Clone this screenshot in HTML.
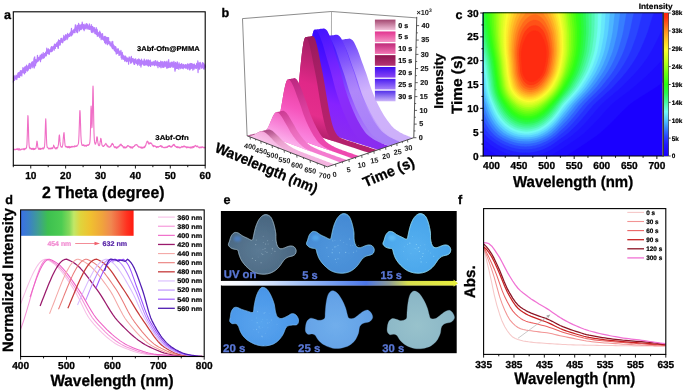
<!DOCTYPE html>
<html lang="en"><head><meta charset="utf-8"><title>Figure</title>
<style>
html,body{margin:0;padding:0;background:#fff;}
body{width:685px;height:390px;overflow:hidden;}
svg{display:block;}
svg text{font-family:"Liberation Sans",sans-serif;text-rendering:geometricPrecision;}
</style></head><body>
<svg width="685" height="390" viewBox="0 0 685 390">
<rect width="685" height="390" fill="#fff"/>
<g id="panel_a">
<path d="M13.3 82.54 L13.57 80.02 L13.85 79.22 L14.12 75.66 L14.4 78.14 L14.67 77.78 L14.95 78.02 L15.22 76.88 L15.5 77.65 L15.77 76.69 L16.05 75.04 L16.32 78.56 L16.59 78.33 L16.87 79.52 L17.14 76.47 L17.42 75.48 L17.69 75.02 L17.97 73.1 L18.24 77.17 L18.52 73.41 L18.79 73.05 L19.07 74.49 L19.34 77.15 L19.61 74.8 L19.89 72.44 L20.16 72.74 L20.44 74.8 L20.71 73.24 L20.99 71.99 L21.26 72.68 L21.54 74.12 L21.81 75.99 L22.09 70.3 L22.36 71.13 L22.63 70.61 L22.91 67.64 L23.18 69.97 L23.46 69.58 L23.73 73.01 L24.01 70.65 L24.28 67.9 L24.56 71.54 L24.83 69.61 L25.11 67.04 L25.38 68.77 L25.65 68.56 L25.93 67.86 L26.2 69.18 L26.48 65.08 L26.75 68.23 L27.03 70.19 L27.3 69.7 L27.58 69.92 L27.85 69.72 L28.12 70.13 L28.4 65.48 L28.67 68.6 L28.95 63.78 L29.22 65.7 L29.5 63.25 L29.77 68.07 L30.05 68.34 L30.32 65.52 L30.6 68.65 L30.87 64.27 L31.14 65.46 L31.42 65.25 L31.69 62.96 L31.97 65.3 L32.24 67.63 L32.52 62.37 L32.79 65.41 L33.07 63.3 L33.34 65.86 L33.62 62.06 L33.89 59.91 L34.16 58 L34.44 57.7 L34.71 56.9 L34.99 63.36 L35.26 59.34 L35.54 62.11 L35.81 62.58 L36.09 59.9 L36.36 61.36 L36.64 62.88 L36.91 60.65 L37.18 58.96 L37.46 55.31 L37.73 58.4 L38.01 58.84 L38.28 58.75 L38.56 57.79 L38.83 59.85 L39.11 58.02 L39.38 58.6 L39.66 59.73 L39.93 56.91 L40.2 57.65 L40.48 61.61 L40.75 59.22 L41.03 55.33 L41.3 57.18 L41.58 58.06 L41.85 58.99 L42.13 56.94 L42.4 55.57 L42.68 55.02 L42.95 57.15 L43.22 56.37 L43.5 54.75 L43.77 55.1 L44.05 54.5 L44.32 56.23 L44.6 53.61 L44.87 55.4 L45.15 55.81 L45.42 54.97 L45.7 52.52 L45.97 56.01 L46.24 52.35 L46.52 54.02 L46.79 51.8 L47.07 49.9 L47.34 53.03 L47.62 52.92 L47.89 52.09 L48.17 52.47 L48.44 50.68 L48.72 50.32 L48.99 51.07 L49.26 54.38 L49.54 52.3 L49.81 49.81 L50.09 51.43 L50.36 49.44 L50.64 49.26 L50.91 51.28 L51.19 48.7 L51.46 46.52 L51.73 47.61 L52.01 49.07 L52.28 48.92 L52.56 50.58 L52.83 47.03 L53.11 49.26 L53.38 48.51 L53.66 47.31 L53.93 48.75 L54.21 47.94 L54.48 45.41 L54.75 48.46 L55.03 44.34 L55.3 46.28 L55.58 45.95 L55.85 46.44 L56.13 44.25 L56.4 45.19 L56.68 44.77 L56.95 46.47 L57.23 43.19 L57.5 44.43 L57.77 43.63 L58.05 41.63 L58.32 48.15 L58.6 43.25 L58.87 40.61 L59.15 45.29 L59.42 40.84 L59.7 43.06 L59.97 43.66 L60.25 40.85 L60.52 40.99 L60.79 40.57 L61.07 41.03 L61.34 38.26 L61.62 38.68 L61.89 40.31 L62.17 42.08 L62.44 41.15 L62.72 42.78 L62.99 40.79 L63.27 38.51 L63.54 38.94 L63.81 35.46 L64.09 37.05 L64.36 36.71 L64.64 38.68 L64.91 39.09 L65.19 36.8 L65.46 36.53 L65.74 34.67 L66.01 36.85 L66.29 37.27 L66.56 37.37 L66.83 35.06 L67.11 39.54 L67.38 37.96 L67.66 35.54 L67.93 34.57 L68.21 34.68 L68.48 35.25 L68.76 34.72 L69.03 35.33 L69.31 35.58 L69.58 36.36 L69.85 35.74 L70.13 33.37 L70.4 33.98 L70.68 32.42 L70.95 31.84 L71.23 35.85 L71.5 31.59 L71.78 35.52 L72.05 31.32 L72.33 32.11 L72.6 33.31 L72.87 31.28 L73.15 31.69 L73.42 30.39 L73.7 29.78 L73.97 30.1 L74.25 29.08 L74.52 32.76 L74.8 29.5 L75.07 32.53 L75.34 24.85 L75.62 29.27 L75.89 30.02 L76.17 28.4 L76.44 30.58 L76.72 29.63 L76.99 27.9 L77.27 28.92 L77.54 32.77 L77.82 28.24 L78.09 28.13 L78.36 26.7 L78.64 27.49 L78.91 24.91 L79.19 26.6 L79.46 30.96 L79.74 28.45 L80.01 27.59 L80.29 28.26 L80.56 29.48 L80.84 27.19 L81.11 29.63 L81.38 27.87 L81.66 26.3 L81.93 28.92 L82.21 21.99 L82.48 25.03 L82.76 26.46 L83.03 24.46 L83.31 25.76 L83.58 24.95 L83.86 24.93 L84.13 30.67 L84.4 27.14 L84.68 26 L84.95 28.35 L85.23 25.73 L85.5 27.66 L85.78 26.78 L86.05 28.97 L86.33 23.82 L86.6 27.56 L86.88 26.49 L87.15 24.35 L87.42 28.18 L87.7 24.95 L87.97 29.27 L88.25 27.49 L88.52 27.91 L88.8 26.99 L89.07 28.53 L89.35 23.97 L89.62 27.42 L89.9 26.39 L90.17 28.11 L90.44 27.72 L90.72 29.03 L90.99 26.73 L91.27 31.46 L91.54 32.45 L91.82 28.34 L92.09 28.84 L92.37 29.53 L92.64 31.36 L92.92 32.62 L93.19 27.52 L93.46 28.72 L93.74 28.15 L94.01 28.26 L94.29 27.57 L94.56 31.18 L94.84 28.8 L95.11 33.55 L95.39 32.75 L95.66 29.68 L95.94 29.9 L96.21 30.84 L96.48 34.49 L96.76 30.9 L97.03 30.04 L97.31 32.73 L97.58 33.69 L97.86 32.18 L98.13 36.29 L98.41 34.19 L98.68 34.8 L98.95 32.82 L99.23 34.45 L99.5 34.5 L99.78 31.15 L100.05 35.75 L100.33 32.45 L100.6 35.7 L100.88 33.49 L101.15 39.67 L101.43 37.03 L101.7 38.18 L101.97 38.52 L102.25 34.95 L102.52 33.55 L102.8 37.11 L103.07 39.43 L103.35 38.29 L103.62 39.7 L103.9 40.19 L104.17 36.3 L104.45 39.56 L104.72 42.65 L104.99 38.57 L105.27 36.32 L105.54 39.61 L105.82 39.45 L106.09 41.19 L106.37 39.19 L106.64 41.1 L106.92 37.41 L107.19 42.87 L107.47 44.36 L107.74 44.1 L108.01 39.56 L108.29 42.92 L108.56 37.54 L108.84 43.34 L109.11 42.99 L109.39 41.65 L109.66 44.18 L109.94 44.07 L110.21 45.68 L110.49 44.55 L110.76 44.99 L111.03 41.53 L111.31 43.12 L111.58 44.54 L111.86 46.11 L112.13 45.85 L112.41 48.67 L112.68 44.9 L112.96 46.24 L113.23 47.35 L113.51 46.8 L113.78 48.32 L114.05 46.79 L114.33 50.46 L114.6 47.8 L114.88 50.53 L115.15 48.88 L115.43 51.77 L115.7 47.16 L115.98 50.71 L116.25 49.4 L116.53 50.83 L116.8 52.76 L117.07 49.1 L117.35 49.08 L117.62 49.93 L117.9 52.35 L118.17 49 L118.45 52.66 L118.72 50.58 L119 51.1 L119.27 52.69 L119.55 54.22 L119.82 52.77 L120.09 53.25 L120.37 54.26 L120.64 54.12 L120.92 50.29 L121.19 54.36 L121.47 55.48 L121.74 57.46 L122.02 59.32 L122.29 57.22 L122.56 56.46 L122.84 54.92 L123.11 56.94 L123.39 58.34 L123.66 59.38 L123.94 55.94 L124.21 58.04 L124.49 59.22 L124.76 61.18 L125.04 58.62 L125.31 57.42 L125.58 57.32 L125.86 58.02 L126.13 57.65 L126.41 60.29 L126.68 60.83 L126.96 60.36 L127.23 61.27 L127.51 58.59 L127.78 60.11 L128.06 58.92 L128.33 59.75 L128.6 61.85 L128.88 59.81 L129.15 56.79 L129.43 59.62 L129.7 58.92 L129.98 57.65 L130.25 58.95 L130.53 62 L130.8 63.3 L131.08 59.69 L131.35 62.29 L131.62 62.66 L131.9 58.76 L132.17 60.73 L132.45 60.79 L132.72 61.22 L133 58.28 L133.27 60.46 L133.55 62.91 L133.82 63.31 L134.1 64.34 L134.37 60.71 L134.64 64.52 L134.92 62.52 L135.19 59.13 L135.47 62.79 L135.74 60.95 L136.02 62.48 L136.29 61.47 L136.57 63.75 L136.84 62.18 L137.12 61.3 L137.39 63.47 L137.66 62.31 L137.94 61.21 L138.21 64.13 L138.49 61.3 L138.76 60.95 L139.04 61.16 L139.31 59.62 L139.59 61.21 L139.86 65.36 L140.14 60.68 L140.41 62.28 L140.68 60.42 L140.96 61.3 L141.23 64.95 L141.51 63.93 L141.78 61.4 L142.06 62.48 L142.33 61.1 L142.61 61.2 L142.88 61.01 L143.16 61.07 L143.43 63.18 L143.7 63.68 L143.98 63.52 L144.25 62.43 L144.53 60.44 L144.8 62.67 L145.08 61.24 L145.35 64.34 L145.63 63.81 L145.9 64.16 L146.17 62.33 L146.45 59.87 L146.72 64.61 L147 65.09 L147.27 60.51 L147.55 63.29 L147.82 65.12 L148.1 61.28 L148.37 66.15 L148.65 62.57 L148.92 61.37 L149.19 65.55 L149.47 63.75 L149.74 62.16 L150.02 64.8 L150.29 60 L150.57 66.44 L150.84 61.99 L151.12 63.89 L151.39 62.76 L151.67 64.2 L151.94 64.99 L152.21 62.11 L152.49 64.87 L152.76 63.06 L153.04 62.42 L153.31 63.23 L153.59 61.93 L153.86 62.31 L154.14 65.3 L154.41 63.45 L154.69 65.68 L154.96 64.49 L155.23 62.04 L155.51 60.58 L155.78 62.66 L156.06 64.3 L156.33 63.89 L156.61 62.49 L156.88 65.65 L157.16 60.98 L157.43 61.83 L157.71 64.21 L157.98 67.75 L158.25 64.74 L158.53 62.35 L158.8 65.09 L159.08 65.27 L159.35 65.73 L159.63 63.46 L159.9 62.82 L160.18 64.4 L160.45 64.93 L160.73 66.96 L161 67.82 L161.27 63.04 L161.55 63.42 L161.82 64.22 L162.1 63.93 L162.37 65.2 L162.65 65.22 L162.92 64.85 L163.2 66.72 L163.47 64.19 L163.75 62.69 L164.02 61.85 L164.29 62.77 L164.57 62.77 L164.84 61.36 L165.12 65.72 L165.39 64.93 L165.67 63.92 L165.94 63.14 L166.22 61.99 L166.49 63.14 L166.77 67.87 L167.04 60.99 L167.31 65.02 L167.59 66.06 L167.86 65.06 L168.14 64.31 L168.41 66.18 L168.69 63.02 L168.96 65.87 L169.24 67.38 L169.51 63.2 L169.78 63.6 L170.06 65.25 L170.33 66.73 L170.61 67.35 L170.88 66.26 L171.16 63.99 L171.43 63.26 L171.71 65.59 L171.98 65.88 L172.26 63.36 L172.53 65.35 L172.8 65.84 L173.08 67.08 L173.35 63.64 L173.63 66.3 L173.9 63.39 L174.18 64.68 L174.45 65.29 L174.73 68.03 L175 71.11 L175.28 65.93 L175.55 66.37 L175.82 67.26 L176.1 63.26 L176.37 66.9 L176.65 63.51 L176.92 68.41 L177.2 68.12 L177.47 66.54 L177.75 64.34 L178.02 68.57 L178.3 66.2 L178.57 65.97 L178.84 66.79 L179.12 62.91 L179.39 66.57 L179.67 67.56 L179.94 66.46 L180.22 66.15 L180.49 64.3 L180.77 67.04 L181.04 66.3 L181.32 66 L181.59 65.04 L181.86 67.47 L182.14 68.15 L182.41 66.71 L182.69 67.59 L182.96 68.34 L183.24 68.8 L183.51 66.5 L183.79 65.77 L184.06 65.44 L184.34 66.18 L184.61 67.11 L184.88 67.78 L185.16 65.47 L185.43 66.46 L185.71 64.52 L185.98 68.37 L186.26 65.57 L186.53 66.85 L186.81 65.03 L187.08 65.75 L187.36 65.1 L187.63 69.17 L187.9 66.89 L188.18 66 L188.45 64.68 L188.73 65.25 L189 67.26 L189.28 69.13 L189.55 63.87 L189.83 64.74 L190.1 66 L190.38 65.23 L190.65 63.48 L190.92 66.33 L191.2 67.58 L191.47 63.62 L191.75 66.66 L192.02 67.94 L192.3 67.97 L192.57 65.59 L192.85 70.22 L193.12 67.24 L193.39 64.92 L193.67 67.97 L193.94 64.39 L194.22 67.82 L194.49 64.15 L194.77 67.64 L195.04 65.31 L195.32 68.22 L195.59 67.56 L195.87 67.06 L196.14 66.4 L196.41 68.15 L196.69 63.23 L196.96 67.04 L197.24 67 L197.51 67.26 L197.79 67.7 L198.06 72.59 L198.34 66.5 L198.61 67.67 L198.89 66.56 L199.16 68.97 L199.43 62.86 L199.71 69.19 L199.98 65.14 L200.26 62.45 L200.53 64.47 L200.81 66 L201.08 66.63 L201.36 66.22 L201.63 67.69 L201.91 66.24 L202.18 66.19 L202.45 62.66 L202.73 67.13 L203 68.02 L203.28 65.58 L203.55 63.11 L203.83 64.03 L204.1 69.15 L204.38 65.27 L204.65 65.17 L204.93 64.91 L205.2 67.46" fill="none" stroke="#b67dfc" stroke-width="1.2" stroke-linejoin="round"/>
<path d="M13.3 78.5 L13.57 77.8 L13.85 76.49 L14.12 78.65 L14.4 80.31 L14.67 78.14 L14.95 79.66 L15.22 78.24 L15.5 77.97 L15.77 77.8 L16.05 77.33 L16.32 78.8 L16.59 77.66 L16.87 75.63 L17.14 76.61 L17.42 76.04 L17.69 76.77 L17.97 76.03 L18.24 76.21 L18.52 72.77 L18.79 75.71 L19.07 77.07 L19.34 72.32 L19.61 77.12 L19.89 74.68 L20.16 73.6 L20.44 70.67 L20.71 75.36 L20.99 71.65 L21.26 72.21 L21.54 73.78 L21.81 70.89 L22.09 70.74 L22.36 70.24 L22.63 71.79 L22.91 72.76 L23.18 72.22 L23.46 72.01 L23.73 70.51 L24.01 71.12 L24.28 69.48 L24.56 73.83 L24.83 70.55 L25.11 66.68 L25.38 67.96 L25.65 72.28 L25.93 67.02 L26.2 68.38 L26.48 69.59 L26.75 66.82 L27.03 70.28 L27.3 71.11 L27.58 66.63 L27.85 69.73 L28.12 66.08 L28.4 65.68 L28.67 67.58 L28.95 67.35 L29.22 65.71 L29.5 67.94 L29.77 63.79 L30.05 64.62 L30.32 64.02 L30.6 66.93 L30.87 66.79 L31.14 66.34 L31.42 62.78 L31.69 64.99 L31.97 65.33 L32.24 61.59 L32.52 62.72 L32.79 65.01 L33.07 64.98 L33.34 64.41 L33.62 65.85 L33.89 67.15 L34.16 68.01 L34.44 66.86 L34.71 63.51 L34.99 62.75 L35.26 61.52 L35.54 65.73 L35.81 61.98 L36.09 61.31 L36.36 60.72 L36.64 60.7 L36.91 60.22 L37.18 61.4 L37.46 60.21 L37.73 61.43 L38.01 58.66 L38.28 60.23 L38.56 60.91 L38.83 57.25 L39.11 59.28 L39.38 59.21 L39.66 58.01 L39.93 57.54 L40.2 55 L40.48 59.9 L40.75 56.15 L41.03 55.42 L41.3 58.43 L41.58 53.99 L41.85 58.53 L42.13 57.42 L42.4 57.49 L42.68 55.98 L42.95 53.98 L43.22 52.63 L43.5 58.11 L43.77 54.62 L44.05 54.33 L44.32 57.68 L44.6 53.71 L44.87 54.17 L45.15 53.96 L45.42 53.91 L45.7 52.17 L45.97 52.77 L46.24 55.69 L46.52 54.59 L46.79 48.02 L47.07 49.54 L47.34 53.22 L47.62 52.24 L47.89 51.58 L48.17 53.78 L48.44 48.75 L48.72 53.61 L48.99 51.58 L49.26 52.07 L49.54 51.35 L49.81 52.14 L50.09 50.05 L50.36 49.34 L50.64 51.37 L50.91 50.11 L51.19 47.46 L51.46 51.67 L51.73 51.21 L52.01 51.37 L52.28 48.83 L52.56 49.07 L52.83 47.6 L53.11 46.36 L53.38 47.9 L53.66 47.86 L53.93 46.21 L54.21 50.21 L54.48 44.13 L54.75 45.26 L55.03 45.27 L55.3 48.37 L55.58 45.51 L55.85 45.16 L56.13 43.98 L56.4 43.95 L56.68 42.8 L56.95 46.51 L57.23 45.58 L57.5 45.99 L57.77 42.95 L58.05 48.11 L58.32 41.94 L58.6 39.88 L58.87 42.64 L59.15 43.13 L59.42 43.95 L59.7 40.7 L59.97 43.2 L60.25 44.86 L60.52 40.27 L60.79 40.23 L61.07 38.36 L61.34 41.43 L61.62 42.24 L61.89 41.85 L62.17 41.73 L62.44 42.49 L62.72 40.06 L62.99 41.23 L63.27 37.76 L63.54 37.8 L63.81 39.32 L64.09 37.29 L64.36 39.42 L64.64 40.56 L64.91 38.67 L65.19 36.5 L65.46 36.26 L65.74 39.62 L66.01 35.71 L66.29 37 L66.56 36.18 L66.83 36.48 L67.11 38.03 L67.38 35.01 L67.66 33.3 L67.93 37.93 L68.21 35.61 L68.48 36.22 L68.76 34.72 L69.03 35.83 L69.31 36.42 L69.58 36.36 L69.85 33.33 L70.13 32.96 L70.4 33.99 L70.68 33.43 L70.95 33.8 L71.23 31.4 L71.5 28.42 L71.78 32.9 L72.05 33.24 L72.33 32.78 L72.6 34.28 L72.87 32.68 L73.15 30.36 L73.42 32.48 L73.7 30.45 L73.97 32.52 L74.25 30.58 L74.52 30.75 L74.8 30.18 L75.07 29.69 L75.34 26.87 L75.62 29.34 L75.89 25.2 L76.17 29.74 L76.44 30.41 L76.72 32.03 L76.99 29 L77.27 26.96 L77.54 25.29 L77.82 31.12 L78.09 25.2 L78.36 28.97 L78.64 23.35 L78.91 27.01 L79.19 28.1 L79.46 27.33 L79.74 26.57 L80.01 25.1 L80.29 24.84 L80.56 27.99 L80.84 26.93 L81.11 25.84 L81.38 26.41 L81.66 24.44 L81.93 27.74 L82.21 28.14 L82.48 24.68 L82.76 26.18 L83.03 27.8 L83.31 24.93 L83.58 29.49 L83.86 28.62 L84.13 25.59 L84.4 27.74 L84.68 28.92 L84.95 24 L85.23 27.19 L85.5 25.91 L85.78 25.81 L86.05 27.41 L86.33 25.42 L86.6 23.88 L86.88 23.87 L87.15 26.29 L87.42 27.44 L87.7 26.39 L87.97 26.26 L88.25 26.57 L88.52 28.92 L88.8 27.76 L89.07 25.72 L89.35 26.65 L89.62 29.34 L89.9 26.47 L90.17 26.96 L90.44 27.76 L90.72 26.17 L90.99 29.69 L91.27 24.62 L91.54 30.98 L91.82 27.95 L92.09 26.73 L92.37 29.52 L92.64 26.3 L92.92 30.3 L93.19 30.89 L93.46 28.78 L93.74 29.3 L94.01 31.77 L94.29 29.22 L94.56 30.6 L94.84 31.37 L95.11 33.64 L95.39 30.35 L95.66 31.49 L95.94 33.58 L96.21 27.54 L96.48 31.65 L96.76 29.1 L97.03 29.45 L97.31 36.14 L97.58 33.42 L97.86 35.82 L98.13 33.13 L98.41 34.7 L98.68 33.29 L98.95 33.34 L99.23 34.39 L99.5 34.98 L99.78 37.62 L100.05 34.92 L100.33 36.15 L100.6 35.31 L100.88 36.24 L101.15 34.01 L101.43 38.33 L101.7 35.83 L101.97 37.03 L102.25 36.83 L102.52 39.11 L102.8 38.55 L103.07 37.92 L103.35 38.43 L103.62 38.95 L103.9 39.89 L104.17 39.7 L104.45 41.25 L104.72 42.05 L104.99 40.58 L105.27 37.52 L105.54 42.98 L105.82 43.89 L106.09 39.86 L106.37 40.01 L106.64 37.45 L106.92 42.51 L107.19 39.71 L107.47 44.77 L107.74 37.68 L108.01 42.26 L108.29 43.52 L108.56 41.93 L108.84 41.51 L109.11 43.53 L109.39 42.45 L109.66 43.01 L109.94 43.77 L110.21 43.14 L110.49 43.95 L110.76 45.92 L111.03 44.17 L111.31 45.37 L111.58 44.06 L111.86 47.16 L112.13 43.67 L112.41 47.75 L112.68 41.24 L112.96 45.1 L113.23 44.22 L113.51 48.92 L113.78 47.93 L114.05 45.53 L114.33 47.07 L114.6 50.61 L114.88 48.52 L115.15 49.87 L115.43 46.65 L115.7 46.95 L115.98 50.78 L116.25 54.03 L116.53 49.49 L116.8 51.71 L117.07 49.39 L117.35 53.42 L117.62 50.81 L117.9 51.14 L118.17 48.95 L118.45 51.74 L118.72 53.04 L119 55.34 L119.27 51.27 L119.55 55.19 L119.82 53.2 L120.09 53.54 L120.37 52.66 L120.64 51.63 L120.92 52.71 L121.19 57.79 L121.47 53.25 L121.74 54.78 L122.02 57.64 L122.29 52.41 L122.56 57 L122.84 55.6 L123.11 57.02 L123.39 58.4 L123.66 56.88 L123.94 57.02 L124.21 58.79 L124.49 58.83 L124.76 56.7 L125.04 57.78 L125.31 55.97 L125.58 60.6 L125.86 56.48 L126.13 58.99 L126.41 61.77 L126.68 60.29 L126.96 58.55 L127.23 57.93 L127.51 58.21 L127.78 60.95 L128.06 60.08 L128.33 59.59 L128.6 64.13 L128.88 58.38 L129.15 59.06 L129.43 59.35 L129.7 60.44 L129.98 60.68 L130.25 59.77 L130.53 61.57 L130.8 61.31 L131.08 59.95 L131.35 56.36 L131.62 61.94 L131.9 59.04 L132.17 59.61 L132.45 60.53 L132.72 58.73 L133 59.51 L133.27 61.05 L133.55 60.4 L133.82 61.57 L134.1 59.63 L134.37 60.74 L134.64 59.38 L134.92 60.76 L135.19 61.78 L135.47 60.93 L135.74 58.96 L136.02 61.12 L136.29 61.74 L136.57 63.47 L136.84 61.52 L137.12 60.94 L137.39 59.69 L137.66 65.11 L137.94 60.16 L138.21 59.89 L138.49 61.6 L138.76 58.8 L139.04 63.76 L139.31 62.29 L139.59 62.85 L139.86 60.39 L140.14 61.23 L140.41 63.59 L140.68 63.71 L140.96 67.03 L141.23 64.11 L141.51 59.07 L141.78 62.47 L142.06 61.74 L142.33 64.25 L142.61 62.27 L142.88 63.29 L143.16 61.95 L143.43 63.56 L143.7 65.04 L143.98 61.55 L144.25 59.16 L144.53 60.9 L144.8 65.34 L145.08 63.09 L145.35 62.24 L145.63 61.13 L145.9 64.59 L146.17 63.32 L146.45 62.67 L146.72 61.97 L147 62.65 L147.27 62.4 L147.55 63.94 L147.82 65.16 L148.1 59.69 L148.37 60.58 L148.65 62.91 L148.92 63.24 L149.19 60.49 L149.47 62.1 L149.74 62.5 L150.02 62.46 L150.29 62.45 L150.57 63.12 L150.84 64.79 L151.12 64.57 L151.39 64.35 L151.67 63.84 L151.94 62.18 L152.21 62.6 L152.49 64.62 L152.76 63.66 L153.04 64.85 L153.31 63.97 L153.59 63.65 L153.86 64.32 L154.14 60.98 L154.41 63.35 L154.69 62.64 L154.96 65.11 L155.23 62.55 L155.51 64.11 L155.78 63.01 L156.06 64.57 L156.33 65 L156.61 63.45 L156.88 64 L157.16 64.14 L157.43 65.18 L157.71 63.33 L157.98 63.98 L158.25 63.2 L158.53 62.32 L158.8 64.27 L159.08 64.71 L159.35 62.63 L159.63 66.71 L159.9 62.78 L160.18 65.34 L160.45 64.73 L160.73 61.22 L161 64.09 L161.27 61.48 L161.55 64 L161.82 65.35 L162.1 67.36 L162.37 65.58 L162.65 61.67 L162.92 63.69 L163.2 66.86 L163.47 64.63 L163.75 67.35 L164.02 63.13 L164.29 63.44 L164.57 62.11 L164.84 63.78 L165.12 66.59 L165.39 62.89 L165.67 65.92 L165.94 65.3 L166.22 65.89 L166.49 64.13 L166.77 64.63 L167.04 68.25 L167.31 62.51 L167.59 65.96 L167.86 67.27 L168.14 65.49 L168.41 67.55 L168.69 59.71 L168.96 64.26 L169.24 62.81 L169.51 64.12 L169.78 64.66 L170.06 65.69 L170.33 63.44 L170.61 66.41 L170.88 62.26 L171.16 66.6 L171.43 64.56 L171.71 61.99 L171.98 62.01 L172.26 62 L172.53 63.38 L172.8 65.29 L173.08 67.36 L173.35 66.48 L173.63 62.89 L173.9 61.27 L174.18 64.69 L174.45 62.8 L174.73 64.95 L175 64.1 L175.28 69.66 L175.55 62.38 L175.82 65.87 L176.1 68.51 L176.37 64.68 L176.65 64.06 L176.92 68.28 L177.2 61.83 L177.47 62.54 L177.75 63.38 L178.02 66.18 L178.3 66.84 L178.57 65.33 L178.84 69.29 L179.12 65.24 L179.39 65.61 L179.67 65.11 L179.94 67.76 L180.22 65.71 L180.49 65.04 L180.77 68.62 L181.04 67.97 L181.32 67.51 L181.59 63.65 L181.86 64.01 L182.14 65.45 L182.41 65.44 L182.69 65.17 L182.96 65.54 L183.24 67.06 L183.51 64.23 L183.79 66.41 L184.06 65.32 L184.34 65.19 L184.61 65.55 L184.88 67.32 L185.16 66.55 L185.43 64.75 L185.71 66.67 L185.98 66.35 L186.26 66.85 L186.53 65.71 L186.81 67.88 L187.08 66.84 L187.36 64.25 L187.63 64.02 L187.9 63.82 L188.18 66.91 L188.45 65.06 L188.73 65.65 L189 66.14 L189.28 68.36 L189.55 70 L189.83 66.08 L190.1 69.68 L190.38 67.22 L190.65 68.34 L190.92 65.81 L191.2 64.17 L191.47 67.12 L191.75 68.5 L192.02 63.62 L192.3 66.19 L192.57 66.67 L192.85 67.31 L193.12 64.44 L193.39 65.34 L193.67 67.88 L193.94 69.38 L194.22 66.47 L194.49 67.97 L194.77 66.58 L195.04 67.03 L195.32 65.63 L195.59 65.9 L195.87 65.31 L196.14 66.46 L196.41 68.18 L196.69 66.62 L196.96 67.41 L197.24 65.2 L197.51 67.52 L197.79 60.9 L198.06 63.86 L198.34 65.72 L198.61 63.18 L198.89 67.26 L199.16 66.64 L199.43 64.72 L199.71 66.45 L199.98 63.7 L200.26 64.74 L200.53 65.63 L200.81 63.54 L201.08 68.07 L201.36 65.16 L201.63 68.03 L201.91 66.04 L202.18 66.82 L202.45 64.73 L202.73 65.77 L203 65.57 L203.28 66.69 L203.55 68.64 L203.83 65.33 L204.1 66.01 L204.38 66.91 L204.65 67.76 L204.93 66.1 L205.2 65.64" fill="none" stroke="#b67dfc" stroke-width="1.2" stroke-linejoin="round"/>
<path d="M13.3 149.26 L13.49 149.47 L13.68 149.55 L13.88 149.22 L14.07 149.35 L14.26 149.72 L14.45 149.44 L14.64 149.25 L14.84 149.69 L15.03 149.69 L15.22 149.65 L15.41 149.67 L15.61 149.29 L15.8 149.5 L15.99 149.54 L16.18 149.46 L16.37 148.8 L16.57 149.41 L16.76 149.53 L16.95 149.58 L17.14 149.3 L17.33 149.41 L17.53 148.76 L17.72 148.87 L17.91 148.35 L18.1 149.31 L18.29 149.95 L18.49 149.99 L18.68 148.98 L18.87 149.6 L19.06 149.8 L19.25 149.25 L19.45 148.67 L19.64 149.85 L19.83 149.22 L20.02 149.2 L20.22 149.93 L20.41 149.49 L20.6 149.62 L20.79 149.88 L20.98 149.26 L21.18 148.96 L21.37 149.57 L21.56 149.29 L21.75 149.54 L21.94 149.41 L22.14 149 L22.33 149.26 L22.52 149.13 L22.71 149.15 L22.9 149.2 L23.1 149.33 L23.29 149.26 L23.48 148.72 L23.67 149.37 L23.87 148.62 L24.06 149.88 L24.25 148.8 L24.44 149.01 L24.63 149.47 L24.83 148.88 L25.02 148.45 L25.21 148.33 L25.4 148.85 L25.59 148.8 L25.79 148.82 L25.98 148.47 L26.17 147.99 L26.36 147.98 L26.55 147.7 L26.75 145.71 L26.94 144.97 L27.13 139.62 L27.32 134.31 L27.51 127.19 L27.71 119.83 L27.9 115.64 L28.09 116.93 L28.28 122.76 L28.48 128.8 L28.67 136.74 L28.86 141.51 L29.05 144.57 L29.24 146.6 L29.44 147.52 L29.63 148.09 L29.82 147.99 L30.01 148.77 L30.2 147.77 L30.4 148.27 L30.59 148.26 L30.78 148.79 L30.97 148.63 L31.16 149.03 L31.36 148.6 L31.55 149.36 L31.74 149.19 L31.93 148.77 L32.13 148.37 L32.32 148.56 L32.51 148.44 L32.7 149.43 L32.89 149.27 L33.09 148.56 L33.28 149.67 L33.47 148.9 L33.66 148.21 L33.85 149.38 L34.05 149.45 L34.24 148.98 L34.43 148.65 L34.62 149.38 L34.81 148.75 L35.01 148.89 L35.2 149.03 L35.39 148.91 L35.58 148.55 L35.77 148.16 L35.97 148.41 L36.16 146.65 L36.35 146.3 L36.54 144.55 L36.74 142.77 L36.93 141.14 L37.12 141.32 L37.31 142.8 L37.5 144.03 L37.7 146.14 L37.89 147.5 L38.08 147.65 L38.27 148.14 L38.46 149.2 L38.66 149.1 L38.85 148.53 L39.04 149.07 L39.23 148.99 L39.42 149.35 L39.62 149.27 L39.81 148.02 L40 148.77 L40.19 149.36 L40.38 149.44 L40.58 148.65 L40.77 148.42 L40.96 148.94 L41.15 148.61 L41.35 148.81 L41.54 148.39 L41.73 149.05 L41.92 148.96 L42.11 148.89 L42.31 148.31 L42.5 148.07 L42.69 148.17 L42.88 148.74 L43.07 147.87 L43.27 148.66 L43.46 148.96 L43.65 148 L43.84 148 L44.03 148.19 L44.23 147.8 L44.42 146.58 L44.61 145.4 L44.8 143.05 L45 138.87 L45.19 133.48 L45.38 126.9 L45.57 121.82 L45.76 118.82 L45.96 122.44 L46.15 128.05 L46.34 134.17 L46.53 139.81 L46.72 143.77 L46.92 145.76 L47.11 146.75 L47.3 147.54 L47.49 147.52 L47.68 147.5 L47.88 147.79 L48.07 147.93 L48.26 148.34 L48.45 148.61 L48.64 148.47 L48.84 148.93 L49.03 148.42 L49.22 148.25 L49.41 148.23 L49.61 148.19 L49.8 148.41 L49.99 149 L50.18 148.01 L50.37 148.72 L50.57 148.52 L50.76 148.81 L50.95 148.35 L51.14 148.76 L51.33 148.32 L51.53 148.71 L51.72 147.78 L51.91 148.62 L52.1 148.68 L52.29 147.81 L52.49 148.58 L52.68 147.72 L52.87 148.17 L53.06 147.36 L53.26 146.99 L53.45 146.21 L53.64 145.16 L53.83 146.01 L54.02 146.24 L54.22 146.06 L54.41 147.25 L54.6 147.71 L54.79 147.64 L54.98 147.69 L55.18 148.59 L55.37 148.03 L55.56 148.49 L55.75 148.83 L55.94 148.32 L56.14 147.82 L56.33 148.44 L56.52 147.58 L56.71 147.7 L56.9 148.99 L57.1 147.63 L57.29 147.95 L57.48 147.34 L57.67 147.48 L57.87 147.28 L58.06 145.74 L58.25 145.5 L58.44 144.51 L58.63 142.55 L58.83 139.9 L59.02 136.99 L59.21 135.67 L59.4 134.93 L59.59 135.93 L59.79 138.35 L59.98 141.63 L60.17 142.76 L60.36 145.14 L60.55 146 L60.75 146.06 L60.94 146.62 L61.13 147.04 L61.32 147.01 L61.52 147.27 L61.71 146.8 L61.9 146.71 L62.09 147.26 L62.28 146.6 L62.48 145.8 L62.67 145.21 L62.86 144.45 L63.05 141.62 L63.24 138.79 L63.44 136.9 L63.63 134.86 L63.82 133.26 L64.01 132.56 L64.2 133.96 L64.4 137.65 L64.59 139.85 L64.78 142.47 L64.97 144.05 L65.16 145.94 L65.36 146.15 L65.55 146.46 L65.74 146.87 L65.93 146.54 L66.13 147.1 L66.32 147.06 L66.51 146.39 L66.7 146.76 L66.89 146.74 L67.09 146.64 L67.28 147.32 L67.47 147.59 L67.66 147.31 L67.85 146.68 L68.05 146.56 L68.24 147.45 L68.43 147.06 L68.62 147.13 L68.81 146.69 L69.01 146.43 L69.2 147.9 L69.39 146.89 L69.58 147.02 L69.78 146.67 L69.97 147.59 L70.16 146.92 L70.35 146.97 L70.54 147.02 L70.74 146.98 L70.93 147.46 L71.12 146.31 L71.31 147.15 L71.5 146.69 L71.7 146.74 L71.89 146.65 L72.08 146.99 L72.27 146.37 L72.46 146.61 L72.66 146.97 L72.85 146.55 L73.04 146.56 L73.23 146.83 L73.42 146.7 L73.62 146.53 L73.81 146.64 L74 146.28 L74.19 146.86 L74.39 146.15 L74.58 145.94 L74.77 146.61 L74.96 145.97 L75.15 146.06 L75.35 146.28 L75.54 146.56 L75.73 146.1 L75.92 146.06 L76.11 146.01 L76.31 146.23 L76.5 145.85 L76.69 146.04 L76.88 146.34 L77.07 145.69 L77.27 145.52 L77.46 145.18 L77.65 145.07 L77.84 144.66 L78.04 144.37 L78.23 143.99 L78.42 143.36 L78.61 141.78 L78.8 138.81 L79 135.08 L79.19 129.12 L79.38 123.89 L79.57 117.63 L79.76 111.89 L79.96 110.45 L80.15 112.49 L80.34 117.88 L80.53 123.84 L80.72 129.81 L80.92 135.79 L81.11 138.88 L81.3 141.83 L81.49 142.87 L81.68 143.77 L81.88 144.87 L82.07 145.38 L82.26 144.96 L82.45 145 L82.65 145.36 L82.84 145.15 L83.03 144.8 L83.22 145.46 L83.41 144.73 L83.61 145.69 L83.8 145.4 L83.99 145.66 L84.18 145.1 L84.37 145.36 L84.57 145.83 L84.76 146.11 L84.95 145.93 L85.14 145.78 L85.33 145.25 L85.53 145.83 L85.72 145.67 L85.91 145.5 L86.1 146.06 L86.29 145.32 L86.49 146.18 L86.68 145.32 L86.87 145.28 L87.06 145.45 L87.26 144.99 L87.45 145.25 L87.64 145.39 L87.83 144.72 L88.02 144.96 L88.22 144.69 L88.41 144.93 L88.6 145.37 L88.79 144.69 L88.98 144.62 L89.18 144.56 L89.37 143.82 L89.56 143.89 L89.75 142.96 L89.94 141.62 L90.14 138.7 L90.33 134.45 L90.52 127.86 L90.71 118.89 L90.91 109.94 L91.1 106.05 L91.29 108.42 L91.48 115.21 L91.67 122.25 L91.87 127.71 L92.06 126.25 L92.25 121.15 L92.44 112.01 L92.63 99.83 L92.83 90.06 L93.02 86.14 L93.21 89.79 L93.4 99.99 L93.59 112 L93.79 123.67 L93.98 131.88 L94.17 136.79 L94.36 139.94 L94.55 141.91 L94.75 142.85 L94.94 143.32 L95.13 144.21 L95.32 143.78 L95.52 143.86 L95.71 143.85 L95.9 142.6 L96.09 142.58 L96.28 141.4 L96.48 140.18 L96.67 137.83 L96.86 136.87 L97.05 136.75 L97.24 137.15 L97.44 138.1 L97.63 140.58 L97.82 141.77 L98.01 143.31 L98.2 143.77 L98.4 145.11 L98.59 145.02 L98.78 145.09 L98.97 145.7 L99.17 145.79 L99.36 144.95 L99.55 145.33 L99.74 145.01 L99.93 143.69 L100.13 141.95 L100.32 141.25 L100.51 140.04 L100.7 138.28 L100.89 138.9 L101.09 138.78 L101.28 139.99 L101.47 141.87 L101.66 142.97 L101.85 144.5 L102.05 144.9 L102.24 145.6 L102.43 145.8 L102.62 146.07 L102.81 146.29 L103.01 146.29 L103.2 146.03 L103.39 146.43 L103.58 146.01 L103.78 146.36 L103.97 146.01 L104.16 145.58 L104.35 145.13 L104.54 145.15 L104.74 145.34 L104.93 144.63 L105.12 144.64 L105.31 144.04 L105.5 143.8 L105.7 143.6 L105.89 143.2 L106.08 144.13 L106.27 144.25 L106.46 144.5 L106.66 145.11 L106.85 144.82 L107.04 146.07 L107.23 145.26 L107.43 146.11 L107.62 145.82 L107.81 146.32 L108 146.96 L108.19 146.14 L108.39 146.8 L108.58 146.84 L108.77 146.9 L108.96 146.95 L109.15 147.16 L109.35 147.05 L109.54 146.99 L109.73 147.13 L109.92 146.99 L110.11 146.63 L110.31 146.12 L110.5 146.66 L110.69 146.05 L110.88 146.49 L111.07 145.42 L111.27 144.86 L111.46 145.33 L111.65 144.33 L111.84 143.76 L112.04 144.46 L112.23 143.39 L112.42 144.33 L112.61 143.63 L112.8 144.31 L113 144.53 L113.19 144.16 L113.38 145.16 L113.57 145.39 L113.76 145.93 L113.96 146.39 L114.15 147.02 L114.34 146.61 L114.53 146.84 L114.72 147.76 L114.92 147.37 L115.11 147.47 L115.3 146.72 L115.49 146.81 L115.69 147.14 L115.88 147.29 L116.07 147.54 L116.26 148.34 L116.45 146.95 L116.65 147.24 L116.84 147.59 L117.03 147.45 L117.22 147.72 L117.41 147.19 L117.61 146.93 L117.8 147.91 L117.99 147.25 L118.18 146.57 L118.37 146.74 L118.57 146.69 L118.76 146.02 L118.95 146.62 L119.14 146.19 L119.33 145.79 L119.53 145.46 L119.72 146.04 L119.91 145.23 L120.1 144.8 L120.3 144.2 L120.49 144.44 L120.68 145.01 L120.87 145.29 L121.06 144.43 L121.26 144.24 L121.45 145.14 L121.64 145.31 L121.83 145.85 L122.02 145.53 L122.22 146.05 L122.41 145.6 L122.6 146.03 L122.79 146.47 L122.98 146.68 L123.18 147.18 L123.37 147.56 L123.56 146.74 L123.75 147.92 L123.95 147.14 L124.14 147.31 L124.33 147.89 L124.52 146.68 L124.71 147.03 L124.91 147.25 L125.1 147.55 L125.29 147.88 L125.48 147.85 L125.67 147.09 L125.87 147.6 L126.06 147.11 L126.25 147.68 L126.44 146.95 L126.63 147.29 L126.83 146.42 L127.02 146.9 L127.21 146 L127.4 146.37 L127.59 145.62 L127.79 146.01 L127.98 145.69 L128.17 145.55 L128.36 145.94 L128.56 146.14 L128.75 145.95 L128.94 146.09 L129.13 146.35 L129.32 146.65 L129.52 146.72 L129.71 146.66 L129.9 147.37 L130.09 146.64 L130.28 147.23 L130.48 146.67 L130.67 148.02 L130.86 147.18 L131.05 147.4 L131.24 147.88 L131.44 147.37 L131.63 147.16 L131.82 146.81 L132.01 147.35 L132.21 148.13 L132.4 147.43 L132.59 147.92 L132.78 147.53 L132.97 146.99 L133.17 146.55 L133.36 146.86 L133.55 147 L133.74 146.56 L133.93 146.53 L134.13 146.5 L134.32 145.99 L134.51 145.42 L134.7 145.63 L134.89 145.77 L135.09 145.11 L135.28 144.87 L135.47 144.76 L135.66 144.93 L135.85 144.9 L136.05 144.89 L136.24 144.47 L136.43 144.96 L136.62 144.81 L136.82 144.81 L137.01 144.62 L137.2 145.04 L137.39 145.38 L137.58 145.83 L137.78 146.11 L137.97 146.16 L138.16 146.41 L138.35 146.1 L138.54 146.94 L138.74 147.09 L138.93 147.18 L139.12 146.88 L139.31 147.13 L139.5 147.09 L139.7 146.87 L139.89 147.28 L140.08 146.91 L140.27 146.88 L140.46 147.73 L140.66 147.76 L140.85 147.88 L141.04 147.45 L141.23 147.62 L141.43 147.81 L141.62 147.49 L141.81 146.91 L142 148.41 L142.19 148.05 L142.39 148.05 L142.58 147.63 L142.77 147.31 L142.96 147.6 L143.15 147.65 L143.35 147.04 L143.54 147.32 L143.73 147.63 L143.92 147.9 L144.11 147.5 L144.31 147.03 L144.5 146.58 L144.69 147.56 L144.88 146.66 L145.08 146.6 L145.27 146.01 L145.46 145.13 L145.65 145.91 L145.84 144.88 L146.04 144.55 L146.23 143.29 L146.42 143.02 L146.61 143.02 L146.8 141.99 L147 141.55 L147.19 141.22 L147.38 141.09 L147.57 141.95 L147.76 141.85 L147.96 141.54 L148.15 143.05 L148.34 143.32 L148.53 143.61 L148.72 142.83 L148.92 143.71 L149.11 144.24 L149.3 143.44 L149.49 143.46 L149.69 143.53 L149.88 142.73 L150.07 143.32 L150.26 143.41 L150.45 143.16 L150.65 143.38 L150.84 142.92 L151.03 143 L151.22 143.16 L151.41 143.27 L151.61 143.47 L151.8 143.94 L151.99 144.53 L152.18 144.71 L152.37 145.24 L152.57 145.49 L152.76 145.89 L152.95 145.64 L153.14 145.2 L153.34 145.65 L153.53 146.68 L153.72 146.27 L153.91 145.85 L154.1 145.91 L154.3 145.94 L154.49 145.81 L154.68 146.07 L154.87 146.29 L155.06 146.54 L155.26 146.08 L155.45 146.21 L155.64 146.31 L155.83 146.55 L156.02 147.03 L156.22 146.51 L156.41 147.65 L156.6 147.16 L156.79 147.43 L156.98 146.79 L157.18 147.02 L157.37 146.99 L157.56 147.19 L157.75 146.45 L157.95 147.3 L158.14 146.49 L158.33 147.13 L158.52 147.27 L158.71 146.79 L158.91 146.63 L159.1 146.5 L159.29 146.35 L159.48 146.39 L159.67 146.49 L159.87 146.29 L160.06 146.5 L160.25 145.94 L160.44 145.69 L160.63 145.71 L160.83 145.48 L161.02 145.85 L161.21 145.87 L161.4 146.82 L161.6 146.51 L161.79 147.09 L161.98 145.94 L162.17 146.85 L162.36 147.23 L162.56 147.1 L162.75 146.93 L162.94 147.24 L163.13 147.3 L163.32 147.37 L163.52 147.47 L163.71 147.75 L163.9 147.53 L164.09 147.58 L164.28 147.5 L164.48 147.66 L164.67 147.25 L164.86 147.7 L165.05 147.37 L165.24 147.76 L165.44 147.23 L165.63 147.38 L165.82 147.29 L166.01 146.94 L166.21 147.59 L166.4 147.27 L166.59 147.06 L166.78 147.37 L166.97 146.72 L167.17 146.71 L167.36 146.98 L167.55 147.33 L167.74 146.4 L167.93 146.84 L168.13 146.25 L168.32 145.86 L168.51 146.28 L168.7 146.54 L168.89 146.2 L169.09 146.35 L169.28 145.88 L169.47 145.55 L169.66 146.52 L169.86 146.02 L170.05 146.58 L170.24 146.45 L170.43 146.78 L170.62 147.07 L170.82 146.2 L171.01 146.72 L171.2 146.68 L171.39 147.14 L171.58 146.6 L171.78 146.17 L171.97 146.11 L172.16 146.77 L172.35 145.66 L172.54 145.79 L172.74 145.68 L172.93 145.01 L173.12 144.96 L173.31 144.42 L173.5 144.69 L173.7 145.19 L173.89 145.04 L174.08 144.35 L174.27 145.61 L174.47 144.79 L174.66 145.08 L174.85 146.16 L175.04 145.97 L175.23 145.98 L175.43 146.72 L175.62 146.36 L175.81 146.68 L176 146.52 L176.19 146.81 L176.39 146.94 L176.58 147.45 L176.77 146.93 L176.96 147.14 L177.15 146.51 L177.35 146.71 L177.54 147.58 L177.73 147.22 L177.92 147.26 L178.12 147.6 L178.31 147.28 L178.5 147.44 L178.69 147.31 L178.88 146.71 L179.08 147.62 L179.27 147.92 L179.46 147.81 L179.65 147.42 L179.84 147.48 L180.04 147.51 L180.23 147.88 L180.42 147.76 L180.61 147.2 L180.8 147.25 L181 147.19 L181.19 147.02 L181.38 146.97 L181.57 147.09 L181.76 146.25 L181.96 147.16 L182.15 146.81 L182.34 146.49 L182.53 146.78 L182.73 146.52 L182.92 147.14 L183.11 146.28 L183.3 146.63 L183.49 146.67 L183.69 146.22 L183.88 146.05 L184.07 146.59 L184.26 146.31 L184.45 146.13 L184.65 145.97 L184.84 146.71 L185.03 147.06 L185.22 146.41 L185.41 146.82 L185.61 147.08 L185.8 147.11 L185.99 146.62 L186.18 147.07 L186.37 147.18 L186.57 147.87 L186.76 147.12 L186.95 147.46 L187.14 147.43 L187.34 147.41 L187.53 146.88 L187.72 147.35 L187.91 147.79 L188.1 147.17 L188.3 147.39 L188.49 147.06 L188.68 147.43 L188.87 147.47 L189.06 147.59 L189.26 147.22 L189.45 147.21 L189.64 147.17 L189.83 147.45 L190.02 147.42 L190.22 148.12 L190.41 147.14 L190.6 147.58 L190.79 147.16 L190.99 147.18 L191.18 147.69 L191.37 147.46 L191.56 147.48 L191.75 146.83 L191.95 148.14 L192.14 147.93 L192.33 146.95 L192.52 146.69 L192.71 146.85 L192.91 147.1 L193.1 146.63 L193.29 146.95 L193.48 146.53 L193.67 147.58 L193.87 146.45 L194.06 146.25 L194.25 146.96 L194.44 146.26 L194.63 146.04 L194.83 145.93 L195.02 146.05 L195.21 145.66 L195.4 145.83 L195.6 145.61 L195.79 145.38 L195.98 145.8 L196.17 146.05 L196.36 146.64 L196.56 146.3 L196.75 146.23 L196.94 146.51 L197.13 146.78 L197.32 145.93 L197.52 146.65 L197.71 146.15 L197.9 146.37 L198.09 146.78 L198.28 147.04 L198.48 147.14 L198.67 147.21 L198.86 147.64 L199.05 147.37 L199.25 147.37 L199.44 147.14 L199.63 147.92 L199.82 147.71 L200.01 147.08 L200.21 147.08 L200.4 147.55 L200.59 147.63 L200.78 147.18 L200.97 147.67 L201.17 146.89 L201.36 147.24 L201.55 147.64 L201.74 147.1 L201.93 147.35 L202.13 147.29 L202.32 147.21 L202.51 146.66 L202.7 147.18 L202.89 147.35 L203.09 147.36 L203.28 147.55 L203.47 147.61 L203.66 147.17 L203.86 147.22 L204.05 147.86 L204.24 147.59 L204.43 147.3 L204.62 147.22 L204.82 147.65 L205.01 147.65 L205.2 147.26" fill="none" stroke="#f06fc6" stroke-width="1.1" stroke-linejoin="round"/>
<rect x="13.3" y="11.8" width="191.9" height="153.5" fill="none" stroke="#000" stroke-width="1.1"/>
<line x1="13.3" y1="165.3" x2="13.3" y2="167.2" stroke="#000" stroke-width="0.9"/>
<line x1="30.75" y1="165.3" x2="30.75" y2="168.5" stroke="#000" stroke-width="0.9"/>
<line x1="48.19" y1="165.3" x2="48.19" y2="167.2" stroke="#000" stroke-width="0.9"/>
<line x1="65.64" y1="165.3" x2="65.64" y2="168.5" stroke="#000" stroke-width="0.9"/>
<line x1="83.08" y1="165.3" x2="83.08" y2="167.2" stroke="#000" stroke-width="0.9"/>
<line x1="100.53" y1="165.3" x2="100.53" y2="168.5" stroke="#000" stroke-width="0.9"/>
<line x1="117.97" y1="165.3" x2="117.97" y2="167.2" stroke="#000" stroke-width="0.9"/>
<line x1="135.42" y1="165.3" x2="135.42" y2="168.5" stroke="#000" stroke-width="0.9"/>
<line x1="152.86" y1="165.3" x2="152.86" y2="167.2" stroke="#000" stroke-width="0.9"/>
<line x1="170.31" y1="165.3" x2="170.31" y2="168.5" stroke="#000" stroke-width="0.9"/>
<line x1="187.75" y1="165.3" x2="187.75" y2="167.2" stroke="#000" stroke-width="0.9"/>
<line x1="205.2" y1="165.3" x2="205.2" y2="168.5" stroke="#000" stroke-width="0.9"/>
<text x="30.75" y="178.8" font-size="10.1" font-weight="bold" text-anchor="middle" fill="#000" stroke="#000" stroke-width="0.3">10</text>
<text x="65.64" y="178.8" font-size="10.1" font-weight="bold" text-anchor="middle" fill="#000" stroke="#000" stroke-width="0.3">20</text>
<text x="100.53" y="178.8" font-size="10.1" font-weight="bold" text-anchor="middle" fill="#000" stroke="#000" stroke-width="0.3">30</text>
<text x="135.42" y="178.8" font-size="10.1" font-weight="bold" text-anchor="middle" fill="#000" stroke="#000" stroke-width="0.3">40</text>
<text x="170.31" y="178.8" font-size="10.1" font-weight="bold" text-anchor="middle" fill="#000" stroke="#000" stroke-width="0.3">50</text>
<text x="205.2" y="178.8" font-size="10.1" font-weight="bold" text-anchor="middle" fill="#000" stroke="#000" stroke-width="0.3">60</text>
<text x="42" y="197.9" font-size="16.6" font-weight="bold" text-anchor="start" fill="#000" stroke="#000" stroke-width="0.3" textLength="122.5" lengthAdjust="spacingAndGlyphs">2 Theta (degree)</text>
<text x="137" y="50.9" font-size="7" font-weight="bold" text-anchor="start" fill="#000" stroke="#000" stroke-width="0.2" textLength="62.6" lengthAdjust="spacingAndGlyphs">3Abf-Ofn@PMMA</text>
<text x="155.3" y="140" font-size="7" font-weight="bold" text-anchor="start" fill="#000" stroke="#000" stroke-width="0.2" textLength="33.4" lengthAdjust="spacingAndGlyphs">3Abf-Ofn</text>
<text x="4" y="19" font-size="12.6" font-weight="bold" text-anchor="start" fill="#000" stroke="#000" stroke-width="0.3">a</text>
</g>
<g id="panel_b">
<defs><linearGradient id="rb6" gradientUnits="userSpaceOnUse" x1="356.83" y1="128.8" x2="380.45" y2="47.51"><stop offset="0" stop-color="#cdb0fa"/><stop offset="0.3" stop-color="#b088ff"/><stop offset="0.6" stop-color="#8458ff"/><stop offset="0.85" stop-color="#5a30ff"/><stop offset="1" stop-color="#5a30ff"/></linearGradient><linearGradient id="rb6s" gradientUnits="userSpaceOnUse" x1="344.21" y1="39.22" x2="380.99" y2="148.37"><stop offset="0" stop-color="#6a40fa"/><stop offset="0.04" stop-color="#7148fa"/><stop offset="0.13" stop-color="#855ffb"/><stop offset="0.24" stop-color="#a07efb"/><stop offset="0.37" stop-color="#bfa1fc"/><stop offset="0.49" stop-color="#d0b3fc"/><stop offset="0.59" stop-color="#cfb3fb"/><stop offset="0.69" stop-color="#ceb2fb"/><stop offset="0.77" stop-color="#ceb1fb"/><stop offset="0.83" stop-color="#ceb1fa"/><stop offset="0.89" stop-color="#cdb0fa"/><stop offset="0.93" stop-color="#cdb0fa"/><stop offset="0.96" stop-color="#cdb0fa"/><stop offset="1" stop-color="#cdb0fa"/></linearGradient><linearGradient id="rb5" gradientUnits="userSpaceOnUse" x1="344.98" y1="132.21" x2="371.47" y2="45.15"><stop offset="0" stop-color="#a880f8"/><stop offset="0.3" stop-color="#9c60ff"/><stop offset="0.6" stop-color="#7038ff"/><stop offset="0.85" stop-color="#4a1cff"/><stop offset="1" stop-color="#4a1cff"/></linearGradient><linearGradient id="rb5s" gradientUnits="userSpaceOnUse" x1="331.88" y1="35.24" x2="371.09" y2="151.56"><stop offset="0" stop-color="#5424ff"/><stop offset="0.04" stop-color="#5a2bff"/><stop offset="0.12" stop-color="#6c3efe"/><stop offset="0.24" stop-color="#8458fc"/><stop offset="0.36" stop-color="#9f76fb"/><stop offset="0.49" stop-color="#af87fa"/><stop offset="0.59" stop-color="#ad85f9"/><stop offset="0.69" stop-color="#ac84f9"/><stop offset="0.76" stop-color="#aa82f9"/><stop offset="0.83" stop-color="#a981f8"/><stop offset="0.89" stop-color="#a981f8"/><stop offset="0.93" stop-color="#a880f8"/><stop offset="0.97" stop-color="#a880f8"/><stop offset="1" stop-color="#a880f8"/></linearGradient><linearGradient id="rb4" gradientUnits="userSpaceOnUse" x1="333.55" y1="135.49" x2="363.63" y2="40.97"><stop offset="0" stop-color="#8a2cf0"/><stop offset="0.3" stop-color="#8622ff"/><stop offset="0.6" stop-color="#5a14ff"/><stop offset="0.85" stop-color="#3c0cff"/><stop offset="1" stop-color="#3a0cff"/></linearGradient><linearGradient id="rb4s" gradientUnits="userSpaceOnUse" x1="319.54" y1="29" x2="361.97" y2="154.93"><stop offset="0" stop-color="#4414ff"/><stop offset="0.04" stop-color="#4a16ff"/><stop offset="0.14" stop-color="#591bff"/><stop offset="0.27" stop-color="#7023ff"/><stop offset="0.4" stop-color="#842aff"/><stop offset="0.52" stop-color="#8a2cfc"/><stop offset="0.64" stop-color="#8a2cf8"/><stop offset="0.72" stop-color="#8a2cf5"/><stop offset="0.8" stop-color="#8a2cf3"/><stop offset="0.86" stop-color="#8a2cf2"/><stop offset="0.9" stop-color="#8a2cf1"/><stop offset="0.94" stop-color="#8a2cf0"/><stop offset="0.97" stop-color="#8a2cf0"/><stop offset="1" stop-color="#8a2cf0"/></linearGradient><linearGradient id="rb3" gradientUnits="userSpaceOnUse" x1="324.32" y1="138.14" x2="353.62" y2="49.35"><stop offset="0" stop-color="#b4206c"/><stop offset="0.2" stop-color="#e42e8c"/><stop offset="0.5" stop-color="#e02888"/><stop offset="0.8" stop-color="#b82270"/><stop offset="1" stop-color="#a01e62"/></linearGradient><linearGradient id="rb3s" gradientUnits="userSpaceOnUse" x1="308.97" y1="36.45" x2="350.3" y2="159.1"><stop offset="0" stop-color="#981a5e"/><stop offset="0.08" stop-color="#9c1b60"/><stop offset="0.24" stop-color="#a61e64"/><stop offset="0.46" stop-color="#b12069"/><stop offset="0.65" stop-color="#b3206b"/><stop offset="0.76" stop-color="#b4206c"/><stop offset="0.82" stop-color="#b4206c"/><stop offset="0.85" stop-color="#b4206c"/><stop offset="0.87" stop-color="#b4206c"/><stop offset="0.9" stop-color="#b4206c"/><stop offset="0.92" stop-color="#b4206c"/><stop offset="0.95" stop-color="#b4206c"/><stop offset="0.97" stop-color="#b4206c"/><stop offset="1" stop-color="#b4206c"/></linearGradient><linearGradient id="rb2" gradientUnits="userSpaceOnUse" x1="308.01" y1="142.82" x2="326.8" y2="89.42"><stop offset="0" stop-color="#fb8ae2"/><stop offset="0.5" stop-color="#f654bc"/><stop offset="1" stop-color="#e43a9a"/></linearGradient><linearGradient id="rb2s" gradientUnits="userSpaceOnUse" x1="291.49" y1="78.75" x2="321.81" y2="168.71"><stop offset="0" stop-color="#bc2880"/><stop offset="0.06" stop-color="#c12b85"/><stop offset="0.19" stop-color="#cc348f"/><stop offset="0.34" stop-color="#db3e9d"/><stop offset="0.47" stop-color="#e242a4"/><stop offset="0.6" stop-color="#e745a9"/><stop offset="0.68" stop-color="#ea46ac"/><stop offset="0.76" stop-color="#ed47af"/><stop offset="0.81" stop-color="#ed48af"/><stop offset="0.85" stop-color="#ee48b0"/><stop offset="0.89" stop-color="#ee48b0"/><stop offset="0.92" stop-color="#ee48b0"/><stop offset="0.96" stop-color="#ee48b0"/><stop offset="1" stop-color="#ee48b0"/></linearGradient><linearGradient id="rb1" gradientUnits="userSpaceOnUse" x1="296.37" y1="146.16" x2="306.31" y2="119.18"><stop offset="0" stop-color="#fcb0ec"/><stop offset="0.5" stop-color="#f884d8"/><stop offset="1" stop-color="#f05cbc"/></linearGradient><linearGradient id="rb1s" gradientUnits="userSpaceOnUse" x1="280.19" y1="111.49" x2="301.75" y2="175.47"><stop offset="0" stop-color="#cc3c94"/><stop offset="0.07" stop-color="#d1439a"/><stop offset="0.19" stop-color="#dc55a9"/><stop offset="0.33" stop-color="#e96aba"/><stop offset="0.44" stop-color="#ed71c3"/><stop offset="0.54" stop-color="#f177ca"/><stop offset="0.62" stop-color="#f37ace"/><stop offset="0.68" stop-color="#f47bcf"/><stop offset="0.73" stop-color="#f47cd0"/><stop offset="0.79" stop-color="#f47cd0"/><stop offset="0.84" stop-color="#f47cd0"/><stop offset="0.89" stop-color="#f47cd0"/><stop offset="0.94" stop-color="#f47cd0"/><stop offset="1" stop-color="#f47cd0"/></linearGradient><linearGradient id="rb0" gradientUnits="userSpaceOnUse" x1="283.46" y1="149.87" x2="288.5" y2="136.87"><stop offset="0" stop-color="#f8c4ea"/><stop offset="0.5" stop-color="#f6b0e0"/><stop offset="1" stop-color="#ee90cc"/></linearGradient><linearGradient id="rb0s" gradientUnits="userSpaceOnUse" x1="266.84" y1="130.68" x2="283.95" y2="181.46"><stop offset="0" stop-color="#b0508a"/><stop offset="0.07" stop-color="#bd6198"/><stop offset="0.18" stop-color="#dc8aba"/><stop offset="0.28" stop-color="#eba1cf"/><stop offset="0.38" stop-color="#f0abd8"/><stop offset="0.46" stop-color="#f3b1dd"/><stop offset="0.53" stop-color="#f4b3df"/><stop offset="0.59" stop-color="#f4b4e0"/><stop offset="0.65" stop-color="#f4b4e0"/><stop offset="0.72" stop-color="#f4b4e0"/><stop offset="0.79" stop-color="#f4b4e0"/><stop offset="0.85" stop-color="#f4b4e0"/><stop offset="0.93" stop-color="#f4b4e0"/><stop offset="1" stop-color="#f4b4e0"/></linearGradient><linearGradient id="sw0" x1="0" y1="0" x2="0" y2="1"><stop offset="0" stop-color="#a3466f"/><stop offset="1" stop-color="#f3c4dc"/></linearGradient><linearGradient id="sw1" x1="0" y1="0" x2="0" y2="1"><stop offset="0" stop-color="#e2338f"/><stop offset="1" stop-color="#f596c6"/></linearGradient><linearGradient id="sw2" x1="0" y1="0" x2="0" y2="1"><stop offset="0" stop-color="#bf2a79"/><stop offset="1" stop-color="#f274b3"/></linearGradient><linearGradient id="sw3" x1="0" y1="0" x2="0" y2="1"><stop offset="0" stop-color="#8f1550"/><stop offset="1" stop-color="#b43374"/></linearGradient><linearGradient id="sw4" x1="0" y1="0" x2="0" y2="1"><stop offset="0" stop-color="#3c0ef2"/><stop offset="1" stop-color="#8b45f4"/></linearGradient><linearGradient id="sw5" x1="0" y1="0" x2="0" y2="1"><stop offset="0" stop-color="#4a1cf2"/><stop offset="1" stop-color="#a884f8"/></linearGradient><linearGradient id="sw6" x1="0" y1="0" x2="0" y2="1"><stop offset="0" stop-color="#5230ea"/><stop offset="1" stop-color="#cdb6fa"/></linearGradient></defs>
<line x1="247.1" y1="135.9" x2="242.5" y2="18.6" stroke="#5a5a5a" stroke-width="0.7"/>
<line x1="242.5" y1="18.6" x2="331.5" y2="11.5" stroke="#5a5a5a" stroke-width="0.7"/>
<line x1="331.5" y1="11.5" x2="416.9" y2="17.9" stroke="#5a5a5a" stroke-width="0.7"/>
<line x1="331.5" y1="11.5" x2="331.2" y2="110" stroke="#8a8a8a" stroke-width="0.7"/>
<path d="M318.74 117.39 L319.6 117.43 L320.47 117.05 L321.33 117.05 L322.19 116.7 L323.05 116.05 L323.91 115 L324.77 113.55 L325.63 111.53 L326.49 108.94 L327.35 105.64 L328.21 101.65 L329.07 96.9 L329.93 91.46 L330.79 85.42 L331.66 78.93 L332.52 72.19 L333.38 65.46 L334.24 59 L335.1 53.12 L335.96 48.08 L336.82 44.08 L337.68 41.44 L338.54 40.08 L339.4 40.1 L340.26 39.84 L341.12 39.84 L341.99 39.68 L342.85 39.41 L343.71 39.47 L344.57 39.31 L345.43 39.11 L346.29 39.11 L347.15 38.93 L348.01 38.73 L348.87 38.78 L349.73 38.55 L350.59 38.91 L351.45 39.45 L352.32 40.11 L353.18 41.04 L354.04 42.36 L354.9 44.01 L355.76 45.8 L356.62 47.65 L357.48 49.59 L358.34 51.75 L359.2 54.11 L360.06 56.56 L360.92 59.04 L361.78 61.49 L362.65 63.84 L363.51 66.11 L364.37 68.38 L365.23 70.68 L366.09 73.06 L366.95 75.57 L367.81 78.22 L368.67 80.93 L369.53 83.64 L370.39 86.26 L371.25 88.75 L372.11 91.03 L372.97 93.18 L373.84 95.27 L374.7 97.29 L375.56 99.25 L376.42 101.14 L377.28 102.97 L378.14 104.73 L379 106.43 L379.86 108.07 L380.72 109.66 L381.58 111.23 L382.44 112.75 L383.3 114.22 L384.17 115.64 L385.03 117 L385.89 118.3 L386.75 119.53 L387.61 120.71 L388.47 121.86 L389.33 123 L390.19 124.1 L391.05 125.16 L391.91 126.15 L392.77 127.07 L393.63 127.9 L394.5 128.63 L395.36 129.28 L396.22 129.89 L397.08 130.49 L397.94 131.06 L398.8 131.61 L399.66 132.13 L400.52 132.63 L401.38 133.1 L402.24 133.55 L403.1 133.98 L403.96 134.38 L404.82 134.75 L405.69 135.12 L406.55 135.47 L407.41 135.82 L408.27 136.17 L409.13 136.5 L409.99 136.83 L410.85 137.15 L411.71 137.46 L412.57 137.76 L412.56 138.12 L401.61 141.81 L394.21 139.67 L387.01 137.57 L380 135.54 L373.17 133.55 L366.51 131.62 L360.02 129.73 L353.68 127.89 L347.5 126.09 L341.48 124.34 L335.59 122.63 L329.84 120.96 L324.23 119.33 L318.75 117.74Z" fill="url(#rb6s)"/>
<path d="M318.74 117.39 L319.83 117.43 L320.92 117.28 L322.01 116.85 L323.11 115.99 L324.21 114.56 L325.32 112.35 L326.42 109.18 L327.54 104.88 L328.65 99.33 L329.78 92.51 L330.91 84.58 L332.06 75.82 L333.21 66.74 L334.38 57.97 L335.56 50.26 L336.75 44.32 L337.95 40.79 L339.16 40.02 L340.38 40.55 L341.6 41.43 L342.82 42.72 L344.05 44.83 L345.28 47.4 L346.51 50.09 L347.75 53.13 L348.99 56.56 L350.23 60.19 L351.48 63.78 L352.73 67.2 L353.99 70.55 L355.25 73.98 L356.51 77.63 L357.77 81.59 L359.04 85.63 L360.31 89.55 L361.59 93.13 L362.87 96.39 L364.16 99.52 L365.46 102.51 L366.76 105.37 L368.06 108.09 L369.38 110.68 L370.69 113.17 L372.02 115.58 L373.35 117.89 L374.69 120.09 L376.03 122.15 L377.38 124.06 L378.74 125.91 L380.11 127.7 L381.48 129.39 L382.86 130.9 L384.26 132.17 L385.66 133.24 L387.07 134.25 L388.48 135.2 L389.91 136.08 L391.34 136.91 L392.79 137.67 L394.24 138.36 L395.7 139 L397.16 139.62 L398.64 140.23 L400.12 140.82 L401.62 141.38 L401.61 141.81 L394.21 139.67 L387.01 137.57 L380 135.54 L373.17 133.55 L366.51 131.62 L360.02 129.73 L353.68 127.89 L347.5 126.09 L341.48 124.34 L335.59 122.63 L329.84 120.96 L324.23 119.33 L318.75 117.74Z" fill="url(#rb6)"/>
<path d="M307.05 120.29 L307.91 120.32 L308.77 119.96 L309.62 119.93 L310.48 119.53 L311.33 118.77 L312.19 117.61 L313.04 116 L313.9 113.76 L314.75 110.86 L315.61 107.18 L316.47 102.66 L317.32 97.32 L318.18 91.13 L319.03 84.29 L319.89 76.91 L320.74 69.31 L321.6 61.79 L322.46 54.7 L323.31 48.39 L324.17 43.12 L325.02 39.23 L325.88 36.76 L326.73 35.98 L327.59 36 L328.45 35.82 L329.3 35.59 L330.16 35.6 L331.01 35.51 L331.87 35.24 L332.72 35.15 L333.58 35.21 L334.44 34.95 L335.29 34.73 L336.15 34.81 L337 34.64 L337.86 34.99 L338.71 35.56 L339.57 36.23 L340.43 37.19 L341.28 38.57 L342.14 40.24 L342.99 42.12 L343.85 44.05 L344.7 46.05 L345.56 48.28 L346.41 50.69 L347.27 53.24 L348.13 55.84 L348.98 58.43 L349.84 60.94 L350.69 63.35 L351.55 65.73 L352.4 68.12 L353.26 70.56 L354.12 73.11 L354.97 75.81 L355.83 78.61 L356.68 81.46 L357.54 84.28 L358.39 87.01 L359.25 89.56 L360.11 91.92 L360.96 94.18 L361.82 96.36 L362.67 98.48 L363.53 100.53 L364.38 102.51 L365.24 104.43 L366.1 106.29 L366.95 108.08 L367.81 109.8 L368.66 111.49 L369.52 113.14 L370.37 114.74 L371.23 116.3 L372.09 117.81 L372.94 119.26 L373.8 120.65 L374.65 121.97 L375.51 123.23 L376.36 124.44 L377.22 125.65 L378.07 126.83 L378.93 127.96 L379.79 129.04 L380.64 130.06 L381.5 130.99 L382.35 131.82 L383.21 132.55 L384.06 133.22 L384.92 133.86 L385.78 134.48 L386.63 135.07 L387.49 135.64 L388.34 136.18 L389.2 136.71 L390.05 137.2 L390.91 137.67 L391.77 138.11 L392.62 138.53 L393.48 138.93 L394.33 139.31 L395.19 139.68 L396.04 140.05 L396.9 140.41 L397.76 140.76 L398.61 141.11 L399.47 141.44 L400.32 141.77 L400.31 142.25 L389.72 145.82 L382.32 143.57 L375.12 141.38 L368.11 139.24 L361.28 137.17 L354.64 135.14 L348.16 133.17 L341.84 131.25 L335.68 129.38 L329.68 127.55 L323.82 125.76 L318.1 124.02 L312.51 122.32 L307.06 120.66Z" fill="url(#rb5s)"/>
<path d="M307.05 120.29 L308.13 120.32 L309.21 120.15 L310.3 119.66 L311.38 118.72 L312.47 117.15 L313.56 114.75 L314.65 111.3 L315.73 106.62 L316.82 100.58 L317.91 93.17 L319 84.54 L320.1 75.01 L321.22 65.12 L322.34 55.57 L323.49 47.16 L324.65 40.68 L325.83 36.82 L327.04 35.95 L328.25 36.5 L329.47 37.41 L330.69 38.73 L331.93 40.92 L333.16 43.62 L334.4 46.46 L335.65 49.62 L336.9 53.22 L338.16 57.06 L339.41 60.91 L340.67 64.58 L341.94 68.14 L343.21 71.75 L344.48 75.55 L345.76 79.69 L347.04 83.98 L348.32 88.23 L349.6 92.18 L350.9 95.73 L352.19 99.11 L353.5 102.35 L354.8 105.45 L356.12 108.41 L357.43 111.23 L358.76 113.92 L360.09 116.53 L361.42 119.04 L362.77 121.45 L364.12 123.72 L365.47 125.84 L366.83 127.83 L368.2 129.78 L369.58 131.65 L370.96 133.38 L372.36 134.92 L373.76 136.18 L375.17 137.29 L376.59 138.34 L378.01 139.33 L379.45 140.26 L380.89 141.12 L382.34 141.91 L383.8 142.63 L385.27 143.3 L386.75 143.96 L388.23 144.6 L389.73 145.22 L389.72 145.82 L382.32 143.57 L375.12 141.38 L368.11 139.24 L361.28 137.17 L354.64 135.14 L348.16 133.17 L341.84 131.25 L335.68 129.38 L329.68 127.55 L323.82 125.76 L318.1 124.02 L312.51 122.32 L307.06 120.66Z" fill="url(#rb5)"/>
<path d="M295.82 122.96 L296.67 122.92 L297.52 122.57 L298.38 122.32 L299.23 121.61 L300.08 120.54 L300.93 118.94 L301.79 116.75 L302.64 113.79 L303.49 109.96 L304.35 105.21 L305.2 99.36 L306.05 92.54 L306.91 84.82 L307.76 76.38 L308.61 67.61 L309.47 58.88 L310.32 50.67 L311.17 43.35 L312.03 37.45 L312.88 33.01 L313.73 30.49 L314.59 29.65 L315.44 29.55 L316.29 29.59 L317.15 29.34 L318 29.22 L318.85 29.21 L319.71 29.07 L320.56 28.86 L321.41 28.78 L322.27 28.81 L323.12 28.58 L323.97 28.4 L324.83 28.65 L325.68 29.25 L326.53 30 L327.39 31.04 L328.24 32.64 L329.09 34.6 L329.95 36.79 L330.8 39.04 L331.65 41.42 L332.5 44.1 L333.36 46.98 L334.21 49.98 L335.06 53.01 L335.92 55.98 L336.77 58.82 L337.62 61.59 L338.48 64.37 L339.33 67.2 L340.18 70.16 L341.04 73.28 L341.89 76.56 L342.74 79.87 L343.6 83.14 L344.45 86.26 L345.3 89.16 L346.16 91.84 L347.01 94.42 L347.86 96.92 L348.72 99.34 L349.57 101.67 L350.42 103.92 L351.28 106.09 L352.13 108.17 L352.98 110.18 L353.84 112.13 L354.69 114.03 L355.54 115.88 L356.4 117.68 L357.25 119.4 L358.1 121.04 L358.96 122.61 L359.81 124.09 L360.66 125.5 L361.52 126.89 L362.37 128.26 L363.22 129.57 L364.07 130.81 L364.93 131.96 L365.78 133 L366.63 133.92 L367.49 134.7 L368.34 135.44 L369.19 136.15 L370.05 136.83 L370.9 137.47 L371.75 138.09 L372.61 138.67 L373.46 139.22 L374.31 139.74 L375.17 140.22 L376.02 140.68 L376.87 141.1 L377.73 141.51 L378.58 141.92 L379.43 142.31 L380.29 142.7 L381.14 143.07 L381.99 143.43 L382.85 143.78 L383.7 144.12 L384.55 144.44 L385.41 144.75 L386.26 145.04 L387.11 145.33 L387.97 145.62 L388.82 145.91 L388.82 146.13 L378.21 149.7 L370.81 147.34 L363.62 145.05 L356.62 142.83 L349.81 140.66 L343.18 138.55 L336.72 136.49 L330.43 134.49 L324.29 132.54 L318.31 130.64 L312.48 128.78 L306.79 126.97 L301.24 125.2 L295.82 123.48Z" fill="url(#rb4s)"/>
<path d="M295.82 122.96 L296.88 122.89 L297.95 122.56 L299.03 121.83 L300.1 120.52 L301.16 118.44 L302.23 115.35 L303.29 111.02 L304.34 105.27 L305.39 98 L306.43 89.26 L307.48 79.28 L308.53 68.52 L309.59 57.64 L310.67 47.48 L311.78 38.92 L312.92 32.82 L314.09 29.83 L315.29 29.82 L316.51 30.67 L317.73 31.89 L318.96 34.09 L320.2 37.11 L321.44 40.44 L322.7 44.04 L323.95 48.23 L325.21 52.72 L326.48 57.22 L327.75 61.48 L329.02 65.65 L330.29 69.92 L331.57 74.5 L332.85 79.45 L334.14 84.47 L335.43 89.26 L336.72 93.54 L338.01 97.52 L339.31 101.32 L340.61 104.93 L341.92 108.37 L343.23 111.63 L344.55 114.73 L345.87 117.73 L347.2 120.6 L348.53 123.32 L349.87 125.87 L351.22 128.22 L352.57 130.47 L353.93 132.65 L355.29 134.69 L356.66 136.48 L358.04 137.96 L359.43 139.21 L360.83 140.38 L362.23 141.48 L363.64 142.49 L365.06 143.41 L366.49 144.25 L367.93 145.01 L369.37 145.72 L370.82 146.42 L372.29 147.09 L373.76 147.72 L375.23 148.33 L376.72 148.89 L378.22 149.42 L378.21 149.7 L370.81 147.34 L363.62 145.05 L356.62 142.83 L349.81 140.66 L343.18 138.55 L336.72 136.49 L330.43 134.49 L324.29 132.54 L318.31 130.64 L312.48 128.78 L306.79 126.97 L301.24 125.2 L295.82 123.48Z" fill="url(#rb4)"/>
<path d="M286.76 125.36 L287.59 125.4 L288.42 125.09 L289.25 124.78 L290.08 124.47 L290.91 123.85 L291.74 122.69 L292.58 121.05 L293.41 118.75 L294.24 115.77 L295.07 111.89 L295.9 107.1 L296.73 101.35 L297.56 94.59 L298.39 87.06 L299.22 78.93 L300.05 70.56 L300.88 62.35 L301.71 54.8 L302.54 48.22 L303.37 43.05 L304.2 39.38 L305.03 37.46 L305.86 37.05 L306.69 36.94 L307.52 36.74 L308.35 36.62 L309.18 36.48 L310.01 36.27 L310.84 36.22 L311.67 36.06 L312.5 35.92 L313.33 36.2 L314.16 37.14 L314.99 38.61 L315.82 41.21 L316.66 44.35 L317.49 47.66 L318.32 51.55 L319.15 55.79 L319.98 60.14 L320.81 64.27 L321.64 68.27 L322.47 72.32 L323.3 76.66 L324.13 81.38 L324.96 86.49 L325.79 91.74 L326.62 96.77 L327.45 101.62 L328.28 106.3 L329.11 110.72 L329.94 114.82 L330.77 118.56 L331.6 121.9 L332.43 124.88 L333.26 127.49 L334.09 129.68 L334.92 131.53 L335.75 133.07 L336.58 134.34 L337.41 135.4 L338.24 136.26 L339.07 136.93 L339.9 137.46 L340.74 137.92 L341.57 138.33 L342.4 138.69 L343.23 139.02 L344.06 139.33 L344.89 139.62 L345.72 139.91 L346.55 140.18 L347.38 140.46 L348.21 140.73 L349.04 140.99 L349.87 141.26 L350.7 141.53 L351.53 141.79 L352.36 142.06 L353.19 142.32 L354.02 142.59 L354.85 142.86 L355.68 143.12 L356.51 143.39 L357.34 143.65 L358.17 143.92 L359 144.18 L359.83 144.45 L360.66 144.71 L361.49 144.98 L362.32 145.24 L363.15 145.51 L363.98 145.77 L364.82 146.04 L365.65 146.3 L366.48 146.57 L367.31 146.83 L368.14 147.1 L368.97 147.36 L369.8 147.63 L370.63 147.89 L371.46 148.16 L372.29 148.42 L373.12 148.69 L373.95 148.96 L374.78 149.22 L375.61 149.49 L376.44 149.75 L377.27 150.02 L377.27 150.02 L368.89 152.84 L361.49 150.4 L354.31 148.03 L347.32 145.73 L340.53 143.48 L333.91 141.3 L327.47 139.18 L321.2 137.11 L315.09 135.09 L309.14 133.13 L303.34 131.21 L297.68 129.35 L292.16 127.52 L286.77 125.75Z" fill="url(#rb3s)"/>
<path d="M286.76 125.36 L287.82 125.4 L288.89 125.22 L289.95 124.72 L291.02 123.74 L292.08 122.11 L293.13 119.6 L294.18 116 L295.22 111.11 L296.25 104.79 L297.27 97.03 L298.29 87.99 L299.31 78 L300.34 67.64 L301.38 57.62 L302.46 48.79 L303.56 41.99 L304.7 37.93 L305.89 37.05 L307.1 38.27 L308.32 40.86 L309.57 45.42 L310.83 50.64 L312.1 57.02 L313.37 63.65 L314.64 69.82 L315.91 76.13 L317.19 83.25 L318.48 91.32 L319.77 99.2 L321.05 106.66 L322.33 113.59 L323.62 119.75 L324.9 125.02 L326.18 129.41 L327.46 132.89 L328.74 135.53 L330.02 137.55 L331.32 139.04 L332.61 140.09 L333.91 140.86 L335.22 141.5 L336.54 142.05 L337.86 142.55 L339.19 143.02 L340.53 143.47 L341.87 143.92 L343.22 144.37 L344.58 144.82 L345.95 145.27 L347.32 145.73 L348.71 146.18 L350.1 146.64 L351.49 147.1 L352.9 147.57 L354.31 148.03 L355.73 148.5 L357.16 148.97 L358.6 149.45 L360.04 149.92 L361.49 150.4 L362.96 150.89 L364.43 151.37 L365.9 151.86 L367.39 152.35 L368.89 152.84 L368.89 152.84 L361.49 150.4 L354.31 148.03 L347.32 145.73 L340.53 143.48 L333.91 141.3 L327.47 139.18 L321.2 137.11 L315.09 135.09 L309.14 133.13 L303.34 131.21 L297.68 129.35 L292.16 127.52 L286.77 125.75Z" fill="url(#rb3)"/>
<path d="M270.82 129.26 L271.64 129.29 L272.45 129.06 L273.26 128.83 L274.07 128.52 L274.88 127.81 L275.69 126.77 L276.5 125.36 L277.31 123.46 L278.12 121.09 L278.94 118.11 L279.75 114.61 L280.56 110.57 L281.37 106.11 L282.18 101.39 L282.99 96.62 L283.8 92.04 L284.61 87.9 L285.42 84.44 L286.23 81.81 L287.05 80.12 L287.86 79.44 L288.67 79.28 L289.48 79.11 L290.29 78.94 L291.1 78.77 L291.91 78.59 L292.72 78.42 L293.53 78.24 L294.35 78.06 L295.16 78.33 L295.97 78.87 L296.78 79.59 L297.59 80.71 L298.4 82.2 L299.21 83.9 L300.02 85.67 L300.83 87.63 L301.65 89.8 L302.46 92.06 L303.27 94.32 L304.08 96.48 L304.89 98.57 L305.7 100.68 L306.51 102.86 L307.32 105.2 L308.13 107.64 L308.95 110.11 L309.76 112.48 L310.57 114.66 L311.38 116.69 L312.19 118.62 L313 120.47 L313.81 122.25 L314.62 123.97 L315.43 125.6 L316.24 127.16 L317.06 128.67 L317.87 130.14 L318.68 131.54 L319.49 132.89 L320.3 134.17 L321.11 135.38 L321.92 136.51 L322.73 137.62 L323.54 138.69 L324.36 139.71 L325.17 140.64 L325.98 141.45 L326.79 142.15 L327.6 142.79 L328.41 143.4 L329.22 143.97 L330.03 144.52 L330.84 145.03 L331.66 145.51 L332.47 145.96 L333.28 146.37 L334.09 146.77 L334.9 147.15 L335.71 147.53 L336.52 147.9 L337.33 148.25 L338.14 148.6 L338.95 148.93 L339.77 149.24 L340.58 149.54 L341.39 149.84 L342.2 150.14 L343.01 150.44 L343.82 150.73 L344.63 151.03 L345.44 151.32 L346.25 151.61 L347.07 151.9 L347.88 152.19 L348.69 152.47 L349.5 152.76 L350.31 153.04 L351.12 153.32 L351.93 153.59 L352.74 153.87 L353.55 154.15 L354.37 154.43 L355.18 154.71 L355.99 154.98 L356.8 155.26 L357.61 155.54 L358.42 155.82 L359.23 156.09 L359.23 156.09 L352.35 158.41 L344.98 155.82 L337.82 153.31 L330.87 150.86 L324.11 148.48 L317.54 146.17 L311.15 143.92 L304.92 141.73 L298.87 139.6 L292.97 137.52 L287.22 135.5 L281.62 133.53 L276.16 131.61 L270.83 129.74Z" fill="url(#rb2s)"/>
<path d="M270.82 129.26 L271.87 129.28 L272.92 129.09 L273.97 128.59 L275.01 127.68 L276.05 126.21 L277.09 124.06 L278.12 121.12 L279.14 117.32 L280.15 112.68 L281.16 107.32 L282.17 101.47 L283.18 95.49 L284.22 89.82 L285.28 84.98 L286.36 81.44 L287.48 79.58 L288.64 79.55 L289.82 80.37 L291.01 81.69 L292.21 83.95 L293.43 86.56 L294.66 89.56 L295.9 92.99 L297.14 96.47 L298.38 99.74 L299.63 103.02 L300.88 106.57 L302.15 110.42 L303.41 114.21 L304.68 117.58 L305.94 120.65 L307.21 123.54 L308.48 126.26 L309.76 128.8 L311.04 131.21 L312.33 133.5 L313.61 135.64 L314.91 137.61 L316.2 139.43 L317.51 141.18 L318.82 142.75 L320.13 144.05 L321.45 145.11 L322.77 146.09 L324.11 147 L325.44 147.82 L326.79 148.55 L328.14 149.23 L329.5 149.88 L330.87 150.5 L332.25 151.09 L333.63 151.64 L335.02 152.17 L336.42 152.7 L337.82 153.23 L339.24 153.75 L340.66 154.28 L342.09 154.8 L343.53 155.31 L344.98 155.82 L346.44 156.33 L347.9 156.85 L349.37 157.37 L350.86 157.89 L352.35 158.41 L352.35 158.41 L344.98 155.82 L337.82 153.31 L330.87 150.86 L324.11 148.48 L317.54 146.17 L311.15 143.92 L304.92 141.73 L298.87 139.6 L292.97 137.52 L287.22 135.5 L281.62 133.53 L276.16 131.61 L270.83 129.74Z" fill="url(#rb2)"/>
<path d="M259.49 132.26 L260.3 132.06 L261.1 131.86 L261.91 131.67 L262.71 131.47 L263.51 131.27 L264.32 131.08 L265.12 130.88 L265.93 130.36 L266.73 129.37 L267.54 128.13 L268.34 126.69 L269.14 125.03 L269.95 123.23 L270.75 121.32 L271.56 119.39 L272.36 117.53 L273.16 115.84 L273.97 114.4 L274.77 113.27 L275.58 112.54 L276.38 112.21 L277.18 112.02 L277.99 111.84 L278.79 111.66 L279.6 111.48 L280.4 111.29 L281.2 111.11 L282.01 110.93 L282.81 110.75 L283.62 110.83 L284.42 111.2 L285.23 111.7 L286.03 112.41 L286.83 113.36 L287.64 114.45 L288.44 115.6 L289.25 116.89 L290.05 118.28 L290.85 119.67 L291.66 121.01 L292.46 122.31 L293.27 123.64 L294.07 125.03 L294.87 126.52 L295.68 128.03 L296.48 129.48 L297.29 130.81 L298.09 132.04 L298.89 133.23 L299.7 134.37 L300.5 135.45 L301.31 136.49 L302.11 137.49 L302.91 138.46 L303.72 139.39 L304.52 140.28 L305.33 141.13 L306.13 141.92 L306.94 142.68 L307.74 143.43 L308.54 144.14 L309.35 144.8 L310.15 145.38 L310.96 145.9 L311.76 146.38 L312.56 146.84 L313.37 147.28 L314.17 147.7 L314.98 148.1 L315.78 148.48 L316.58 148.84 L317.39 149.19 L318.19 149.54 L319 149.88 L319.8 150.21 L320.6 150.53 L321.41 150.84 L322.21 151.14 L323.02 151.45 L323.82 151.75 L324.62 152.04 L325.43 152.34 L326.23 152.64 L327.04 152.94 L327.84 153.23 L328.65 153.52 L329.45 153.82 L330.25 154.11 L331.06 154.4 L331.86 154.69 L332.67 154.97 L333.47 155.26 L334.27 155.55 L335.08 155.84 L335.88 156.13 L336.69 156.42 L337.49 156.71 L338.29 156.99 L339.1 157.28 L339.9 157.57 L340.71 157.86 L341.51 158.15 L342.31 158.44 L343.12 158.73 L343.92 159.02 L344.73 159.3 L345.53 159.59 L346.33 159.88 L347.14 160.17 L347.14 160.17 L340.49 162.41 L333.15 159.71 L326.02 157.08 L319.1 154.53 L312.38 152.05 L305.84 149.65 L299.49 147.31 L293.31 145.03 L287.29 142.81 L281.44 140.66 L275.74 138.56 L270.19 136.51 L264.78 134.52 L259.5 132.58Z" fill="url(#rb1s)"/>
<path d="M259.49 132.26 L260.53 132.43 L261.57 132.49 L262.62 132.38 L263.66 132.06 L264.71 131.48 L265.75 130.57 L266.79 129.29 L267.83 127.64 L268.87 125.63 L269.91 123.33 L270.95 120.84 L272 118.35 L273.06 116.03 L274.14 114.11 L275.23 112.78 L276.35 112.2 L277.49 112.44 L278.65 113.12 L279.82 114.22 L281 115.79 L282.19 117.53 L283.39 119.58 L284.6 121.7 L285.81 123.7 L287.02 125.73 L288.25 127.98 L289.48 130.31 L290.71 132.44 L291.94 134.35 L293.18 136.14 L294.42 137.83 L295.67 139.41 L296.92 140.91 L298.18 142.33 L299.44 143.64 L300.71 144.86 L301.98 146.03 L303.26 147.06 L304.54 147.91 L305.83 148.68 L307.13 149.41 L308.43 150.08 L309.74 150.69 L311.05 151.28 L312.37 151.86 L313.7 152.41 L315.04 152.95 L316.39 153.46 L317.74 153.98 L319.1 154.5 L320.47 155.02 L321.84 155.53 L323.23 156.05 L324.62 156.56 L326.02 157.08 L327.43 157.6 L328.85 158.12 L330.27 158.65 L331.71 159.17 L333.15 159.71 L334.6 160.24 L336.06 160.78 L337.53 161.32 L339.01 161.86 L340.49 162.41 L340.49 162.41 L333.15 159.71 L326.02 157.08 L319.1 154.53 L312.38 152.05 L305.84 149.65 L299.49 147.31 L293.31 145.03 L287.29 142.81 L281.44 140.66 L275.74 138.56 L270.19 136.51 L264.78 134.52 L259.5 132.58Z" fill="url(#rb1)"/>
<path d="M246.96 135.34 L247.76 135.5 L248.57 135.28 L249.37 135.05 L250.17 134.82 L250.98 134.6 L251.78 134.38 L252.58 134.15 L253.39 133.93 L254.19 133.71 L254.99 133.85 L255.8 133.8 L256.6 133.31 L257.4 132.82 L258.21 132.35 L259.01 131.93 L259.81 131.6 L260.61 131.36 L261.42 131.15 L262.22 130.96 L263.02 130.76 L263.83 130.56 L264.63 130.36 L265.43 130.16 L266.24 129.97 L267.04 129.77 L267.84 129.58 L268.65 129.5 L269.45 129.58 L270.25 129.8 L271.06 130.14 L271.86 130.56 L272.66 131.09 L273.47 131.74 L274.27 132.42 L275.07 133.17 L275.88 133.97 L276.68 134.77 L277.48 135.54 L278.29 136.31 L279.09 137.1 L279.89 137.94 L280.7 138.8 L281.5 139.62 L282.3 140.38 L283.11 141.11 L283.91 141.81 L284.71 142.48 L285.52 143.12 L286.32 143.75 L287.12 144.35 L287.93 144.94 L288.73 145.51 L289.53 146.05 L290.33 146.56 L291.14 147.07 L291.94 147.56 L292.74 148.02 L293.55 148.44 L294.35 148.84 L295.15 149.22 L295.96 149.59 L296.76 149.96 L297.56 150.31 L298.37 150.64 L299.17 150.98 L299.97 151.31 L300.78 151.63 L301.58 151.95 L302.38 152.27 L303.19 152.58 L303.99 152.89 L304.79 153.2 L305.6 153.51 L306.4 153.81 L307.2 154.12 L308.01 154.43 L308.81 154.73 L309.61 155.04 L310.42 155.34 L311.22 155.64 L312.02 155.95 L312.83 156.25 L313.63 156.55 L314.43 156.85 L315.24 157.16 L316.04 157.46 L316.84 157.76 L317.65 158.07 L318.45 158.37 L319.25 158.67 L320.05 158.97 L320.86 159.28 L321.66 159.58 L322.46 159.88 L323.27 160.19 L324.07 160.49 L324.87 160.79 L325.68 161.09 L326.48 161.4 L327.28 161.7 L328.09 162 L328.89 162.3 L329.69 162.61 L330.5 162.91 L331.3 163.21 L332.1 163.52 L332.91 163.82 L333.71 164.12 L334.51 164.42 L334.51 164.42 L327.29 166.86 L319.98 164.03 L312.89 161.28 L306.01 158.61 L299.34 156.02 L292.85 153.51 L286.55 151.06 L280.42 148.69 L274.46 146.38 L268.66 144.13 L263.02 141.94 L257.53 139.81 L252.18 137.74 L246.97 135.72Z" fill="url(#rb0s)"/>
<path d="M246.96 135.34 L247.99 135.55 L249.02 135.68 L250.05 135.71 L251.08 135.64 L252.12 135.45 L253.16 135.12 L254.2 134.68 L255.25 134.12 L256.3 133.5 L257.35 132.85 L258.42 132.23 L259.49 131.72 L260.57 131.36 L261.67 131.24 L262.77 131.38 L263.89 131.8 L265.02 132.4 L266.16 133.26 L267.31 134.24 L268.47 135.37 L269.64 136.57 L270.81 137.71 L271.99 138.87 L273.17 140.14 L274.36 141.41 L275.56 142.56 L276.75 143.64 L277.96 144.66 L279.17 145.63 L280.38 146.56 L281.6 147.45 L282.83 148.28 L284.06 149.09 L285.3 149.85 L286.54 150.53 L287.79 151.15 L289.04 151.75 L290.3 152.32 L291.57 152.87 L292.85 153.41 L294.13 153.94 L295.42 154.46 L296.72 154.98 L298.02 155.49 L299.34 156.01 L300.66 156.53 L301.98 157.05 L303.32 157.57 L304.66 158.09 L306.01 158.61 L307.37 159.14 L308.74 159.67 L310.12 160.2 L311.5 160.74 L312.89 161.28 L314.29 161.82 L315.7 162.37 L317.12 162.92 L318.55 163.47 L319.98 164.03 L321.42 164.59 L322.88 165.15 L324.34 165.72 L325.81 166.29 L327.29 166.86 L327.29 166.86 L319.98 164.03 L312.89 161.28 L306.01 158.61 L299.34 156.02 L292.85 153.51 L286.55 151.06 L280.42 148.69 L274.46 146.38 L268.66 144.13 L263.02 141.94 L257.53 139.81 L252.18 137.74 L246.97 135.72Z" fill="url(#rb0)"/>
<line x1="246.97" y1="135.72" x2="327.29" y2="166.86" stroke="#3c3c3c" stroke-width="0.9"/>
<line x1="327.29" y1="166.86" x2="413.8" y2="137.71" stroke="#3c3c3c" stroke-width="0.9"/>
<line x1="413.8" y1="137.71" x2="416.76" y2="16.89" stroke="#3c3c3c" stroke-width="0.9"/>
<line x1="250.08" y1="136.92" x2="250.38" y2="139.52" stroke="#3c3c3c" stroke-width="0.8"/>
<line x1="255.37" y1="138.98" x2="255.67" y2="140.48" stroke="#3c3c3c" stroke-width="0.8"/>
<line x1="260.81" y1="141.08" x2="261.11" y2="143.68" stroke="#3c3c3c" stroke-width="0.8"/>
<line x1="266.39" y1="143.25" x2="266.69" y2="144.75" stroke="#3c3c3c" stroke-width="0.8"/>
<line x1="272.12" y1="145.47" x2="272.42" y2="148.07" stroke="#3c3c3c" stroke-width="0.8"/>
<line x1="278.02" y1="147.76" x2="278.32" y2="149.26" stroke="#3c3c3c" stroke-width="0.8"/>
<line x1="284.08" y1="150.1" x2="284.38" y2="152.7" stroke="#3c3c3c" stroke-width="0.8"/>
<line x1="290.31" y1="152.52" x2="290.61" y2="154.02" stroke="#3c3c3c" stroke-width="0.8"/>
<line x1="296.72" y1="155.01" x2="297.02" y2="157.61" stroke="#3c3c3c" stroke-width="0.8"/>
<line x1="303.32" y1="157.57" x2="303.62" y2="159.07" stroke="#3c3c3c" stroke-width="0.8"/>
<line x1="310.12" y1="160.2" x2="310.42" y2="162.8" stroke="#3c3c3c" stroke-width="0.8"/>
<line x1="317.12" y1="162.92" x2="317.42" y2="164.42" stroke="#3c3c3c" stroke-width="0.8"/>
<line x1="324.34" y1="165.72" x2="324.64" y2="168.32" stroke="#3c3c3c" stroke-width="0.8"/>
<text transform="translate(250 146.5) rotate(9)" y="2.45" font-size="7.2" font-weight="bold" text-anchor="middle" fill="#1a1a1a">400</text>
<text transform="translate(261.1 151) rotate(9)" y="2.45" font-size="7.2" font-weight="bold" text-anchor="middle" fill="#1a1a1a">450</text>
<text transform="translate(272.4 155.5) rotate(9)" y="2.45" font-size="7.2" font-weight="bold" text-anchor="middle" fill="#1a1a1a">500</text>
<text transform="translate(284.4 160.3) rotate(9)" y="2.45" font-size="7.2" font-weight="bold" text-anchor="middle" fill="#1a1a1a">550</text>
<text transform="translate(297 165.4) rotate(9)" y="2.45" font-size="7.2" font-weight="bold" text-anchor="middle" fill="#1a1a1a">600</text>
<text transform="translate(310.2 170.4) rotate(9)" y="2.45" font-size="7.2" font-weight="bold" text-anchor="middle" fill="#1a1a1a">650</text>
<text transform="translate(324.6 175.8) rotate(9)" y="2.45" font-size="7.2" font-weight="bold" text-anchor="middle" fill="#1a1a1a">700</text>
<line x1="335.61" y1="164.06" x2="335.81" y2="166.66" stroke="#3c3c3c" stroke-width="0.8"/>
<line x1="342.37" y1="161.78" x2="342.57" y2="163.28" stroke="#3c3c3c" stroke-width="0.8"/>
<line x1="348.97" y1="159.55" x2="349.17" y2="162.15" stroke="#3c3c3c" stroke-width="0.8"/>
<line x1="355.43" y1="157.38" x2="355.63" y2="158.88" stroke="#3c3c3c" stroke-width="0.8"/>
<line x1="361.74" y1="155.25" x2="361.94" y2="157.85" stroke="#3c3c3c" stroke-width="0.8"/>
<line x1="367.91" y1="153.17" x2="368.11" y2="154.67" stroke="#3c3c3c" stroke-width="0.8"/>
<line x1="373.95" y1="151.14" x2="374.15" y2="153.74" stroke="#3c3c3c" stroke-width="0.8"/>
<line x1="379.85" y1="149.15" x2="380.05" y2="150.65" stroke="#3c3c3c" stroke-width="0.8"/>
<line x1="385.63" y1="147.2" x2="385.83" y2="149.8" stroke="#3c3c3c" stroke-width="0.8"/>
<line x1="391.29" y1="145.29" x2="391.49" y2="146.79" stroke="#3c3c3c" stroke-width="0.8"/>
<line x1="396.83" y1="143.42" x2="397.03" y2="146.02" stroke="#3c3c3c" stroke-width="0.8"/>
<line x1="402.25" y1="141.6" x2="402.45" y2="143.1" stroke="#3c3c3c" stroke-width="0.8"/>
<line x1="407.56" y1="139.81" x2="407.76" y2="142.41" stroke="#3c3c3c" stroke-width="0.8"/>
<text transform="translate(334.6 174.4) rotate(-9)" y="2.6" font-size="7.3" font-weight="bold" text-anchor="middle" fill="#1a1a1a">0</text>
<text transform="translate(348.5 169.6) rotate(-9)" y="2.6" font-size="7.3" font-weight="bold" text-anchor="middle" fill="#1a1a1a">5</text>
<text transform="translate(361.5 164.8) rotate(-9)" y="2.6" font-size="7.3" font-weight="bold" text-anchor="middle" fill="#1a1a1a">10</text>
<text transform="translate(374.4 160.4) rotate(-9)" y="2.6" font-size="7.3" font-weight="bold" text-anchor="middle" fill="#1a1a1a">15</text>
<text transform="translate(386.2 156) rotate(-9)" y="2.6" font-size="7.3" font-weight="bold" text-anchor="middle" fill="#1a1a1a">20</text>
<text transform="translate(397.5 151.8) rotate(-9)" y="2.6" font-size="7.3" font-weight="bold" text-anchor="middle" fill="#1a1a1a">25</text>
<text transform="translate(408.3 147.9) rotate(-9)" y="2.6" font-size="7.3" font-weight="bold" text-anchor="middle" fill="#1a1a1a">30</text>
<line x1="413.8" y1="137.71" x2="416.4" y2="137.71" stroke="#3c3c3c" stroke-width="0.8"/>
<text x="418.8" y="139.91" font-size="7.2" font-weight="bold" text-anchor="start" fill="#1a1a1a" stroke="#1a1a1a" stroke-width="0.2">0</text>
<line x1="413.96" y1="130.93" x2="415.46" y2="130.93" stroke="#3c3c3c" stroke-width="0.8"/>
<line x1="414.13" y1="124.12" x2="416.73" y2="124.12" stroke="#3c3c3c" stroke-width="0.8"/>
<text x="419.13" y="126.32" font-size="7.2" font-weight="bold" text-anchor="start" fill="#1a1a1a" stroke="#1a1a1a" stroke-width="0.2">5</text>
<line x1="414.3" y1="117.28" x2="415.8" y2="117.28" stroke="#3c3c3c" stroke-width="0.8"/>
<line x1="414.47" y1="110.42" x2="417.07" y2="110.42" stroke="#3c3c3c" stroke-width="0.8"/>
<text x="419.47" y="112.62" font-size="7.2" font-weight="bold" text-anchor="start" fill="#1a1a1a" stroke="#1a1a1a" stroke-width="0.2">10</text>
<line x1="414.64" y1="103.52" x2="416.14" y2="103.52" stroke="#3c3c3c" stroke-width="0.8"/>
<line x1="414.81" y1="96.59" x2="417.41" y2="96.59" stroke="#3c3c3c" stroke-width="0.8"/>
<text x="419.81" y="98.79" font-size="7.2" font-weight="bold" text-anchor="start" fill="#1a1a1a" stroke="#1a1a1a" stroke-width="0.2">15</text>
<line x1="414.98" y1="89.64" x2="416.48" y2="89.64" stroke="#3c3c3c" stroke-width="0.8"/>
<line x1="415.15" y1="82.65" x2="417.75" y2="82.65" stroke="#3c3c3c" stroke-width="0.8"/>
<text x="420.15" y="84.85" font-size="7.2" font-weight="bold" text-anchor="start" fill="#1a1a1a" stroke="#1a1a1a" stroke-width="0.2">20</text>
<line x1="415.32" y1="75.63" x2="416.82" y2="75.63" stroke="#3c3c3c" stroke-width="0.8"/>
<line x1="415.49" y1="68.58" x2="418.09" y2="68.58" stroke="#3c3c3c" stroke-width="0.8"/>
<text x="420.49" y="70.78" font-size="7.2" font-weight="bold" text-anchor="start" fill="#1a1a1a" stroke="#1a1a1a" stroke-width="0.2">25</text>
<line x1="415.67" y1="61.5" x2="417.17" y2="61.5" stroke="#3c3c3c" stroke-width="0.8"/>
<line x1="415.84" y1="54.39" x2="418.44" y2="54.39" stroke="#3c3c3c" stroke-width="0.8"/>
<text x="420.84" y="56.59" font-size="7.2" font-weight="bold" text-anchor="start" fill="#1a1a1a" stroke="#1a1a1a" stroke-width="0.2">30</text>
<line x1="416.02" y1="47.24" x2="417.52" y2="47.24" stroke="#3c3c3c" stroke-width="0.8"/>
<line x1="416.19" y1="40.07" x2="418.79" y2="40.07" stroke="#3c3c3c" stroke-width="0.8"/>
<text x="421.19" y="42.27" font-size="7.2" font-weight="bold" text-anchor="start" fill="#1a1a1a" stroke="#1a1a1a" stroke-width="0.2">35</text>
<line x1="416.37" y1="32.86" x2="417.87" y2="32.86" stroke="#3c3c3c" stroke-width="0.8"/>
<line x1="416.55" y1="25.62" x2="419.15" y2="25.62" stroke="#3c3c3c" stroke-width="0.8"/>
<text x="421.55" y="27.82" font-size="7.2" font-weight="bold" text-anchor="start" fill="#1a1a1a" stroke="#1a1a1a" stroke-width="0.2">40</text>
<text x="416.4" y="14.6" font-size="7.4" font-weight="bold" fill="#1a1a1a">×10<tspan dy="-3" font-size="5">3</tspan></text>
<text x="264.6" y="172.6" font-size="14.6" font-weight="bold" text-anchor="middle" fill="#000" stroke="#000" stroke-width="0.3" transform="rotate(22.7 264.6 172.6)" textLength="109.8" lengthAdjust="spacingAndGlyphs">Wavelength (nm)</text>
<text x="390.6" y="176.6" font-size="14.6" font-weight="bold" text-anchor="middle" fill="#000" stroke="#000" stroke-width="0.3" transform="rotate(-23.5 390.6 176.6)" textLength="54.5" lengthAdjust="spacingAndGlyphs">Time (s)</text>
<text x="443.1" y="81.1" font-size="12.8" font-weight="bold" text-anchor="middle" fill="#000" stroke="#000" stroke-width="0.3" transform="rotate(-90 443.1 81.1)" textLength="55.4" lengthAdjust="spacingAndGlyphs">Intensity</text>
<rect x="374.9" y="19.6" width="20.6" height="10.6" fill="url(#sw0)"/>
<text x="398.2" y="27.6" font-size="7.2" font-weight="bold" text-anchor="start" fill="#111" stroke="#111" stroke-width="0.2">0 s</text>
<rect x="374.9" y="31.45" width="20.6" height="10.6" fill="url(#sw1)"/>
<text x="398.2" y="39.45" font-size="7.2" font-weight="bold" text-anchor="start" fill="#111" stroke="#111" stroke-width="0.2">5 s</text>
<rect x="374.9" y="43.3" width="20.6" height="10.6" fill="url(#sw2)"/>
<text x="398.2" y="51.3" font-size="7.2" font-weight="bold" text-anchor="start" fill="#111" stroke="#111" stroke-width="0.2">10 s</text>
<rect x="374.9" y="55.15" width="20.6" height="10.6" fill="url(#sw3)"/>
<text x="398.2" y="63.15" font-size="7.2" font-weight="bold" text-anchor="start" fill="#111" stroke="#111" stroke-width="0.2">15 s</text>
<rect x="374.9" y="67" width="20.6" height="10.6" fill="url(#sw4)"/>
<text x="398.2" y="75" font-size="7.2" font-weight="bold" text-anchor="start" fill="#111" stroke="#111" stroke-width="0.2">20 s</text>
<rect x="374.9" y="78.85" width="20.6" height="10.6" fill="url(#sw5)"/>
<text x="398.2" y="86.85" font-size="7.2" font-weight="bold" text-anchor="start" fill="#111" stroke="#111" stroke-width="0.2">25 s</text>
<rect x="374.9" y="90.7" width="20.6" height="10.6" fill="url(#sw6)"/>
<text x="398.2" y="98.7" font-size="7.2" font-weight="bold" text-anchor="start" fill="#111" stroke="#111" stroke-width="0.2">30 s</text>
<text x="221.4" y="17.4" font-size="12.6" font-weight="bold" text-anchor="start" fill="#000" stroke="#000" stroke-width="0.3">b</text>
</g>
<g id="panel_c">
<defs><linearGradient id="cbar" x1="0" y1="0" x2="0" y2="1"><stop offset="0" stop-color="#ff2810"/><stop offset="0.03" stop-color="#ff3010"/><stop offset="0.07" stop-color="#ff5818"/><stop offset="0.13" stop-color="#ff9420"/><stop offset="0.2" stop-color="#ffd028"/><stop offset="0.26" stop-color="#fcfc30"/><stop offset="0.34" stop-color="#c0ff1c"/><stop offset="0.42" stop-color="#6eff12"/><stop offset="0.5" stop-color="#2aff14"/><stop offset="0.56" stop-color="#2cf850"/><stop offset="0.63" stop-color="#4cf8a8"/><stop offset="0.69" stop-color="#74fbf6"/><stop offset="0.74" stop-color="#58d0ff"/><stop offset="0.8" stop-color="#3a8cff"/><stop offset="0.86" stop-color="#2a48ff"/><stop offset="0.92" stop-color="#2018ff"/><stop offset="1" stop-color="#1a00ff"/></linearGradient></defs>
<rect x="483.2" y="13.0" width="179.2" height="143" fill="#1a00ff"/>
<path d="M485.2 13L487.2 13L489.2 13L491.3 13L493.3 13L495.3 13L497.3 13L499.3 13L501.3 13L503.3 13L505.3 13L507.4 13L509.4 13L511.4 13L513.4 13L515.4 13L517.4 13L519.4 13L521.5 13L523.5 13L525.5 13L527.5 13L529.5 13L531.5 13L533.5 13L535.6 13L537.6 13L539.6 13L541.6 13L543.6 13L545.6 13L547.6 13L549.6 13L551.7 13L553.7 13L555.7 13L557.7 13L559.7 13L561.7 13L563.7 13L565.8 13L567.8 13L569.8 13L571.8 13L573.8 13L575.8 13L577.8 13L579.8 13L581.9 13L583.9 13L585.9 13L587.9 13L589.9 13L591.9 13L593.9 13L596 13L598 13L600 13L602 13L604 13L606 13L608 13L610 13L612.1 13L614.1 13L616.1 13L618.1 13L620.1 13L622.1 13L624.1 13L626.2 13L628.2 13L630.2 13L632.2 13L634.2 13L636.2 13L638.2 13L640.3 13L642.3 13L644.3 13L646.3 13L648.3 13L650.3 13L652.3 13L654.3 13L656.4 13L658.4 13L660.4 13L662.4 13L662.4 15L662.4 17L662.4 19L662.4 21.1L662.4 23.1L662.4 25.1L662.4 27.1L662.4 29.1L662.4 31.1L662.4 33.1L662.4 35.2L662.4 37.2L662.4 39.2L662.4 41.2L662.4 43.2L662.4 45.2L662.4 47.2L662.4 49.3L662.4 51.3L662.4 53.3L662.4 55.3L662.4 57.3L662.4 59.3L662.4 61.3L662.4 63.4L662.4 65.4L662.4 67.4L662.4 69.4L662.4 71.4L662.4 73.4L662.4 75.4L662.4 77.5L662.4 79.5L662.4 81.5L662.4 82.6L661.1 83.5L660.4 84L658.4 85.5L658.3 85.5L656.4 86.9L655.4 87.5L654.3 88.2L652.3 89.5L652.3 89.5L650.3 90.8L649.1 91.5L648.3 92L646.3 93.3L645.9 93.6L644.3 94.6L642.6 95.6L642.3 95.8L640.3 97.1L639.5 97.6L638.2 98.4L636.4 99.6L636.2 99.7L634.2 101.1L633.5 101.6L632.2 102.6L630.7 103.6L630.2 104.1L628.2 105.6L628.2 105.7L626.2 107.4L625.9 107.7L624.1 109.4L623.8 109.7L622.1 111.4L621.8 111.7L620.1 113.4L619.9 113.7L618.1 115.5L617.9 115.7L616.1 117.6L616 117.7L614.1 119.7L614 119.7L612.1 121.7L612 121.8L610 123.8L610 123.8L608 125.7L608 125.8L606 127.6L605.8 127.8L604 129.5L603.6 129.8L602 131.2L601.3 131.8L600 132.9L598.9 133.8L598 134.5L596.2 135.9L596 136L593.9 137.4L593.3 137.9L591.9 138.8L590.3 139.9L589.9 140.2L587.9 141.5L587.3 141.9L585.9 142.9L584.3 143.9L583.9 144.2L581.9 145.6L581.4 145.9L579.8 147L578.4 147.9L577.8 148.3L575.8 149.6L575.3 150L573.8 150.9L572.1 152L571.8 152.2L569.8 153.5L568.9 154L567.8 154.7L565.8 156L565.7 156L563.7 156L561.7 156L559.7 156L557.7 156L555.7 156L553.7 156L551.7 156L549.6 156L547.6 156L545.6 156L543.6 156L541.6 156L539.6 156L537.6 156L535.6 156L533.5 156L531.5 156L529.5 156L527.5 156L525.5 156L523.5 156L521.5 156L519.4 156L517.4 156L515.4 156L513.4 156L511.4 156L509.4 156L507.4 156L505.3 156L503.3 156L501.3 156L499.3 156L497.3 156L495.3 156L493.3 156L491.3 156L489.2 156L487.2 156L485.2 156L483.8 156L483.2 155.5L483.2 154L483.2 152L483.2 150L483.2 147.9L483.2 145.9L483.2 143.9L483.2 141.9L483.2 139.9L483.2 137.9L483.2 135.9L483.2 133.8L483.2 131.8L483.2 129.8L483.2 127.8L483.2 125.8L483.2 123.8L483.2 121.8L483.2 119.7L483.2 117.7L483.2 115.7L483.2 113.7L483.2 111.7L483.2 109.7L483.2 107.7L483.2 105.6L483.2 103.6L483.2 101.6L483.2 99.6L483.2 97.6L483.2 95.6L483.2 93.6L483.2 91.5L483.2 89.5L483.2 87.5L483.2 85.5L483.2 83.5L483.2 81.5L483.2 79.5L483.2 77.5L483.2 75.4L483.2 73.4L483.2 71.4L483.2 69.4L483.2 67.4L483.2 65.4L483.2 63.4L483.2 61.3L483.2 59.3L483.2 57.3L483.2 55.3L483.2 53.3L483.2 51.3L483.2 49.3L483.2 47.2L483.2 45.2L483.2 43.2L483.2 41.2L483.2 39.2L483.2 37.2L483.2 35.2L483.2 33.1L483.2 31.1L483.2 29.1L483.2 27.1L483.2 25.1L483.2 23.1L483.2 21.1L483.2 19L483.2 17L483.2 15L483.2 13Z" fill="#1d0bff" stroke="#1d0bff" stroke-width="0.3" fill-rule="evenodd"/>
<path d="M485.2 13L487.2 13L489.2 13L491.3 13L493.3 13L495.3 13L497.3 13L499.3 13L501.3 13L503.3 13L505.3 13L507.4 13L509.4 13L511.4 13L513.4 13L515.4 13L517.4 13L519.4 13L521.5 13L523.5 13L525.5 13L527.5 13L529.5 13L531.5 13L533.5 13L535.6 13L537.6 13L539.6 13L541.6 13L543.6 13L545.6 13L547.6 13L549.6 13L551.7 13L553.7 13L555.7 13L557.7 13L559.7 13L561.7 13L563.7 13L565.8 13L567.8 13L569.8 13L571.8 13L573.8 13L575.8 13L577.8 13L579.8 13L581.9 13L583.9 13L585.9 13L587.9 13L589.9 13L591.9 13L593.9 13L596 13L598 13L600 13L602 13L604 13L606 13L608 13L610 13L612.1 13L614.1 13L616.1 13L618.1 13L620.1 13L622.1 13L624.1 13L626.2 13L628.2 13L630.2 13L632.2 13L634.2 13L636.2 13L638.2 13L640.3 13L642.3 13L644.3 13L646.3 13L648.3 13L650.3 13L652.3 13L654.3 13L656.4 13L658.4 13L660.4 13L662.4 13L662.4 15L662.4 17L662.4 19L662.4 21.1L662.4 23.1L662.4 25.1L662.4 27.1L662.4 29.1L662.4 31.1L662.4 33.1L662.4 35.2L662.4 37.2L662.4 39.2L662.4 41.2L662.4 43.2L662.4 45.2L662.4 47.2L662.4 49.3L662.4 51.3L662.4 53.3L662.4 55.3L662.4 57.3L662.4 59.3L662.4 59.3L660.7 61.3L660.4 61.6L658.9 63.4L658.4 63.9L657 65.4L656.4 66L655.1 67.4L654.3 68.1L653.1 69.4L652.3 70.2L651.1 71.4L650.3 72.2L649 73.4L648.3 74.1L646.9 75.4L646.3 75.9L644.6 77.5L644.3 77.7L642.3 79.5L642.3 79.5L640.3 81.3L640.1 81.5L638.2 83.1L637.8 83.5L636.2 84.9L635.6 85.5L634.2 86.6L633.2 87.5L632.2 88.3L630.6 89.5L630.2 89.9L628.2 91.4L628 91.5L626.2 92.9L625.3 93.6L624.1 94.4L622.6 95.6L622.1 95.9L620.1 97.5L620 97.6L618.1 99L617.4 99.6L616.1 100.6L614.9 101.6L614.1 102.3L612.5 103.6L612.1 104L610.3 105.6L610 105.9L608.3 107.7L608 107.9L606.5 109.7L606 110.2L604.7 111.7L604 112.4L602.9 113.7L602 114.7L601.1 115.7L600 117L599.3 117.7L598 119.3L597.5 119.7L596 121.5L595.7 121.8L593.9 123.6L593.8 123.8L591.9 125.7L591.8 125.8L589.9 127.7L589.8 127.8L587.9 129.7L587.7 129.8L585.9 131.5L585.5 131.8L583.9 133.3L583.2 133.8L581.9 134.9L580.6 135.9L579.8 136.4L577.8 137.9L577.8 137.9L575.8 139.3L574.9 139.9L573.8 140.7L571.9 141.9L571.8 142L569.8 143.4L569 143.9L567.8 144.7L566 145.9L565.8 146.1L563.7 147.4L562.9 147.9L561.7 148.7L559.7 149.9L559.6 150L557.7 151.2L556.6 152L555.7 152.6L553.7 153.8L553.4 154L551.7 155.1L549.9 156L549.6 156L547.6 156L545.6 156L543.6 156L541.6 156L539.6 156L537.6 156L535.6 156L533.5 156L531.5 156L529.5 156L527.5 156L525.5 156L523.5 156L521.5 156L519.4 156L517.4 156L515.4 156L513.4 156L511.4 156L509.4 156L507.4 156L505.3 156L503.3 156L501.3 156L499.3 156L499.3 156L497.3 155L495.5 154L495.3 153.9L493.3 152.7L492.1 152L491.3 151.4L489.2 150.1L489.1 150L487.2 148.6L486.3 147.9L485.2 147.1L483.9 145.9L483.2 145.4L483.2 143.9L483.2 141.9L483.2 139.9L483.2 137.9L483.2 135.9L483.2 133.8L483.2 131.8L483.2 129.8L483.2 127.8L483.2 125.8L483.2 123.8L483.2 121.8L483.2 119.7L483.2 117.7L483.2 115.7L483.2 113.7L483.2 111.7L483.2 109.7L483.2 107.7L483.2 105.6L483.2 103.6L483.2 101.6L483.2 99.6L483.2 97.6L483.2 95.6L483.2 93.6L483.2 91.5L483.2 89.5L483.2 87.5L483.2 85.5L483.2 83.5L483.2 81.5L483.2 79.5L483.2 77.5L483.2 75.4L483.2 73.4L483.2 71.4L483.2 69.4L483.2 67.4L483.2 65.4L483.2 63.4L483.2 61.3L483.2 59.3L483.2 57.3L483.2 55.3L483.2 53.3L483.2 51.3L483.2 49.3L483.2 47.2L483.2 45.2L483.2 43.2L483.2 41.2L483.2 39.2L483.2 37.2L483.2 35.2L483.2 33.1L483.2 31.1L483.2 29.1L483.2 27.1L483.2 25.1L483.2 23.1L483.2 21.1L483.2 19L483.2 17L483.2 15L483.2 13Z" fill="#1f13ff" stroke="#1f13ff" stroke-width="0.3" fill-rule="evenodd"/>
<path d="M485.2 13L487.2 13L489.2 13L491.3 13L493.3 13L495.3 13L497.3 13L499.3 13L501.3 13L503.3 13L505.3 13L507.4 13L509.4 13L511.4 13L513.4 13L515.4 13L517.4 13L519.4 13L521.5 13L523.5 13L525.5 13L527.5 13L529.5 13L531.5 13L533.5 13L535.6 13L537.6 13L539.6 13L541.6 13L543.6 13L545.6 13L547.6 13L549.6 13L551.7 13L553.7 13L555.7 13L557.7 13L559.7 13L561.7 13L563.7 13L565.8 13L567.8 13L569.8 13L571.8 13L573.8 13L575.8 13L577.8 13L579.8 13L581.9 13L583.9 13L585.9 13L587.9 13L589.9 13L591.9 13L593.9 13L596 13L598 13L600 13L602 13L604 13L606 13L608 13L610 13L612.1 13L614.1 13L616.1 13L618.1 13L620.1 13L622.1 13L624.1 13L626.2 13L628.2 13L630.2 13L632.2 13L634.2 13L636.2 13L638.2 13L640.3 13L642.3 13L644.3 13L646.3 13L648.3 13L650.3 13L652.3 13L654.3 13L656.4 13L658.4 13L660.4 13L662.4 13L662.4 15L662.4 17L662.4 19L662.4 21.1L662.4 23.1L662.4 25.1L662.4 27.1L662.4 28.1L662 29.1L661.2 31.1L660.4 33L660.3 33.1L659.4 35.2L658.4 37.2L658.4 37.2L657.4 39.2L656.4 41.2L656.4 41.2L655.4 43.2L654.4 45.2L654.3 45.3L653.4 47.2L652.3 49.1L652.3 49.3L651.2 51.3L650.3 52.7L650 53.3L648.7 55.3L648.3 55.9L647.4 57.3L646.3 58.9L646 59.3L644.6 61.3L644.3 61.7L643.1 63.4L642.3 64.4L641.5 65.4L640.3 66.9L639.9 67.4L638.2 69.4L638.2 69.4L636.5 71.4L636.2 71.7L634.7 73.4L634.2 74L632.8 75.4L632.2 76.1L630.9 77.5L630.2 78.2L628.9 79.5L628.2 80.2L626.9 81.5L626.2 82.2L624.9 83.5L624.1 84.3L623 85.5L622.1 86.3L620.8 87.5L620.1 88.1L618.6 89.5L618.1 89.9L616.2 91.5L616.1 91.6L614.1 93.3L613.8 93.6L612.1 95L611.4 95.6L610 96.7L609 97.6L608 98.4L606.6 99.6L606 100.1L604.3 101.6L604 101.9L602.1 103.6L602 103.8L600.1 105.6L600 105.8L598.2 107.7L598 108L596.5 109.7L596 110.3L594.8 111.7L593.9 112.7L593.1 113.7L591.9 115.1L591.4 115.7L589.9 117.5L589.7 117.7L588 119.7L587.9 119.8L586.2 121.8L585.9 122.1L584.3 123.8L583.9 124.3L582.4 125.8L581.9 126.4L580.4 127.8L579.8 128.4L578.4 129.8L577.8 130.3L576.2 131.8L575.8 132.1L573.8 133.8L573.8 133.9L571.8 135.4L571.3 135.9L569.8 136.9L568.5 137.9L567.8 138.4L565.8 139.7L565.5 139.9L563.7 141.1L562.4 141.9L561.7 142.4L559.7 143.7L559.3 143.9L557.7 145.2L556.6 145.9L555.7 146.6L553.7 147.9L553.7 148L551.7 149.2L550.4 150L549.6 150.4L547.6 151.4L546.4 152L545.6 152.3L543.6 153.2L541.6 153.9L541.4 154L539.6 154.6L537.6 155.2L535.6 155.7L533.8 156L533.5 156L531.5 156L529.5 156L527.5 156L525.5 156L523.5 156L521.5 156L519.4 156L517.4 156L516.9 156L515.4 155.8L513.4 155.3L511.4 154.8L509.4 154.2L508.6 154L507.4 153.6L505.3 152.9L503.3 152L503.2 152L501.3 151.2L499.3 150.2L498.9 150L497.3 149.1L495.3 147.9L495.3 147.9L493.3 146.6L492.3 145.9L491.3 145.2L489.6 143.9L489.2 143.6L487.2 142L487.1 141.9L485.2 140.3L484.7 139.9L483.2 138.5L483.2 137.9L483.2 135.9L483.2 133.8L483.2 131.8L483.2 129.8L483.2 127.8L483.2 125.8L483.2 123.8L483.2 121.8L483.2 119.7L483.2 117.7L483.2 115.7L483.2 113.7L483.2 111.7L483.2 109.7L483.2 107.7L483.2 105.6L483.2 103.6L483.2 101.6L483.2 99.6L483.2 97.6L483.2 95.6L483.2 93.6L483.2 91.5L483.2 89.5L483.2 87.5L483.2 85.5L483.2 83.5L483.2 81.5L483.2 79.5L483.2 77.5L483.2 75.4L483.2 73.4L483.2 71.4L483.2 69.4L483.2 67.4L483.2 65.4L483.2 63.4L483.2 61.3L483.2 59.3L483.2 57.3L483.2 55.3L483.2 53.3L483.2 51.3L483.2 49.3L483.2 47.2L483.2 45.2L483.2 43.2L483.2 41.2L483.2 39.2L483.2 37.2L483.2 35.2L483.2 33.1L483.2 31.1L483.2 29.1L483.2 27.1L483.2 25.1L483.2 23.1L483.2 21.1L483.2 19L483.2 17L483.2 15L483.2 13Z" fill="#211eff" stroke="#211eff" stroke-width="0.3" fill-rule="evenodd"/>
<path d="M485.2 13L487.2 13L489.2 13L491.3 13L493.3 13L495.3 13L497.3 13L499.3 13L501.3 13L503.3 13L505.3 13L507.4 13L509.4 13L511.4 13L513.4 13L515.4 13L517.4 13L519.4 13L521.5 13L523.5 13L525.5 13L527.5 13L529.5 13L531.5 13L533.5 13L535.6 13L537.6 13L539.6 13L541.6 13L543.6 13L545.6 13L547.6 13L549.6 13L551.7 13L553.7 13L555.7 13L557.7 13L559.7 13L561.7 13L563.7 13L565.8 13L567.8 13L569.8 13L571.8 13L573.8 13L575.8 13L577.8 13L579.8 13L581.9 13L583.9 13L585.9 13L587.9 13L589.9 13L591.9 13L593.9 13L596 13L598 13L600 13L602 13L604 13L606 13L608 13L610 13L612.1 13L614.1 13L616.1 13L618.1 13L620.1 13L622.1 13L624.1 13L626.2 13L628.2 13L630.2 13L632.2 13L634.2 13L636.2 13L638.2 13L640.3 13L642.3 13L644.3 13L646.3 13L648.3 13L650.3 13L652.3 13L653.8 13L652.9 15L652.3 16.6L652.2 17L651.6 19L650.9 21.1L650.3 22.9L650.3 23.1L649.7 25.1L649 27.1L648.4 29.1L648.3 29.4L647.8 31.1L647.1 33.1L646.3 35.1L646.3 35.2L645.5 37.2L644.6 39.2L644.3 40L643.8 41.2L643 43.2L642.3 44.8L642.1 45.2L641.2 47.2L640.3 49.3L640.3 49.4L639.4 51.3L638.3 53.3L638.2 53.5L637.3 55.3L636.2 57.1L636.1 57.3L634.9 59.3L634.2 60.4L633.6 61.3L632.3 63.4L632.2 63.5L630.9 65.4L630.2 66.4L629.5 67.4L628.2 69.2L628 69.4L626.5 71.4L626.2 71.9L624.9 73.4L624.1 74.3L623.2 75.4L622.1 76.7L621.5 77.5L620.1 78.9L619.7 79.5L618.1 81.2L617.8 81.5L616.1 83.4L616 83.5L614.2 85.5L614.1 85.6L612.3 87.5L612.1 87.7L610.2 89.5L610 89.7L608 91.5L608 91.5L606 93.3L605.8 93.6L604 95.1L603.5 95.6L602 96.9L601.3 97.6L600 98.8L599.1 99.6L598 100.6L596.9 101.6L596 102.6L594.9 103.6L593.9 104.6L592.9 105.6L591.9 106.7L591.1 107.7L589.9 109.1L589.5 109.7L587.9 111.6L587.8 111.7L586.2 113.7L585.9 114.1L584.5 115.7L583.9 116.5L582.8 117.7L581.9 118.9L581.1 119.7L579.8 121.2L579.3 121.8L577.8 123.4L577.5 123.8L575.8 125.6L575.6 125.8L573.8 127.6L573.6 127.8L571.8 129.6L571.5 129.8L569.8 131.4L569.3 131.8L567.8 133.2L567 133.8L565.8 134.8L564.3 135.9L563.7 136.3L561.7 137.7L561.4 137.9L559.7 139L558.6 139.9L557.7 140.5L555.8 141.9L555.7 142L553.7 143.4L552.9 143.9L551.7 144.7L549.7 145.9L549.6 146L547.6 147.1L545.9 147.9L545.6 148.1L543.6 149L541.6 149.8L541 150L539.6 150.4L537.6 151L535.6 151.5L533.5 151.9L533.1 152L531.5 152.2L529.5 152.5L527.5 152.6L525.5 152.6L523.5 152.6L521.5 152.5L519.4 152.2L517.6 152L517.4 152L515.4 151.6L513.4 151.2L511.4 150.7L509.4 150L509.1 150L507.4 149.4L505.3 148.6L503.9 147.9L503.3 147.7L501.3 146.7L499.8 145.9L499.3 145.6L497.3 144.4L496.5 143.9L495.3 143.1L493.5 141.9L493.3 141.7L491.3 140.3L490.8 139.9L489.2 138.7L488.3 137.9L487.2 136.9L486.2 135.9L485.2 134.8L484.4 133.8L483.2 132.3L483.2 131.8L483.2 129.8L483.2 127.8L483.2 125.8L483.2 123.8L483.2 121.8L483.2 119.7L483.2 117.7L483.2 115.7L483.2 113.7L483.2 111.7L483.2 109.7L483.2 107.7L483.2 105.6L483.2 103.6L483.2 101.6L483.2 99.6L483.2 97.6L483.2 95.6L483.2 93.6L483.2 91.5L483.2 89.5L483.2 87.5L483.2 85.5L483.2 83.5L483.2 81.5L483.2 79.5L483.2 77.5L483.2 75.4L483.2 73.4L483.2 71.4L483.2 69.4L483.2 67.4L483.2 65.4L483.2 63.4L483.2 61.3L483.2 59.3L483.2 57.3L483.2 55.3L483.2 53.3L483.2 51.3L483.2 49.3L483.2 47.2L483.2 45.2L483.2 43.2L483.2 41.2L483.2 39.2L483.2 37.2L483.2 35.2L483.2 33.1L483.2 31.1L483.2 29.1L483.2 27.1L483.2 25.1L483.2 23.1L483.2 21.1L483.2 19L483.2 17L483.2 15L483.2 13Z" fill="#2532ff" stroke="#2532ff" stroke-width="0.3" fill-rule="evenodd"/>
<path d="M485.2 13L487.2 13L489.2 13L491.3 13L493.3 13L495.3 13L497.3 13L499.3 13L501.3 13L503.3 13L505.3 13L507.4 13L509.4 13L511.4 13L513.4 13L515.4 13L517.4 13L519.4 13L521.5 13L523.5 13L525.5 13L527.5 13L529.5 13L531.5 13L533.5 13L535.6 13L537.6 13L539.6 13L541.6 13L543.6 13L545.6 13L547.6 13L549.6 13L551.7 13L553.7 13L555.7 13L557.7 13L559.7 13L561.7 13L563.7 13L565.8 13L567.8 13L569.8 13L571.8 13L573.8 13L575.8 13L577.8 13L579.8 13L581.9 13L583.9 13L585.9 13L587.9 13L589.9 13L591.9 13L593.9 13L596 13L598 13L600 13L602 13L604 13L606 13L608 13L610 13L612.1 13L614.1 13L616.1 13L618.1 13L620.1 13L622.1 13L624.1 13L626.2 13L628.2 13L630.2 13L632.2 13L634.2 13L636.2 13L638.2 13L640.3 13L642.3 13L642.6 13L642.3 13.9L641.9 15L641.3 17L640.8 19L640.3 21.1L640.3 21.2L639.8 23.1L639.3 25.1L638.8 27.1L638.2 29.1L638.2 29.1L637.7 31.1L637.1 33.1L636.5 35.2L636.2 35.9L635.8 37.2L635.1 39.2L634.3 41.2L634.2 41.5L633.6 43.2L632.9 45.2L632.2 47.1L632.1 47.2L631.4 49.3L630.5 51.3L630.2 52L629.6 53.3L628.6 55.3L628.2 56.2L627.6 57.3L626.5 59.3L626.2 60L625.4 61.3L624.2 63.4L624.1 63.4L623 65.4L622.1 66.6L621.7 67.4L620.3 69.4L620.1 69.7L619 71.4L618.1 72.6L617.5 73.4L616.1 75.2L615.9 75.4L614.3 77.5L614.1 77.7L612.6 79.5L612.1 80.1L610.9 81.5L610 82.5L609.3 83.5L608 84.9L607.6 85.5L606 87.2L605.7 87.5L604 89.3L603.8 89.5L602 91.3L601.7 91.5L600 93.2L599.6 93.6L598 95.1L597.5 95.6L596 97L595.3 97.6L593.9 98.9L593.2 99.6L591.9 100.9L591.2 101.6L589.9 102.9L589.2 103.6L587.9 105L587.3 105.6L585.9 107.3L585.6 107.7L584 109.7L583.9 109.8L582.4 111.7L581.9 112.3L580.8 113.7L579.8 114.8L579.1 115.7L577.8 117.2L577.4 117.7L575.8 119.6L575.7 119.7L573.9 121.8L573.8 121.9L572.1 123.8L571.8 124.1L570.2 125.8L569.8 126.2L568.2 127.8L567.8 128.2L566.1 129.8L565.8 130.1L563.8 131.8L563.7 131.9L561.7 133.6L561.4 133.8L559.7 135.1L558.8 135.9L557.7 136.8L556.3 137.9L555.7 138.3L553.7 139.7L553.4 139.9L551.7 141.1L550.2 141.9L549.6 142.3L547.6 143.4L546.6 143.9L545.6 144.5L543.6 145.4L542.4 145.9L541.6 146.3L539.6 147L537.6 147.6L536.3 147.9L535.6 148.2L533.5 148.6L531.5 148.9L529.5 149.1L527.5 149.3L525.5 149.3L523.5 149.3L521.5 149.1L519.4 148.9L517.4 148.6L515.4 148.2L514.3 147.9L513.4 147.7L511.4 147.2L509.4 146.5L507.8 145.9L507.4 145.8L505.3 144.9L503.3 143.9L503.3 143.9L501.3 142.9L499.6 141.9L499.3 141.7L497.3 140.5L496.3 139.9L495.3 139.2L493.5 137.9L493.3 137.7L491.3 136.1L491 135.9L489.2 134.1L489 133.8L487.3 131.8L487.2 131.7L485.9 129.8L485.2 128.8L484.6 127.8L483.4 125.8L483.2 125.4L483.2 123.8L483.2 121.8L483.2 119.7L483.2 117.7L483.2 115.7L483.2 113.7L483.2 111.7L483.2 109.7L483.2 107.7L483.2 105.6L483.2 103.6L483.2 101.6L483.2 99.6L483.2 97.6L483.2 95.6L483.2 93.6L483.2 91.5L483.2 89.5L483.2 87.5L483.2 85.5L483.2 83.5L483.2 81.5L483.2 79.5L483.2 77.5L483.2 75.4L483.2 73.4L483.2 71.4L483.2 69.4L483.2 67.4L483.2 65.4L483.2 63.4L483.2 61.3L483.2 59.3L483.2 57.3L483.2 55.3L483.2 53.3L483.2 51.3L483.2 49.3L483.2 47.2L483.2 45.2L483.2 43.2L483.2 41.2L483.2 39.2L483.2 37.2L483.2 35.2L483.2 33.1L483.2 31.1L483.2 29.1L483.2 27.1L483.2 25.1L483.2 23.1L483.2 21.1L483.2 19L483.2 17L483.2 15L483.2 13Z" fill="#2a46ff" stroke="#2a46ff" stroke-width="0.3" fill-rule="evenodd"/>
<path d="M485.2 13L487.2 13L489.2 13L491.3 13L493.3 13L495.3 13L497.3 13L499.3 13L501.3 13L503.3 13L505.3 13L507.4 13L509.4 13L511.4 13L513.4 13L515.4 13L517.4 13L519.4 13L521.5 13L523.5 13L525.5 13L527.5 13L529.5 13L531.5 13L533.5 13L535.6 13L537.6 13L539.6 13L541.6 13L543.6 13L545.6 13L547.6 13L549.6 13L551.7 13L553.7 13L555.7 13L557.7 13L559.7 13L561.7 13L563.7 13L565.8 13L567.8 13L569.8 13L571.8 13L573.8 13L575.8 13L577.8 13L579.8 13L581.9 13L583.9 13L585.9 13L587.9 13L589.9 13L591.9 13L593.9 13L596 13L598 13L600 13L602 13L604 13L606 13L608 13L610 13L612.1 13L614.1 13L616.1 13L618.1 13L620.1 13L622.1 13L624.1 13L626.2 13L628.2 13L630.2 13L632.2 13L633.7 13L633.1 15L632.7 17L632.2 19L632.2 19.3L631.9 21.1L631.4 23.1L631 25.1L630.6 27.1L630.2 29L630.2 29.1L629.7 31.1L629.2 33.1L628.7 35.2L628.2 36.8L628.1 37.2L627.4 39.2L626.8 41.2L626.2 43.2L626.2 43.3L625.6 45.2L624.9 47.2L624.2 49.3L624.1 49.3L623.4 51.3L622.6 53.3L622.1 54.4L621.7 55.3L620.8 57.3L620.1 58.7L619.8 59.3L618.8 61.3L618.1 62.6L617.7 63.4L616.5 65.4L616.1 66.1L615.4 67.4L614.1 69.4L614.1 69.5L612.9 71.4L612.1 72.6L611.5 73.4L610 75.4L610 75.4L608.5 77.5L608 78L606.9 79.5L606 80.6L605.3 81.5L604 83.2L603.7 83.5L602.1 85.5L602 85.7L600.4 87.5L600 88L598.6 89.5L598 90.1L596.6 91.5L596 92.2L594.6 93.6L593.9 94.2L592.5 95.6L591.9 96.2L590.5 97.6L589.9 98.1L588.4 99.6L587.9 100.2L586.5 101.6L585.9 102.2L584.5 103.6L583.9 104.4L582.7 105.6L581.9 106.7L581 107.7L579.8 109.1L579.4 109.7L577.8 111.7L577.8 111.7L576.2 113.7L575.8 114.2L574.6 115.7L573.8 116.7L572.9 117.7L571.8 119.1L571.2 119.7L569.8 121.4L569.4 121.8L567.8 123.6L567.6 123.8L565.8 125.7L565.6 125.8L563.7 127.7L563.6 127.8L561.7 129.5L561.4 129.8L559.7 131.3L559.2 131.8L557.7 133.3L557.1 133.8L555.7 135.1L554.7 135.9L553.7 136.6L551.8 137.9L551.7 138L549.6 139.2L548.5 139.9L547.6 140.4L545.6 141.4L544.5 141.9L543.6 142.3L541.6 143.2L539.6 143.9L539.6 143.9L537.6 144.6L535.6 145.2L533.5 145.6L531.7 145.9L531.5 146L529.5 146.2L527.5 146.3L525.5 146.4L523.5 146.3L521.5 146.2L519.5 145.9L519.4 145.9L517.4 145.6L515.4 145.2L513.4 144.7L511.4 144L511 143.9L509.4 143.4L507.4 142.6L505.9 141.9L505.3 141.7L503.3 140.7L501.7 139.9L501.3 139.7L499.3 138.5L498.4 137.9L497.3 137.2L495.5 135.9L495.3 135.7L493.3 133.9L493.2 133.8L491.3 131.8L491.3 131.8L489.7 129.8L489.2 129.2L488.3 127.8L487.2 126.2L487 125.8L485.8 123.8L485.2 122.6L484.8 121.8L483.9 119.7L483.2 118.2L483.2 117.7L483.2 115.7L483.2 113.7L483.2 111.7L483.2 109.7L483.2 107.7L483.2 105.6L483.2 103.6L483.2 101.6L483.2 99.6L483.2 97.6L483.2 95.6L483.2 93.6L483.2 91.5L483.2 89.5L483.2 87.5L483.2 85.5L483.2 83.5L483.2 81.5L483.2 79.5L483.2 77.5L483.2 75.4L483.2 73.4L483.2 71.4L483.2 69.4L483.2 67.4L483.2 65.4L483.2 63.4L483.2 61.3L483.2 59.3L483.2 57.3L483.2 55.3L483.2 53.3L483.2 51.3L483.2 49.3L483.2 47.2L483.2 45.2L483.2 43.2L483.2 41.2L483.2 39.2L483.2 37.2L483.2 35.2L483.2 33.1L483.2 31.1L483.2 29.1L483.2 27.1L483.2 25.1L483.2 23.1L483.2 21.1L483.2 19L483.2 17L483.2 15L483.2 13Z" fill="#3062ff" stroke="#3062ff" stroke-width="0.3" fill-rule="evenodd"/>
<path d="M485.2 13L487.2 13L489.2 13L491.3 13L493.3 13L495.3 13L497.3 13L499.3 13L501.3 13L503.3 13L505.3 13L507.4 13L509.4 13L511.4 13L513.4 13L515.4 13L517.4 13L519.4 13L521.5 13L523.5 13L525.5 13L527.5 13L529.5 13L531.5 13L533.5 13L535.6 13L537.6 13L539.6 13L541.6 13L543.6 13L545.6 13L547.6 13L549.6 13L551.7 13L553.7 13L555.7 13L557.7 13L559.7 13L561.7 13L563.7 13L565.8 13L567.8 13L569.8 13L571.8 13L573.8 13L575.8 13L577.8 13L579.8 13L581.9 13L583.9 13L585.9 13L587.9 13L589.9 13L591.9 13L593.9 13L596 13L598 13L600 13L602 13L604 13L606 13L608 13L610 13L612.1 13L614.1 13L616.1 13L618.1 13L620.1 13L622.1 13L624.1 13L626.2 13L626.4 13L626.2 13.9L625.9 15L625.5 17L625.2 19L624.9 21.1L624.5 23.1L624.2 25.1L624.1 25.2L623.8 27.1L623.5 29.1L623.1 31.1L622.7 33.1L622.2 35.2L622.1 35.4L621.7 37.2L621.1 39.2L620.6 41.2L620.1 42.8L620 43.2L619.4 45.2L618.8 47.2L618.2 49.3L618.1 49.5L617.5 51.3L616.8 53.3L616.1 55L616 55.3L615.1 57.3L614.2 59.3L614.1 59.6L613.3 61.3L612.2 63.4L612.1 63.7L611.2 65.4L610.1 67.4L610 67.4L608.9 69.4L608 70.9L607.7 71.4L606.4 73.4L606 74L605.1 75.4L604 76.9L603.6 77.5L602.1 79.5L602 79.6L600.6 81.5L600 82.3L599.1 83.5L598 85L597.6 85.5L596 87.5L595.9 87.5L594.1 89.5L593.9 89.7L592.3 91.5L591.9 91.9L590.3 93.6L589.9 94L588.3 95.6L587.9 96L586.4 97.6L585.9 98.1L584.4 99.6L583.9 100.1L582.4 101.6L581.9 102.2L580.6 103.6L579.8 104.4L578.8 105.6L577.8 106.8L577.1 107.7L575.8 109.3L575.5 109.7L574 111.7L573.8 111.9L572.4 113.7L571.8 114.4L570.7 115.7L569.8 116.9L569.1 117.7L567.8 119.2L567.3 119.7L565.8 121.5L565.5 121.8L563.7 123.6L563.6 123.8L561.7 125.7L561.6 125.8L559.7 127.7L559.6 127.8L557.8 129.8L557.7 129.9L555.7 131.8L555.7 131.9L553.7 133.6L553.4 133.8L551.7 135.1L550.6 135.9L549.6 136.5L547.6 137.7L547.3 137.9L545.6 138.8L543.6 139.7L543.1 139.9L541.6 140.6L539.6 141.3L537.6 141.9L537.6 141.9L535.6 142.5L533.5 142.9L531.5 143.3L529.5 143.5L527.5 143.7L525.5 143.7L523.5 143.6L521.5 143.5L519.4 143.2L517.4 142.9L515.4 142.5L513.4 141.9L513.4 141.9L511.4 141.3L509.4 140.6L507.5 139.9L507.4 139.8L505.3 138.9L503.3 137.9L503.3 137.9L501.3 136.7L500 135.9L499.3 135.4L497.3 133.9L497.3 133.8L495.3 132L495.1 131.8L493.3 129.8L493.3 129.8L491.7 127.8L491.3 127.2L490.3 125.8L489.2 124.1L489 123.8L487.9 121.8L487.2 120.5L486.9 119.7L485.9 117.7L485.2 116L485.1 115.7L484.3 113.7L483.6 111.7L483.2 110.6L483.2 109.7L483.2 107.7L483.2 105.6L483.2 103.6L483.2 101.6L483.2 99.6L483.2 97.6L483.2 95.6L483.2 93.6L483.2 91.5L483.2 89.5L483.2 87.5L483.2 85.5L483.2 83.5L483.2 81.5L483.2 79.5L483.2 77.5L483.2 75.4L483.2 73.4L483.2 71.4L483.2 69.4L483.2 67.4L483.2 65.4L483.2 63.4L483.2 61.3L483.2 59.3L483.2 57.3L483.2 55.3L483.2 53.3L483.2 51.3L483.2 49.3L483.2 47.2L483.2 45.2L483.2 43.2L483.2 41.2L483.2 39.2L483.2 37.2L483.2 35.2L483.2 33.1L483.2 31.1L483.2 29.1L483.2 27.1L483.2 25.1L483.2 23.1L483.2 21.1L483.2 19L483.2 17L483.2 15L483.2 13Z" fill="#377eff" stroke="#377eff" stroke-width="0.3" fill-rule="evenodd"/>
<path d="M485.2 13L487.2 13L489.2 13L491.3 13L493.3 13L495.3 13L497.3 13L499.3 13L501.3 13L503.3 13L505.3 13L507.4 13L509.4 13L511.4 13L513.4 13L515.4 13L517.4 13L519.4 13L521.5 13L523.5 13L525.5 13L527.5 13L529.5 13L531.5 13L533.5 13L535.6 13L537.6 13L539.6 13L541.6 13L543.6 13L545.6 13L547.6 13L549.6 13L551.7 13L553.7 13L555.7 13L557.7 13L559.7 13L561.7 13L563.7 13L565.8 13L567.8 13L569.8 13L571.8 13L573.8 13L575.8 13L577.8 13L579.8 13L581.9 13L583.9 13L585.9 13L587.9 13L589.9 13L591.9 13L593.9 13L596 13L598 13L600 13L602 13L604 13L606 13L608 13L610 13L612.1 13L614.1 13L616.1 13L618.1 13L620.1 13L620.1 13L620.1 13.1L619.7 15L619.4 17L619.2 19L618.9 21.1L618.6 23.1L618.3 25.1L618.1 26.7L618 27.1L617.8 29.1L617.4 31.1L617.1 33.1L616.7 35.2L616.2 37.2L616.1 37.5L615.7 39.2L615.2 41.2L614.7 43.2L614.2 45.2L614.1 45.7L613.7 47.2L613.1 49.3L612.5 51.3L612.1 52.4L611.8 53.3L611.1 55.3L610.2 57.3L610 57.7L609.4 59.3L608.5 61.3L608 62.3L607.6 63.4L606.6 65.4L606 66.4L605.5 67.4L604.5 69.4L604 70.2L603.3 71.4L602.1 73.4L602 73.6L600.8 75.4L600 76.6L599.4 77.5L598 79.5L598 79.5L596.6 81.5L596 82.3L595.1 83.5L593.9 85.1L593.6 85.5L592 87.5L591.9 87.6L590.3 89.5L589.9 90L588.5 91.5L587.9 92.2L586.6 93.6L585.9 94.3L584.7 95.6L583.9 96.4L582.8 97.6L581.9 98.5L580.8 99.6L579.8 100.6L578.9 101.6L577.8 102.8L577.1 103.6L575.8 105.1L575.3 105.6L573.8 107.5L573.7 107.7L572.1 109.7L571.8 110.1L570.5 111.7L569.8 112.6L568.9 113.7L567.8 115.1L567.3 115.7L565.8 117.5L565.6 117.7L563.8 119.7L563.7 119.8L562 121.8L561.7 122L560.2 123.8L559.7 124.3L558.4 125.8L557.7 126.6L556.6 127.8L555.7 128.7L554.6 129.8L553.7 130.6L552.3 131.8L551.7 132.4L549.7 133.8L549.6 133.9L547.6 135.2L546.4 135.9L545.6 136.3L543.6 137.3L542.3 137.9L541.6 138.2L539.6 139L537.6 139.6L536.5 139.9L535.6 140.2L533.5 140.6L531.5 141L529.5 141.2L527.5 141.3L525.5 141.3L523.5 141.3L521.5 141.1L519.4 140.9L517.4 140.5L515.4 140.1L514.7 139.9L513.4 139.5L511.4 138.9L509.4 138.2L508.7 137.9L507.4 137.3L505.3 136.3L504.5 135.9L503.3 135.2L501.3 133.9L501.3 133.8L499.3 132.3L498.8 131.8L497.3 130.4L496.8 129.8L495.3 128.2L495 127.8L493.4 125.8L493.3 125.6L492 123.8L491.3 122.5L490.8 121.8L489.7 119.7L489.2 118.9L488.6 117.7L487.7 115.7L487.2 114.5L486.9 113.7L486.1 111.7L485.4 109.7L485.2 109.2L484.7 107.7L484 105.6L483.4 103.6L483.2 103L483.2 101.6L483.2 99.6L483.2 97.6L483.2 95.6L483.2 93.6L483.2 91.5L483.2 89.5L483.2 87.5L483.2 85.5L483.2 83.5L483.2 81.5L483.2 79.5L483.2 77.5L483.2 75.4L483.2 73.4L483.2 71.4L483.2 69.4L483.2 67.4L483.2 65.4L483.2 63.4L483.2 61.3L483.2 59.3L483.2 57.3L483.2 55.3L483.2 53.3L483.2 51.3L483.2 49.3L483.2 47.2L483.2 45.2L483.2 43.2L483.2 41.2L483.2 39.2L483.2 37.2L483.2 35.2L483.2 33.1L483.2 31.1L483.2 29.1L483.2 27.1L483.2 25.1L483.2 23.1L483.2 21.1L483.2 19L483.2 17L483.2 15L483.2 13Z" fill="#409aff" stroke="#409aff" stroke-width="0.3" fill-rule="evenodd"/>
<path d="M485.2 13L487.2 13L489.2 13L491.3 13L493.3 13L495.3 13L497.3 13L499.3 13L501.3 13L503.3 13L505.3 13L507.4 13L509.4 13L511.4 13L513.4 13L515.4 13L517.4 13L519.4 13L521.5 13L523.5 13L525.5 13L527.5 13L529.5 13L531.5 13L533.5 13L535.6 13L537.6 13L539.6 13L541.6 13L543.6 13L545.6 13L547.6 13L549.6 13L551.7 13L553.7 13L555.7 13L557.7 13L559.7 13L561.7 13L563.7 13L565.8 13L567.8 13L569.8 13L571.8 13L573.8 13L575.8 13L577.8 13L579.8 13L581.9 13L583.9 13L585.9 13L587.9 13L589.9 13L591.9 13L593.9 13L596 13L598 13L600 13L602 13L604 13L606 13L608 13L610 13L612.1 13L614.1 13L614.7 13L614.3 15L614.1 17L614.1 17.1L613.9 19L613.7 21.1L613.5 23.1L613.2 25.1L613 27.1L612.8 29.1L612.5 31.1L612.2 33.1L612.1 33.8L611.8 35.2L611.4 37.2L611 39.2L610.5 41.2L610.1 43.2L610 43.3L609.6 45.2L609.1 47.2L608.6 49.3L608 51.2L608 51.3L607.4 53.3L606.7 55.3L606 57.1L606 57.3L605.2 59.3L604.3 61.3L604 62.1L603.5 63.4L602.5 65.4L602 66.4L601.5 67.4L600.5 69.4L600 70.4L599.5 71.4L598.3 73.4L598 73.9L597 75.4L596 77.1L595.7 77.5L594.4 79.5L593.9 80.1L593 81.5L591.9 83L591.6 83.5L590.1 85.5L589.9 85.8L588.6 87.5L587.9 88.4L586.9 89.5L585.9 90.7L585.2 91.5L583.9 93L583.3 93.6L581.9 95.1L581.5 95.6L579.8 97.3L579.6 97.6L577.8 99.4L577.7 99.6L575.8 101.6L575.8 101.6L574 103.6L573.8 103.8L572.2 105.6L571.8 106.2L570.6 107.7L569.8 108.7L569 109.7L567.8 111.3L567.4 111.7L565.8 113.7L565.8 113.8L564.2 115.7L563.7 116.2L562.5 117.7L561.7 118.6L560.8 119.7L559.7 121L559.1 121.8L557.7 123.5L557.4 123.8L555.7 125.7L555.6 125.8L553.7 127.7L553.6 127.8L551.7 129.6L551.4 129.8L549.6 131.2L548.8 131.8L547.6 132.7L545.8 133.8L545.6 134L543.6 135.1L541.9 135.9L541.6 136L539.6 136.8L537.6 137.5L536.2 137.9L535.6 138L533.5 138.5L531.5 138.8L529.5 139.1L527.5 139.2L525.5 139.2L523.5 139.1L521.5 139L519.4 138.7L517.4 138.4L515.4 137.9L515.4 137.9L513.4 137.3L511.4 136.6L509.4 135.9L509.4 135.8L507.4 134.9L505.5 133.8L505.3 133.8L503.3 132.4L502.6 131.8L501.3 130.8L500.2 129.8L499.3 129L498.2 127.8L497.3 126.8L496.4 125.8L495.3 124.3L494.9 123.8L493.5 121.8L493.3 121.3L492.3 119.7L491.3 117.8L491.2 117.7L490.2 115.7L489.3 113.7L489.2 113.5L488.5 111.7L487.7 109.7L487.2 108.4L487 107.7L486.3 105.6L485.6 103.6L485.2 102.5L484.9 101.6L484.3 99.6L483.7 97.6L483.2 95.6L483.2 95.6L483.2 93.6L483.2 91.5L483.2 89.5L483.2 87.5L483.2 85.5L483.2 83.5L483.2 81.5L483.2 79.5L483.2 77.5L483.2 75.4L483.2 73.4L483.2 71.4L483.2 69.4L483.2 67.4L483.2 65.4L483.2 63.4L483.2 61.3L483.2 59.3L483.2 57.3L483.2 55.3L483.2 53.3L483.2 51.3L483.2 49.3L483.2 47.2L483.2 45.2L483.2 43.2L483.2 41.2L483.2 39.2L483.2 37.2L483.2 35.2L483.2 33.1L483.2 31.1L483.2 29.1L483.2 27.1L483.2 25.1L483.2 23.1L483.2 21.1L483.2 19L483.2 17L483.2 15L483.2 13Z" fill="#4db6ff" stroke="#4db6ff" stroke-width="0.3" fill-rule="evenodd"/>
<path d="M485.2 13L487.2 13L489.2 13L491.3 13L493.3 13L495.3 13L497.3 13L499.3 13L501.3 13L503.3 13L505.3 13L507.4 13L509.4 13L511.4 13L513.4 13L515.4 13L517.4 13L519.4 13L521.5 13L523.5 13L525.5 13L527.5 13L529.5 13L531.5 13L533.5 13L535.6 13L537.6 13L539.6 13L541.6 13L543.6 13L545.6 13L547.6 13L549.6 13L551.7 13L553.7 13L555.7 13L557.7 13L559.7 13L561.7 13L563.7 13L565.8 13L567.8 13L569.8 13L571.8 13L573.8 13L575.8 13L577.8 13L579.8 13L581.9 13L583.9 13L585.9 13L587.9 13L589.9 13L591.9 13L593.9 13L596 13L598 13L600 13L602 13L604 13L606 13L608 13L609.9 13L609.6 15L609.4 17L609.2 19L609.1 21.1L608.9 23.1L608.7 25.1L608.5 27.1L608.3 29.1L608.1 31.1L608 31.6L607.8 33.1L607.5 35.2L607.1 37.2L606.7 39.2L606.3 41.2L606 42.8L605.9 43.2L605.5 45.2L605.1 47.2L604.6 49.3L604.1 51.3L604 51.5L603.5 53.3L602.9 55.3L602.1 57.3L602 57.7L601.4 59.3L600.6 61.3L600 62.8L599.8 63.4L598.9 65.4L598 67.3L597.9 67.4L597 69.4L596 71.4L596 71.4L594.9 73.4L593.9 75L593.7 75.4L592.4 77.5L591.9 78.2L591.1 79.5L589.9 81.2L589.7 81.5L588.4 83.5L587.9 84.2L587 85.5L585.9 87L585.5 87.5L583.9 89.5L583.9 89.5L582.2 91.5L581.9 91.9L580.4 93.6L579.8 94.1L578.5 95.6L577.8 96.3L576.7 97.6L575.8 98.5L574.8 99.6L573.8 100.7L573 101.6L571.8 102.9L571.2 103.6L569.8 105.2L569.4 105.6L567.8 107.7L567.8 107.7L566.2 109.7L565.8 110.3L564.6 111.7L563.7 112.8L563 113.7L561.7 115.2L561.4 115.7L559.8 117.7L559.7 117.8L558.2 119.7L557.7 120.4L556.6 121.8L555.7 122.8L554.8 123.8L553.7 125L552.8 125.8L551.7 126.9L550.6 127.8L549.6 128.6L548.1 129.8L547.6 130.2L545.6 131.6L545.2 131.8L543.6 132.8L541.6 133.8L541.5 133.8L539.6 134.7L537.6 135.4L536.1 135.9L535.6 136L533.5 136.5L531.5 136.9L529.5 137.1L527.5 137.2L525.5 137.2L523.5 137.2L521.5 137L519.4 136.7L517.4 136.3L515.7 135.9L515.4 135.8L513.4 135.2L511.4 134.4L510.1 133.8L509.4 133.5L507.4 132.4L506.5 131.8L505.3 131.1L503.7 129.8L503.3 129.5L501.4 127.8L501.3 127.8L499.4 125.8L499.3 125.7L497.7 123.8L497.3 123.2L496.2 121.8L495.3 120.4L494.9 119.7L493.7 117.7L493.3 117L492.6 115.7L491.6 113.7L491.3 112.9L490.7 111.7L489.9 109.7L489.2 108L489.1 107.7L488.4 105.6L487.6 103.6L487.2 102.4L486.9 101.6L486.3 99.6L485.7 97.6L485.2 95.9L485.1 95.6L484.6 93.6L484.2 91.5L483.8 89.5L483.5 87.5L483.3 85.5L483.2 84.7L483.2 83.5L483.2 81.5L483.2 79.5L483.2 77.5L483.2 75.4L483.2 73.4L483.2 71.4L483.2 69.4L483.2 67.4L483.2 65.4L483.2 63.4L483.2 61.3L483.2 59.3L483.2 57.3L483.2 55.3L483.2 53.3L483.2 51.3L483.2 49.3L483.2 47.2L483.2 45.2L483.2 43.2L483.2 41.2L483.2 39.2L483.2 37.2L483.2 35.2L483.2 33.1L483.2 31.1L483.2 29.1L483.2 27.1L483.2 25.1L483.2 23.1L483.2 21.1L483.2 19L483.2 17L483.2 15L483.2 13Z" fill="#59d2ff" stroke="#59d2ff" stroke-width="0.3" fill-rule="evenodd"/>
<path d="M485.2 13L487.2 13L489.2 13L491.3 13L493.3 13L495.3 13L497.3 13L499.3 13L501.3 13L503.3 13L505.3 13L507.4 13L509.4 13L511.4 13L513.4 13L515.4 13L517.4 13L519.4 13L521.5 13L523.5 13L525.5 13L527.5 13L529.5 13L531.5 13L533.5 13L535.6 13L537.6 13L539.6 13L541.6 13L543.6 13L545.6 13L547.6 13L549.6 13L551.7 13L553.7 13L555.7 13L557.7 13L559.7 13L561.7 13L563.7 13L565.8 13L567.8 13L569.8 13L571.8 13L573.8 13L575.8 13L577.8 13L579.8 13L581.9 13L583.9 13L585.9 13L587.9 13L589.9 13L591.9 13L593.9 13L596 13L598 13L600 13L602 13L604 13L605.5 13L605.3 15L605.1 17L605 19L604.9 21.1L604.8 23.1L604.6 25.1L604.5 27.1L604.3 29.1L604.1 31.1L604 32.2L603.9 33.1L603.6 35.2L603.3 37.2L602.9 39.2L602.6 41.2L602.2 43.2L602 44.4L601.8 45.2L601.4 47.2L601 49.3L600.5 51.3L600 53.2L600 53.3L599.4 55.3L598.7 57.3L598 59.3L598 59.3L597.2 61.3L596.5 63.4L596 64.5L595.6 65.4L594.7 67.4L593.9 69.1L593.8 69.4L592.8 71.4L591.9 73.1L591.8 73.4L590.6 75.4L589.9 76.6L589.4 77.5L588.1 79.5L587.9 79.8L586.8 81.5L585.9 82.9L585.5 83.5L584.1 85.5L583.9 85.9L582.7 87.5L581.9 88.6L581.1 89.5L579.8 91L579.4 91.5L577.8 93.3L577.6 93.6L575.8 95.6L575.8 95.6L574 97.6L573.8 97.8L572.2 99.6L571.8 100L570.3 101.6L569.8 102.2L568.5 103.6L567.8 104.5L566.8 105.6L565.8 106.9L565.2 107.7L563.7 109.5L563.6 109.7L562 111.7L561.7 112L560.5 113.7L559.7 114.8L559.1 115.7L557.7 117.5L557.5 117.7L555.9 119.7L555.7 120L554.1 121.8L553.7 122.3L552.2 123.8L551.7 124.3L550 125.8L549.6 126.1L547.6 127.8L547.6 127.8L545.6 129.2L544.7 129.8L543.6 130.5L541.6 131.6L541.2 131.8L539.6 132.6L537.6 133.4L536.2 133.8L535.6 134L533.5 134.5L531.5 134.9L529.5 135.2L527.5 135.3L525.5 135.3L523.5 135.2L521.5 135L519.4 134.7L517.4 134.2L516 133.8L515.4 133.7L513.4 133L511.4 132.1L510.8 131.8L509.4 131.1L507.4 129.8L507.4 129.8L505.3 128.4L504.7 127.8L503.3 126.7L502.4 125.8L501.3 124.7L500.5 123.8L499.3 122.4L498.8 121.8L497.4 119.7L497.3 119.6L496.1 117.7L495.3 116.4L494.9 115.7L493.8 113.7L493.3 112.5L492.9 111.7L492 109.7L491.3 107.9L491.2 107.7L490.4 105.6L489.6 103.6L489.2 102.7L488.9 101.6L488.1 99.6L487.5 97.6L487.2 96.6L486.9 95.6L486.4 93.6L485.9 91.5L485.6 89.5L485.2 87.5L485.2 87.2L485 85.5L484.8 83.5L484.6 81.5L484.3 79.5L484 77.5L483.7 75.4L483.4 73.4L483.2 72.1L483.2 71.4L483.2 69.4L483.2 67.4L483.2 65.4L483.2 63.4L483.2 61.3L483.2 59.3L483.2 57.3L483.2 55.3L483.2 53.3L483.2 51.3L483.2 49.3L483.2 47.2L483.2 45.2L483.2 43.2L483.2 41.2L483.2 39.2L483.2 37.2L483.2 35.2L483.2 33.1L483.2 31.1L483.2 29.1L483.2 27.1L483.2 25.1L483.2 23.1L483.2 21.1L483.2 19L483.2 17L483.2 15L483.2 13Z" fill="#67e8fa" stroke="#67e8fa" stroke-width="0.3" fill-rule="evenodd"/>
<path d="M485.2 13L487.2 13L489.2 13L491.3 13L493.3 13L495.3 13L497.3 13L499.3 13L501.3 13L503.3 13L505.3 13L507.4 13L509.4 13L511.4 13L513.4 13L515.4 13L517.4 13L519.4 13L521.5 13L523.5 13L525.5 13L527.5 13L529.5 13L531.5 13L533.5 13L535.6 13L537.6 13L539.6 13L541.6 13L543.6 13L545.6 13L547.6 13L549.6 13L551.7 13L553.7 13L555.7 13L557.7 13L559.7 13L561.7 13L563.7 13L565.8 13L567.8 13L569.8 13L571.8 13L573.8 13L575.8 13L577.8 13L579.8 13L581.9 13L583.9 13L585.9 13L587.9 13L589.9 13L591.9 13L593.9 13L596 13L598 13L600 13L601.6 13L601.4 15L601.2 17L601.2 19L601.1 21.1L601 23.1L600.9 25.1L600.8 27.1L600.7 29.1L600.5 31.1L600.3 33.1L600.1 35.2L600 35.9L599.8 37.2L599.5 39.2L599.2 41.2L598.8 43.2L598.5 45.2L598.1 47.2L598 47.9L597.7 49.3L597.3 51.3L596.8 53.3L596.2 55.3L596 56L595.5 57.3L594.9 59.3L594.2 61.3L593.9 61.9L593.4 63.4L592.6 65.4L591.9 67L591.8 67.4L590.9 69.4L589.9 71.4L589.9 71.5L588.9 73.4L587.9 75.2L587.8 75.4L586.6 77.5L585.9 78.6L585.4 79.5L584.1 81.5L583.9 81.8L582.8 83.5L581.9 85L581.5 85.5L580.1 87.5L579.8 87.8L578.5 89.5L577.8 90.4L576.9 91.5L575.8 92.8L575.2 93.6L573.8 95.1L573.4 95.6L571.8 97.3L571.5 97.6L569.8 99.5L569.7 99.6L567.9 101.6L567.8 101.8L566.1 103.6L565.8 104.1L564.4 105.6L563.7 106.4L562.7 107.7L561.7 108.9L561.2 109.7L559.9 111.7L559.7 111.9L558.4 113.7L557.7 114.7L556.9 115.7L555.7 117.3L555.3 117.7L553.7 119.6L553.6 119.7L551.7 121.8L551.7 121.8L549.6 123.7L549.5 123.8L547.6 125.4L547.1 125.8L545.6 126.9L544.3 127.8L543.6 128.3L541.6 129.5L540.9 129.8L539.6 130.5L537.6 131.3L536.1 131.8L535.6 132L533.5 132.6L531.5 133L529.5 133.2L527.5 133.4L525.5 133.4L523.5 133.3L521.5 133L519.4 132.7L517.4 132.2L516.3 131.8L515.4 131.5L513.4 130.7L511.5 129.8L511.4 129.8L509.4 128.6L508.2 127.8L507.4 127.3L505.5 125.8L505.3 125.7L503.3 123.8L503.3 123.8L501.5 121.8L501.3 121.6L499.8 119.7L499.3 119L498.4 117.7L497.3 116L497.1 115.7L496 113.7L495.3 112.3L495 111.7L494 109.7L493.3 108L493.1 107.7L492.3 105.6L491.5 103.6L491.3 103.1L490.7 101.6L489.9 99.6L489.3 97.6L489.2 97.5L488.7 95.6L488.1 93.6L487.6 91.5L487.2 89.5L487.2 89.5L486.9 87.5L486.6 85.5L486.4 83.5L486.2 81.5L486 79.5L485.7 77.5L485.4 75.4L485.2 74.4L485.1 73.4L484.7 71.4L484.4 69.4L484.1 67.4L483.7 65.4L483.4 63.4L483.2 62.5L483.2 61.3L483.2 59.3L483.2 57.3L483.2 55.3L483.2 53.3L483.2 51.3L483.2 49.3L483.2 47.2L483.2 45.2L483.2 43.2L483.2 41.2L483.2 39.2L483.2 37.2L483.2 35.2L483.2 33.1L483.2 31.1L483.2 29.1L483.2 27.1L483.2 25.1L483.2 23.1L483.2 21.1L483.2 19L483.2 17L483.2 15L483.2 13Z" fill="#72fbf3" stroke="#72fbf3" stroke-width="0.3" fill-rule="evenodd"/>
<path d="M485.2 13L487.2 13L489.2 13L491.3 13L493.3 13L495.3 13L497.3 13L499.3 13L501.3 13L503.3 13L505.3 13L507.4 13L509.4 13L511.4 13L513.4 13L515.4 13L517.4 13L519.4 13L521.5 13L523.5 13L525.5 13L527.5 13L529.5 13L531.5 13L533.5 13L535.6 13L537.6 13L539.6 13L541.6 13L543.6 13L545.6 13L547.6 13L549.6 13L551.7 13L553.7 13L555.7 13L557.7 13L559.7 13L561.7 13L563.7 13L565.8 13L567.8 13L569.8 13L571.8 13L573.8 13L575.8 13L577.8 13L579.8 13L581.9 13L583.9 13L585.9 13L587.9 13L589.9 13L591.9 13L593.9 13L596 13L597.9 13L597.7 15L597.7 17L597.6 19L597.6 21.1L597.5 23.1L597.5 25.1L597.4 27.1L597.3 29.1L597.2 31.1L597 33.1L596.8 35.2L596.6 37.2L596.3 39.2L596 41.2L596 41.4L595.7 43.2L595.4 45.2L595.1 47.2L594.7 49.3L594.3 51.3L593.9 52.6L593.8 53.3L593.2 55.3L592.6 57.3L592 59.3L591.9 59.5L591.3 61.3L590.6 63.4L589.9 65.1L589.8 65.4L589 67.4L588.2 69.4L587.9 70L587.3 71.4L586.3 73.4L585.9 74.2L585.2 75.4L584.1 77.5L583.9 77.7L582.9 79.5L581.9 81.1L581.6 81.5L580.4 83.5L579.8 84.3L579.1 85.5L577.8 87.3L577.7 87.5L576.1 89.5L575.8 89.9L574.5 91.5L573.8 92.4L572.8 93.6L571.8 94.7L571.1 95.6L569.8 97L569.3 97.6L567.8 99.2L567.4 99.6L565.8 101.5L565.6 101.6L563.8 103.6L563.7 103.7L562.1 105.6L561.7 106.1L560.7 107.7L559.7 109.1L559.3 109.7L557.9 111.7L557.7 112L556.4 113.7L555.7 114.6L554.8 115.7L553.7 117.1L553.1 117.7L551.7 119.3L551.2 119.7L549.6 121.3L549.1 121.8L547.6 123.1L546.8 123.8L545.6 124.7L544.1 125.8L543.6 126.1L541.6 127.3L540.7 127.8L539.6 128.4L537.6 129.3L536.1 129.8L535.6 130L533.5 130.6L531.5 131L529.5 131.3L527.5 131.4L525.5 131.4L523.5 131.3L521.5 131L519.4 130.6L517.4 130.1L516.7 129.8L515.4 129.4L513.4 128.5L512.1 127.8L511.4 127.4L509.4 126.2L508.8 125.8L507.4 124.7L506.3 123.8L505.3 122.9L504.2 121.8L503.3 120.9L502.3 119.7L501.3 118.5L500.8 117.7L499.4 115.7L499.3 115.6L498.1 113.7L497.3 112.2L497 111.7L496 109.7L495.3 108.2L495.1 107.7L494.1 105.6L493.3 103.6L493.3 103.6L492.4 101.6L491.7 99.6L491.3 98.4L491 97.6L490.3 95.6L489.7 93.6L489.3 91.5L489.2 91.5L488.8 89.5L488.5 87.5L488.2 85.5L488 83.5L487.8 81.5L487.5 79.5L487.2 77.5L487.2 77.4L486.9 75.4L486.6 73.4L486.3 71.4L486 69.4L485.7 67.4L485.4 65.4L485.2 64.5L485 63.4L484.6 61.3L484.2 59.3L483.7 57.3L483.2 55.3L483.2 55.1L483.2 53.3L483.2 51.3L483.2 49.3L483.2 47.2L483.2 45.2L483.2 43.2L483.2 41.2L483.2 39.2L483.2 37.2L483.2 35.2L483.2 33.1L483.2 31.1L483.2 29.1L483.2 27.1L483.2 25.1L483.2 23.1L483.2 21.1L483.2 19L483.2 17L483.2 15L483.2 13Z" fill="#62fad2" stroke="#62fad2" stroke-width="0.3" fill-rule="evenodd"/>
<path d="M485.2 13L487.2 13L489.2 13L491.3 13L493.3 13L495.3 13L497.3 13L499.3 13L501.3 13L503.3 13L505.3 13L507.4 13L509.4 13L511.4 13L513.4 13L515.4 13L517.4 13L519.4 13L521.5 13L523.5 13L525.5 13L527.5 13L529.5 13L531.5 13L533.5 13L535.6 13L537.6 13L539.6 13L541.6 13L543.6 13L545.6 13L547.6 13L549.6 13L551.7 13L553.7 13L555.7 13L557.7 13L559.7 13L561.7 13L563.7 13L565.8 13L567.8 13L569.8 13L571.8 13L573.8 13L575.8 13L577.8 13L579.8 13L581.9 13L583.9 13L585.9 13L587.9 13L589.9 13L591.9 13L593.9 13L594.5 13L594.4 15L594.4 17L594.4 19L594.4 21.1L594.3 23.1L594.3 25.1L594.2 27.1L594.2 29.1L594.1 31.1L594 33.1L593.9 33.6L593.8 35.2L593.6 37.2L593.3 39.2L593.1 41.2L592.8 43.2L592.5 45.2L592.2 47.2L591.9 48.8L591.9 49.3L591.5 51.3L591 53.3L590.5 55.3L589.9 57.3L589.9 57.3L589.3 59.3L588.7 61.3L588 63.4L587.9 63.6L587.3 65.4L586.5 67.4L585.9 68.8L585.7 69.4L584.8 71.4L583.9 73.3L583.8 73.4L582.8 75.4L581.9 77.1L581.7 77.5L580.5 79.5L579.8 80.5L579.3 81.5L578 83.5L577.8 83.8L576.8 85.5L575.8 86.9L575.4 87.5L573.9 89.5L573.8 89.7L572.3 91.5L571.8 92.2L570.6 93.6L569.8 94.5L568.9 95.6L567.8 96.8L567.1 97.6L565.8 99.1L565.3 99.6L563.7 101.3L563.5 101.6L561.7 103.6L561.7 103.6L560.3 105.6L559.7 106.4L558.8 107.7L557.7 109.3L557.4 109.7L556 111.7L555.7 112.1L554.4 113.7L553.7 114.6L552.7 115.7L551.7 116.9L550.9 117.7L549.6 119L548.8 119.7L547.6 120.8L546.5 121.8L545.6 122.5L543.9 123.8L543.6 124L541.6 125.2L540.6 125.8L539.6 126.3L537.6 127.3L536.1 127.8L535.6 128L533.5 128.6L531.5 129.1L529.5 129.3L527.5 129.5L525.5 129.5L523.5 129.3L521.5 129L519.4 128.6L517.4 128L517 127.8L515.4 127.2L513.4 126.3L512.6 125.8L511.4 125.1L509.4 123.8L509.4 123.8L507.4 122.1L506.9 121.8L505.3 120.2L504.9 119.7L503.3 118L503.1 117.7L501.6 115.7L501.3 115.3L500.2 113.7L499.3 112.2L499 111.7L497.9 109.7L497.3 108.4L496.9 107.7L496 105.6L495.3 104.2L495 103.6L494.2 101.6L493.3 99.6L493.3 99.4L492.6 97.6L491.9 95.6L491.3 93.6L491.3 93.3L490.8 91.5L490.3 89.5L490 87.5L489.7 85.5L489.5 83.5L489.3 81.5L489.2 81.2L489 79.5L488.7 77.5L488.4 75.4L488.1 73.4L487.8 71.4L487.5 69.4L487.2 67.4L487.2 67.3L486.9 65.4L486.5 63.4L486.2 61.3L485.8 59.3L485.3 57.3L485.2 56.7L484.9 55.3L484.3 53.3L483.8 51.3L483.3 49.3L483.2 48.8L483.2 47.2L483.2 45.2L483.2 43.2L483.2 41.2L483.2 39.2L483.2 37.2L483.2 35.2L483.2 33.1L483.2 31.1L483.2 29.1L483.2 27.1L483.2 25.1L483.2 23.1L483.2 21.1L483.2 19L483.2 17L483.2 15L483.2 13Z" fill="#51f8b2" stroke="#51f8b2" stroke-width="0.3" fill-rule="evenodd"/>
<path d="M485.2 13L487.2 13L489.2 13L491.3 13L493.3 13L495.3 13L497.3 13L499.3 13L501.3 13L503.3 13L505.3 13L507.4 13L509.4 13L511.4 13L513.4 13L515.4 13L517.4 13L519.4 13L521.5 13L523.5 13L525.5 13L527.5 13L529.5 13L531.5 13L533.5 13L535.6 13L537.6 13L539.6 13L541.6 13L543.6 13L545.6 13L547.6 13L549.6 13L551.7 13L553.7 13L555.7 13L557.7 13L559.7 13L561.7 13L563.7 13L565.8 13L567.8 13L569.8 13L571.8 13L573.8 13L575.8 13L577.8 13L579.8 13L581.9 13L583.9 13L585.9 13L587.9 13L589.9 13L591.4 13L591.3 15L591.3 17L591.3 19L591.3 21.1L591.3 23.1L591.3 25.1L591.3 27.1L591.3 29.1L591.2 31.1L591.1 33.1L591 35.2L590.8 37.2L590.5 39.2L590.3 41.2L590.1 43.2L589.9 44.5L589.8 45.2L589.5 47.2L589.2 49.3L588.9 51.3L588.4 53.3L587.9 55.3L587.9 55.4L587.4 57.3L586.8 59.3L586.2 61.3L585.9 62.3L585.5 63.4L584.8 65.4L584.1 67.4L583.9 67.9L583.3 69.4L582.5 71.4L581.9 72.7L581.5 73.4L580.5 75.4L579.8 76.7L579.4 77.5L578.3 79.5L577.8 80.2L577.1 81.5L575.9 83.5L575.8 83.6L574.7 85.5L573.8 86.8L573.3 87.5L571.8 89.5L571.8 89.5L570.2 91.5L569.8 92.1L568.6 93.6L567.8 94.5L566.8 95.6L565.8 96.8L565 97.6L563.7 99L563.3 99.6L561.7 101.4L561.5 101.6L560 103.6L559.7 104.1L558.5 105.6L557.7 106.8L557 107.7L555.7 109.5L555.6 109.7L554 111.7L553.7 112.1L552.4 113.7L551.7 114.5L550.6 115.7L549.6 116.7L548.6 117.7L547.6 118.6L546.3 119.7L545.6 120.3L543.7 121.8L543.6 121.8L541.6 123.2L540.5 123.8L539.6 124.3L537.6 125.3L536.2 125.8L535.6 126L533.5 126.7L531.5 127.1L529.5 127.4L527.5 127.5L525.5 127.5L523.5 127.3L521.5 127L519.4 126.5L517.4 125.9L517.2 125.8L515.4 125.1L513.4 124L513 123.8L511.4 122.8L509.9 121.8L509.4 121.3L507.6 119.7L507.4 119.6L505.6 117.7L505.3 117.5L503.9 115.7L503.3 115L502.4 113.7L501.3 112.1L501 111.7L499.9 109.7L499.3 108.7L498.8 107.7L497.8 105.6L497.3 104.7L496.8 103.6L495.8 101.6L495.3 100.3L495 99.6L494.2 97.6L493.5 95.6L493.3 94.9L492.8 93.6L492.3 91.5L491.8 89.5L491.5 87.5L491.3 86.1L491.2 85.5L491 83.5L490.7 81.5L490.4 79.5L490.2 77.5L489.9 75.4L489.6 73.4L489.3 71.4L489.2 71.1L489 69.4L488.7 67.4L488.4 65.4L488 63.4L487.7 61.3L487.3 59.3L487.2 58.9L486.9 57.3L486.4 55.3L485.9 53.3L485.4 51.3L485.2 50.3L485 49.3L484.5 47.2L484 45.2L483.5 43.2L483.2 42L483.2 41.2L483.2 39.2L483.2 37.2L483.2 35.2L483.2 33.1L483.2 31.1L483.2 29.1L483.2 27.1L483.2 25.1L483.2 23.1L483.2 21.1L483.2 19L483.2 17L483.2 15L483.2 13Z" fill="#44f892" stroke="#44f892" stroke-width="0.3" fill-rule="evenodd"/>
<path d="M485.2 13L487.2 13L489.2 13L491.3 13L493.3 13L495.3 13L497.3 13L499.3 13L501.3 13L503.3 13L505.3 13L507.4 13L509.4 13L511.4 13L513.4 13L515.4 13L517.4 13L519.4 13L521.5 13L523.5 13L525.5 13L527.5 13L529.5 13L531.5 13L533.5 13L535.6 13L537.6 13L539.6 13L541.6 13L543.6 13L545.6 13L547.6 13L549.6 13L551.7 13L553.7 13L555.7 13L557.7 13L559.7 13L561.7 13L563.7 13L565.8 13L567.8 13L569.8 13L571.8 13L573.8 13L575.8 13L577.8 13L579.8 13L581.9 13L583.9 13L585.9 13L587.9 13L588.4 13L588.3 15L588.3 17L588.4 19L588.5 21.1L588.5 23.1L588.5 25.1L588.5 27.1L588.5 29.1L588.5 31.1L588.4 33.1L588.3 35.2L588.1 37.2L587.9 39.2L587.9 39.5L587.7 41.2L587.5 43.2L587.3 45.2L587 47.2L586.7 49.3L586.4 51.3L586 53.3L585.9 53.8L585.5 55.3L585 57.3L584.5 59.3L583.9 61.3L583.9 61.3L583.2 63.4L582.6 65.4L581.9 67.3L581.8 67.4L581.1 69.4L580.3 71.4L579.8 72.4L579.4 73.4L578.4 75.4L577.8 76.4L577.3 77.5L576.2 79.5L575.8 80.1L575 81.5L573.8 83.5L573.8 83.5L572.6 85.5L571.8 86.7L571.3 87.5L569.8 89.5L569.8 89.6L568.2 91.5L567.8 92.1L566.6 93.6L565.8 94.5L564.9 95.6L563.7 96.8L563.1 97.6L561.7 99.3L561.5 99.6L559.9 101.6L559.7 101.9L558.4 103.6L557.7 104.5L556.8 105.6L555.7 107.1L555.3 107.7L553.7 109.7L553.7 109.8L552.1 111.7L551.7 112.2L550.3 113.7L549.6 114.4L548.4 115.7L547.6 116.4L546.2 117.7L545.6 118.2L543.6 119.7L543.6 119.8L541.6 121.1L540.5 121.8L539.6 122.3L537.6 123.3L536.4 123.8L535.6 124.1L533.5 124.7L531.5 125.2L529.5 125.5L527.5 125.6L525.5 125.6L523.5 125.4L521.5 125L519.4 124.5L517.4 123.8L517.3 123.8L515.4 122.9L513.4 121.8L513.3 121.8L511.4 120.5L510.4 119.7L509.4 118.9L508.1 117.7L507.4 117L506.2 115.7L505.3 114.7L504.5 113.7L503.3 112.1L503.1 111.7L501.8 109.7L501.3 108.9L500.6 107.7L499.5 105.6L499.3 105.2L498.5 103.6L497.5 101.6L497.3 101.2L496.6 99.6L495.7 97.6L495.3 96.4L495 95.6L494.3 93.6L493.8 91.5L493.3 89.5L493.3 89.5L492.9 87.5L492.6 85.5L492.3 83.5L492.1 81.5L491.8 79.5L491.5 77.5L491.3 75.4L491.3 75.4L491 73.4L490.7 71.4L490.4 69.4L490.1 67.4L489.8 65.4L489.5 63.4L489.2 61.8L489.2 61.3L488.8 59.3L488.4 57.3L487.9 55.3L487.5 53.3L487.2 52.2L487 51.3L486.5 49.3L486.1 47.2L485.6 45.2L485.2 43.5L485.2 43.2L484.7 41.2L484.3 39.2L483.8 37.2L483.4 35.2L483.2 34.2L483.2 33.1L483.2 31.1L483.2 29.1L483.2 27.1L483.2 25.1L483.2 23.1L483.2 21.1L483.2 19L483.2 17L483.2 15L483.2 13Z" fill="#39f873" stroke="#39f873" stroke-width="0.3" fill-rule="evenodd"/>
<path d="M485.2 13L487.2 13L489.2 13L491.3 13L493.3 13L495.3 13L497.3 13L499.3 13L501.3 13L503.3 13L505.3 13L507.4 13L509.4 13L511.4 13L513.4 13L515.4 13L517.4 13L519.4 13L521.5 13L523.5 13L525.5 13L527.5 13L529.5 13L531.5 13L533.5 13L535.6 13L537.6 13L539.6 13L541.6 13L543.6 13L545.6 13L547.6 13L549.6 13L551.7 13L553.7 13L555.7 13L557.7 13L559.7 13L561.7 13L563.7 13L565.8 13L567.8 13L569.8 13L571.8 13L573.8 13L575.8 13L577.8 13L579.8 13L581.9 13L583.9 13L585.6 13L585.5 15L585.6 17L585.7 19L585.8 21.1L585.8 23.1L585.9 25.1L585.9 26.3L585.9 27.1L585.9 29.1L585.9 31.1L585.9 33.1L585.9 33.3L585.8 35.2L585.6 37.2L585.5 39.2L585.3 41.2L585.1 43.2L584.9 45.2L584.7 47.2L584.4 49.3L584.1 51.3L583.9 52.3L583.7 53.3L583.3 55.3L582.8 57.3L582.2 59.3L581.9 60.6L581.7 61.3L581.1 63.4L580.4 65.4L579.8 67L579.7 67.4L579 69.4L578.2 71.4L577.8 72.2L577.3 73.4L576.3 75.4L575.8 76.4L575.3 77.5L574.2 79.5L573.8 80.1L573 81.5L571.9 83.5L571.8 83.6L570.7 85.5L569.8 86.9L569.4 87.5L567.9 89.5L567.8 89.7L566.3 91.5L565.8 92.3L564.7 93.6L563.7 94.7L563 95.6L561.7 97.2L561.4 97.6L559.9 99.6L559.7 99.9L558.3 101.6L557.7 102.4L556.7 103.6L555.7 104.9L555.1 105.6L553.7 107.4L553.5 107.7L551.9 109.7L551.7 109.9L550.1 111.7L549.6 112.2L548.2 113.7L547.6 114.3L546 115.7L545.6 116.1L543.6 117.7L543.6 117.7L541.6 119.1L540.6 119.7L539.6 120.3L537.6 121.4L536.6 121.8L535.6 122.2L533.5 122.9L531.5 123.3L529.5 123.6L527.5 123.7L525.5 123.7L523.5 123.5L521.5 123.1L519.4 122.5L517.5 121.8L517.4 121.7L515.4 120.8L513.6 119.7L513.4 119.6L511.4 118.2L510.9 117.7L509.4 116.4L508.6 115.7L507.4 114.4L506.8 113.7L505.3 112L505.2 111.7L503.7 109.7L503.3 109L502.5 107.7L501.3 105.7L501.3 105.6L500.2 103.6L499.3 102L499.1 101.6L498.1 99.6L497.3 97.6L497.3 97.6L496.5 95.6L495.8 93.6L495.3 91.9L495.2 91.5L494.7 89.5L494.3 87.5L493.9 85.5L493.7 83.5L493.5 81.5L493.3 80L493.2 79.5L492.9 77.5L492.6 75.4L492.3 73.4L492 71.4L491.8 69.4L491.5 67.4L491.3 65.6L491.2 65.4L490.9 63.4L490.6 61.3L490.2 59.3L489.8 57.3L489.4 55.3L489.2 54.6L488.9 53.3L488.5 51.3L488.1 49.3L487.6 47.2L487.2 45.4L487.2 45.2L486.8 43.2L486.3 41.2L485.9 39.2L485.5 37.2L485.2 35.6L485.1 35.2L484.7 33.1L484.3 31.1L484 29.1L483.6 27.1L483.2 25.1L483.2 25L483.2 23.1L483.2 21.1L483.2 19L483.2 17L483.2 15L483.2 13Z" fill="#2df853" stroke="#2df853" stroke-width="0.3" fill-rule="evenodd"/>
<path d="M485.2 13L487.2 13L489.2 13L491.3 13L493.3 13L495.3 13L497.3 13L499.3 13L501.3 13L503.3 13L505.3 13L507.4 13L509.4 13L511.4 13L513.4 13L515.4 13L517.4 13L519.4 13L521.5 13L523.5 13L525.5 13L527.5 13L529.5 13L531.5 13L533.5 13L535.6 13L537.6 13L539.6 13L541.6 13L543.6 13L545.6 13L547.6 13L549.6 13L551.7 13L553.7 13L555.7 13L557.7 13L559.7 13L561.7 13L563.7 13L565.8 13L567.8 13L569.8 13L571.8 13L573.8 13L575.8 13L577.8 13L579.8 13L581.9 13L582.9 13L582.9 15L583 17L583.1 19L583.2 21.1L583.3 23.1L583.4 25.1L583.4 27.1L583.5 29.1L583.5 31.1L583.5 33.1L583.4 35.2L583.3 37.2L583.1 39.2L583 41.2L582.8 43.2L582.6 45.2L582.4 47.2L582.2 49.3L581.9 51.3L581.9 51.3L581.5 53.3L581.1 55.3L580.6 57.3L580.1 59.3L579.8 60.3L579.6 61.3L579 63.4L578.4 65.4L577.8 66.9L577.7 67.4L577 69.4L576.2 71.4L575.8 72.3L575.4 73.4L574.4 75.4L573.8 76.6L573.4 77.5L572.3 79.5L571.8 80.3L571.2 81.5L570 83.5L569.8 83.9L568.8 85.5L567.8 87.1L567.5 87.5L566.1 89.5L565.8 89.9L564.5 91.5L563.7 92.5L563 93.6L561.7 95.2L561.4 95.6L559.9 97.6L559.7 97.9L558.4 99.6L557.7 100.4L556.7 101.6L555.7 102.9L555.1 103.6L553.7 105.3L553.4 105.6L551.7 107.7L551.7 107.7L549.9 109.7L549.6 110L548.1 111.7L547.6 112.1L546 113.7L545.6 114L543.6 115.7L543.6 115.7L541.6 117.1L540.7 117.7L539.6 118.4L537.6 119.4L536.9 119.7L535.6 120.3L533.5 121L531.5 121.4L529.5 121.7L529.1 121.8L527.5 121.8L525.5 121.8L525.4 121.8L523.5 121.5L521.5 121.1L519.4 120.5L517.6 119.7L517.4 119.7L515.4 118.7L513.9 117.7L513.4 117.4L511.4 115.8L511.2 115.7L509.4 114L509.1 113.7L507.4 111.8L507.3 111.7L505.7 109.7L505.3 109.1L504.4 107.7L503.3 106.1L503.1 105.6L501.9 103.6L501.3 102.7L500.7 101.6L499.7 99.6L499.3 98.8L498.8 97.6L497.9 95.6L497.3 93.8L497.2 93.6L496.6 91.5L496.1 89.5L495.6 87.5L495.3 85.5L495.3 85.4L495.1 83.5L494.8 81.5L494.5 79.5L494.2 77.5L493.9 75.4L493.6 73.4L493.4 71.4L493.3 70.6L493.1 69.4L492.9 67.4L492.6 65.4L492.3 63.4L492 61.3L491.6 59.3L491.3 57.4L491.2 57.3L490.8 55.3L490.4 53.3L490 51.3L489.6 49.3L489.2 47.7L489.1 47.2L488.7 45.2L488.3 43.2L487.9 41.2L487.6 39.2L487.2 37.4L487.2 37.2L486.8 35.2L486.5 33.1L486.1 31.1L485.8 29.1L485.4 27.1L485.2 25.8L485.1 25.1L484.8 23.1L484.4 21.1L484.1 19L483.9 17L483.6 15L483.3 13Z" fill="#2bfb39" stroke="#2bfb39" stroke-width="0.3" fill-rule="evenodd"/>
<path d="M487.2 13L489.2 13L491.3 13L493.3 13L495.3 13L497.3 13L499.3 13L501.3 13L503.3 13L505.3 13L507.4 13L509.4 13L511.4 13L513.4 13L515.4 13L517.4 13L519.4 13L521.5 13L523.5 13L525.5 13L527.5 13L529.5 13L531.5 13L533.5 13L535.6 13L537.6 13L539.6 13L541.6 13L543.6 13L545.6 13L547.6 13L549.6 13L551.7 13L553.7 13L555.7 13L557.7 13L559.7 13L561.7 13L563.7 13L565.8 13L567.8 13L569.8 13L571.8 13L573.8 13L575.8 13L577.8 13L579.8 13L580.3 13L580.3 15L580.4 17L580.6 19L580.8 21.1L580.9 23.1L580.9 25.1L581 27.1L581.1 29.1L581.2 31.1L581.2 33.1L581.1 35.2L581 37.2L580.9 39.2L580.8 41.2L580.6 43.2L580.5 45.2L580.3 47.2L580 49.3L579.8 50.6L579.8 51.3L579.4 53.3L579 55.3L578.6 57.3L578.1 59.3L577.8 60.3L577.6 61.3L577 63.4L576.4 65.4L575.8 67.1L575.7 67.4L575.1 69.4L574.3 71.4L573.8 72.6L573.5 73.4L572.5 75.4L571.8 76.9L571.5 77.5L570.5 79.5L569.8 80.7L569.3 81.5L568.2 83.5L567.8 84.3L567 85.5L565.8 87.5L565.7 87.5L564.3 89.5L563.7 90.3L562.9 91.5L561.7 93.2L561.5 93.6L560 95.6L559.7 95.9L558.4 97.6L557.7 98.5L556.8 99.6L555.7 101L555.1 101.6L553.7 103.3L553.4 103.6L551.7 105.6L551.6 105.6L549.8 107.7L549.6 107.9L548 109.7L547.6 110L545.9 111.7L545.6 112L543.6 113.7L543.6 113.7L541.6 115.2L540.8 115.7L539.6 116.5L537.6 117.5L537.1 117.7L535.6 118.4L533.5 119.1L531.5 119.6L530.4 119.7L529.5 119.9L527.5 120L525.5 119.9L524.4 119.7L523.5 119.6L521.5 119.2L519.4 118.5L517.7 117.7L517.4 117.6L515.4 116.5L514.2 115.7L513.4 115.2L511.6 113.7L511.4 113.5L509.5 111.7L509.4 111.5L507.8 109.7L507.4 109.1L506.3 107.7L505.3 106.3L504.9 105.6L503.6 103.6L503.3 103.3L502.4 101.6L501.3 99.7L501.3 99.6L500.3 97.6L499.4 95.6L499.3 95.3L498.6 93.6L498 91.5L497.4 89.5L497.3 89L497 87.5L496.6 85.5L496.4 83.5L496.1 81.5L495.8 79.5L495.5 77.5L495.3 75.9L495.2 75.4L494.9 73.4L494.7 71.4L494.4 69.4L494.2 67.4L493.9 65.4L493.6 63.4L493.3 61.3L493.3 61.1L493 59.3L492.6 57.3L492.2 55.3L491.8 53.3L491.4 51.3L491.3 50.5L491 49.3L490.6 47.2L490.2 45.2L489.9 43.2L489.5 41.2L489.2 39.6L489.2 39.2L488.8 37.2L488.5 35.2L488.1 33.1L487.8 31.1L487.5 29.1L487.2 27.1L487.2 27.1L486.9 25.1L486.6 23.1L486.3 21.1L486.1 19L485.9 17L485.7 15L485.4 13Z" fill="#2afe21" stroke="#2afe21" stroke-width="0.3" fill-rule="evenodd"/>
<path d="M489.2 13L491.3 13L493.3 13L495.3 13L497.3 13L499.3 13L501.3 13L503.3 13L505.3 13L507.4 13L509.4 13L511.4 13L513.4 13L515.4 13L517.4 13L519.4 13L521.5 13L523.5 13L525.5 13L527.5 13L529.5 13L531.5 13L533.5 13L535.6 13L537.6 13L539.6 13L541.6 13L543.6 13L545.6 13L547.6 13L549.6 13L551.7 13L553.7 13L555.7 13L557.7 13L559.7 13L561.7 13L563.7 13L565.8 13L567.8 13L569.8 13L571.8 13L573.8 13L575.8 13L577.8 13L577.8 13.1L577.9 15L578 17L578.2 19L578.4 21.1L578.5 23.1L578.6 25.1L578.8 27.1L578.9 29.1L578.9 31.1L579 33.1L578.9 35.2L578.9 37.2L578.7 39.2L578.6 41.2L578.5 43.2L578.4 45.2L578.2 47.2L578 49.3L577.8 50.5L577.7 51.3L577.4 53.3L577.1 55.3L576.6 57.3L576.1 59.3L575.8 60.6L575.6 61.3L575.1 63.4L574.5 65.4L573.9 67.4L573.8 67.6L573.2 69.4L572.5 71.4L571.8 73.1L571.7 73.4L570.8 75.4L569.8 77.4L569.8 77.5L568.7 79.5L567.8 81.2L567.6 81.5L566.5 83.5L565.8 84.8L565.3 85.5L564 87.5L563.7 87.9L562.8 89.5L561.7 91.1L561.5 91.5L560 93.6L559.7 94L558.5 95.6L557.7 96.7L556.9 97.6L555.7 99.1L555.3 99.6L553.7 101.5L553.5 101.6L551.7 103.6L551.7 103.7L549.8 105.6L549.6 105.9L547.9 107.7L547.6 108L545.9 109.7L545.6 109.9L543.6 111.7L543.6 111.7L541.6 113.2L540.9 113.7L539.6 114.6L537.6 115.7L537.4 115.7L535.6 116.6L533.5 117.2L531.5 117.7L531.5 117.7L529.5 118L527.5 118.1L525.5 118L523.7 117.7L523.5 117.7L521.5 117.2L519.4 116.5L517.7 115.7L517.4 115.6L515.4 114.4L514.5 113.7L513.4 112.9L512 111.7L511.4 111.1L510 109.7L509.4 109L508.3 107.7L507.4 106.5L506.7 105.6L505.3 103.7L505.3 103.6L504 101.6L503.3 100.5L502.8 99.6L501.8 97.6L501.3 96.6L500.8 95.6L500 93.6L499.3 91.5L499.3 91.5L498.7 89.5L498.3 87.5L497.9 85.5L497.6 83.5L497.4 81.5L497.3 81L497.1 79.5L496.8 77.5L496.5 75.4L496.2 73.4L495.9 71.4L495.7 69.4L495.5 67.4L495.3 65.9L495.2 65.4L494.9 63.4L494.6 61.3L494.3 59.3L494 57.3L493.6 55.3L493.3 53.6L493.2 53.3L492.8 51.3L492.4 49.3L492.1 47.2L491.7 45.2L491.4 43.2L491.3 42.4L491.1 41.2L490.7 39.2L490.4 37.2L490.1 35.2L489.8 33.1L489.5 31.1L489.3 29.1L489.2 28.9L489 27.1L488.7 25.1L488.5 23.1L488.2 21.1L488 19L487.9 17L487.7 15L487.4 13Z" fill="#35ff14" stroke="#35ff14" stroke-width="0.3" fill-rule="evenodd"/>
<path d="M491.3 13L493.3 13L495.3 13L497.3 13L499.3 13L501.3 13L503.3 13L505.3 13L507.4 13L509.4 13L511.4 13L513.4 13L515.4 13L517.4 13L519.4 13L521.5 13L523.5 13L525.5 13L527.5 13L529.5 13L531.5 13L533.5 13L535.6 13L537.6 13L539.6 13L541.6 13L543.6 13L545.6 13L547.6 13L549.6 13L551.7 13L553.7 13L555.7 13L557.7 13L559.7 13L561.7 13L563.7 13L565.8 13L567.8 13L569.8 13L571.8 13L573.8 13L575.4 13L575.5 15L575.7 17L575.8 18.2L575.9 19L576.1 21.1L576.3 23.1L576.4 25.1L576.6 27.1L576.7 29.1L576.8 31.1L576.8 33.1L576.8 35.2L576.8 37.2L576.7 39.2L576.6 41.2L576.5 43.2L576.4 45.2L576.2 47.2L576 49.3L575.8 51.1L575.8 51.3L575.5 53.3L575.2 55.3L574.7 57.3L574.3 59.3L573.8 61.3L573.8 61.3L573.3 63.4L572.7 65.4L572.1 67.4L571.8 68.2L571.4 69.4L570.7 71.4L569.9 73.4L569.8 73.8L569 75.4L568 77.5L567.8 78L567 79.5L565.9 81.5L565.8 81.8L564.9 83.5L563.7 85.5L563.7 85.5L562.6 87.5L561.7 89L561.4 89.5L560.1 91.5L559.7 92.1L558.6 93.6L557.7 94.8L557.1 95.6L555.7 97.3L555.5 97.6L553.7 99.6L553.7 99.7L551.9 101.6L551.7 101.9L550 103.6L549.6 104L548 105.6L547.6 106L545.9 107.7L545.6 107.9L543.7 109.7L543.6 109.7L541.6 111.3L541 111.7L539.6 112.6L537.7 113.7L537.6 113.8L535.6 114.7L533.5 115.4L532.2 115.7L531.5 115.9L529.5 116.2L527.5 116.2L525.5 116.1L523.5 115.8L523.2 115.7L521.5 115.3L519.4 114.5L517.8 113.7L517.4 113.5L515.4 112.2L514.7 111.7L513.4 110.7L512.3 109.7L511.4 108.8L510.4 107.7L509.4 106.5L508.7 105.6L507.4 104L507.1 103.6L505.7 101.6L505.3 101.1L504.4 99.6L503.3 97.7L503.3 97.6L502.3 95.6L501.4 93.6L501.3 93.3L500.7 91.5L500.1 89.5L499.6 87.5L499.3 86.1L499.2 85.5L498.9 83.5L498.6 81.5L498.3 79.5L498 77.5L497.7 75.4L497.4 73.4L497.3 72.2L497.2 71.4L497 69.4L496.7 67.4L496.5 65.4L496.2 63.4L495.9 61.3L495.6 59.3L495.3 57.3L495.3 57.3L494.9 55.3L494.6 53.3L494.2 51.3L493.9 49.3L493.5 47.2L493.3 45.7L493.2 45.2L492.9 43.2L492.6 41.2L492.3 39.2L492 37.2L491.7 35.2L491.5 33.1L491.3 31.5L491.2 31.1L491 29.1L490.8 27.1L490.5 25.1L490.3 23.1L490.1 21.1L490 19L489.8 17L489.7 15L489.5 13Z" fill="#4aff13" stroke="#4aff13" stroke-width="0.3" fill-rule="evenodd"/>
<path d="M493.3 13L495.3 13L497.3 13L499.3 13L501.3 13L503.3 13L505.3 13L507.4 13L509.4 13L511.4 13L513.4 13L515.4 13L517.4 13L519.4 13L521.5 13L523.5 13L525.5 13L527.5 13L529.5 13L531.5 13L533.5 13L535.6 13L537.6 13L539.6 13L541.6 13L543.6 13L545.6 13L547.6 13L549.6 13L551.7 13L553.7 13L555.7 13L557.7 13L559.7 13L561.7 13L563.7 13L565.8 13L567.8 13L569.8 13L571.8 13L573.1 13L573.2 15L573.4 17L573.7 19L573.8 20.2L573.9 21.1L574.1 23.1L574.3 25.1L574.4 27.1L574.6 29.1L574.7 31.1L574.8 33.1L574.8 35.2L574.7 37.2L574.7 39.2L574.6 41.2L574.5 43.2L574.4 45.2L574.3 47.2L574.1 49.3L573.9 51.3L573.8 52.1L573.6 53.3L573.3 55.3L572.9 57.3L572.5 59.3L572 61.3L571.8 62.1L571.5 63.4L570.9 65.4L570.3 67.4L569.8 69.1L569.7 69.4L569 71.4L568.2 73.4L567.8 74.5L567.4 75.4L566.4 77.5L565.8 78.7L565.4 79.5L564.4 81.5L563.7 82.7L563.4 83.5L562.4 85.5L561.7 86.7L561.3 87.5L560.1 89.5L559.7 90.1L558.7 91.5L557.7 92.9L557.2 93.6L555.7 95.5L555.6 95.6L553.9 97.6L553.7 97.9L552.1 99.6L551.7 100.1L550.2 101.6L549.6 102.2L548.2 103.6L547.6 104.2L546 105.6L545.6 106L543.7 107.7L543.6 107.8L541.6 109.4L541.1 109.7L539.6 110.7L537.9 111.7L537.6 111.9L535.6 112.8L533.5 113.5L532.9 113.7L531.5 114L529.5 114.3L527.5 114.4L525.5 114.2L523.5 113.9L522.8 113.7L521.5 113.3L519.4 112.5L517.9 111.7L517.4 111.4L515.4 110.1L514.9 109.7L513.4 108.4L512.6 107.7L511.4 106.4L510.7 105.6L509.4 104.2L508.9 103.6L507.4 101.6L507.4 101.6L506 99.6L505.3 98.5L504.8 97.6L503.7 95.6L503.3 94.7L502.8 93.6L502.1 91.5L501.4 89.5L501.3 89.2L500.9 87.5L500.5 85.5L500.2 83.5L499.9 81.5L499.6 79.5L499.3 77.8L499.3 77.5L499 75.4L498.7 73.4L498.4 71.4L498.2 69.4L498 67.4L497.8 65.4L497.5 63.4L497.3 61.9L497.2 61.3L496.9 59.3L496.6 57.3L496.2 55.3L495.9 53.3L495.6 51.3L495.3 49.5L495.2 49.3L494.9 47.2L494.6 45.2L494.3 43.2L494.1 41.2L493.8 39.2L493.6 37.2L493.3 35.2L493.3 34.8L493.1 33.1L492.9 31.1L492.7 29.1L492.5 27.1L492.3 25.1L492.1 23.1L492 21.1L491.9 19L491.8 17L491.7 15L491.5 13Z" fill="#5fff12" stroke="#5fff12" stroke-width="0.3" fill-rule="evenodd"/>
<path d="M495.3 13L497.3 13L499.3 13L501.3 13L503.3 13L505.3 13L507.4 13L509.4 13L511.4 13L513.4 13L515.4 13L517.4 13L519.4 13L521.5 13L523.5 13L525.5 13L527.5 13L529.5 13L531.5 13L533.5 13L535.6 13L537.6 13L539.6 13L541.6 13L543.6 13L545.6 13L547.6 13L549.6 13L551.7 13L553.7 13L555.7 13L557.7 13L559.7 13L561.7 13L563.7 13L565.8 13L567.8 13L569.8 13L570.9 13L571 15L571.2 17L571.5 19L571.8 21.1L571.8 21.4L572 23.1L572.2 25.1L572.4 27.1L572.5 29.1L572.7 31.1L572.8 33.1L572.8 35.2L572.8 37.2L572.7 39.2L572.7 41.2L572.6 43.2L572.6 45.2L572.5 47.2L572.3 49.3L572.1 51.3L571.8 53.3L571.8 53.6L571.5 55.3L571.1 57.3L570.7 59.3L570.3 61.3L569.8 63.3L569.8 63.4L569.2 65.4L568.7 67.4L568 69.4L567.8 70.2L567.4 71.4L566.6 73.4L565.8 75.4L565.7 75.4L564.9 77.5L564 79.5L563.7 79.9L563 81.5L562.1 83.5L561.7 84.2L561.1 85.5L560 87.5L559.7 87.9L558.7 89.5L557.7 91L557.3 91.5L555.8 93.6L555.7 93.7L554.2 95.6L553.7 96.2L552.4 97.6L551.7 98.4L550.5 99.6L549.6 100.5L548.5 101.6L547.6 102.4L546.3 103.6L545.6 104.3L543.9 105.6L543.6 105.9L541.6 107.5L541.3 107.7L539.6 108.9L538.2 109.7L537.6 110L535.6 111L533.6 111.7L533.5 111.7L531.5 112.2L529.5 112.5L527.5 112.5L525.5 112.4L523.5 112L522.6 111.7L521.5 111.3L519.4 110.5L518 109.7L517.4 109.3L515.4 107.9L515.1 107.7L513.4 106.2L512.8 105.6L511.4 104.2L510.9 103.6L509.4 101.9L509.1 101.6L507.7 99.6L507.4 99.2L506.4 97.6L505.3 95.8L505.2 95.6L504.2 93.6L503.4 91.5L503.3 91.3L502.7 89.5L502.2 87.5L501.7 85.5L501.4 83.5L501.3 82.8L501.1 81.5L500.8 79.5L500.5 77.5L500.2 75.4L499.9 73.4L499.7 71.4L499.5 69.4L499.3 68L499.2 67.4L499 65.4L498.8 63.4L498.5 61.3L498.2 59.3L497.9 57.3L497.6 55.3L497.3 53.6L497.2 53.3L496.9 51.3L496.6 49.3L496.3 47.2L496.1 45.2L495.8 43.2L495.6 41.2L495.3 39.2L495.3 38.7L495.1 37.2L494.9 35.2L494.7 33.1L494.5 31.1L494.4 29.1L494.2 27.1L494.1 25.1L494 23.1L493.8 21.1L493.8 19L493.7 17L493.7 15L493.5 13Z" fill="#76ff13" stroke="#76ff13" stroke-width="0.3" fill-rule="evenodd"/>
<path d="M497.3 13L499.3 13L501.3 13L503.3 13L505.3 13L507.4 13L509.4 13L511.4 13L513.4 13L515.4 13L517.4 13L519.4 13L521.5 13L523.5 13L525.5 13L527.5 13L529.5 13L531.5 13L533.5 13L535.6 13L537.6 13L539.6 13L541.6 13L543.6 13L545.6 13L547.6 13L549.6 13L551.7 13L553.7 13L555.7 13L557.7 13L559.7 13L561.7 13L563.7 13L565.8 13L567.8 13L568.7 13L568.9 15L569.1 17L569.4 19L569.7 21.1L569.8 22.1L569.9 23.1L570.1 25.1L570.3 27.1L570.5 29.1L570.7 31.1L570.8 33.1L570.9 35.2L570.9 37.2L570.9 39.2L570.8 41.2L570.8 43.2L570.7 45.2L570.6 47.2L570.5 49.3L570.3 51.3L570.1 53.3L569.8 55.3L569.8 55.3L569.4 57.3L569 59.3L568.6 61.3L568.1 63.4L567.8 64.6L567.6 65.4L567 67.4L566.4 69.4L565.8 71.4L565.8 71.4L565.1 73.4L564.4 75.4L563.7 76.9L563.5 77.5L562.6 79.5L561.7 81.5L561.7 81.5L560.8 83.5L559.8 85.5L559.7 85.6L558.6 87.5L557.7 89L557.3 89.5L555.9 91.5L555.7 91.9L554.4 93.6L553.7 94.4L552.7 95.6L551.7 96.7L550.8 97.6L549.6 98.8L548.8 99.6L547.6 100.8L546.7 101.6L545.6 102.5L544.3 103.6L543.6 104.2L541.6 105.6L541.6 105.7L539.6 107L538.4 107.7L537.6 108.2L535.6 109.1L534.1 109.7L533.5 109.9L531.5 110.4L529.5 110.6L527.5 110.7L525.5 110.5L523.5 110L522.3 109.7L521.5 109.4L519.4 108.5L518.1 107.7L517.4 107.3L515.4 105.8L515.2 105.6L513.4 104.1L512.9 103.6L511.4 102.1L511 101.6L509.4 99.6L509.3 99.6L507.9 97.6L507.4 96.7L506.7 95.6L505.7 93.6L505.3 92.9L504.8 91.5L504.1 89.5L503.5 87.5L503.3 86.9L503 85.5L502.7 83.5L502.4 81.5L502 79.5L501.7 77.5L501.4 75.4L501.3 74.9L501.1 73.4L500.9 71.4L500.7 69.4L500.5 67.4L500.3 65.4L500 63.4L499.8 61.3L499.5 59.3L499.3 58.1L499.2 57.3L498.9 55.3L498.6 53.3L498.3 51.3L498 49.3L497.7 47.2L497.5 45.2L497.3 43.5L497.3 43.2L497 41.2L496.8 39.2L496.6 37.2L496.5 35.2L496.3 33.1L496.2 31.1L496.1 29.1L496 27.1L495.9 25.1L495.8 23.1L495.7 21.1L495.7 19L495.7 17L495.7 15L495.6 13Z" fill="#8fff16" stroke="#8fff16" stroke-width="0.3" fill-rule="evenodd"/>
<path d="M499.3 13L501.3 13L503.3 13L505.3 13L507.4 13L509.4 13L511.4 13L513.4 13L515.4 13L517.4 13L519.4 13L521.5 13L523.5 13L525.5 13L527.5 13L529.5 13L531.5 13L533.5 13L535.6 13L537.6 13L539.6 13L541.6 13L543.6 13L545.6 13L547.6 13L549.6 13L551.7 13L553.7 13L555.7 13L557.7 13L559.7 13L561.7 13L563.7 13L565.8 13L566.8 13L566.9 15L567.2 17L567.4 19L567.7 21.1L567.8 21.8L567.9 23.1L568.1 25.1L568.4 27.1L568.6 29.1L568.8 31.1L568.9 33.1L569 35.2L569 37.2L569 39.2L569 41.2L569 43.2L569 45.2L568.9 47.2L568.8 49.3L568.6 51.3L568.4 53.3L568.1 55.3L567.8 57.1L567.7 57.3L567.4 59.3L567 61.3L566.5 63.4L566 65.4L565.8 66.3L565.5 67.4L565 69.4L564.5 71.4L563.8 73.4L563.7 73.6L563.1 75.4L562.2 77.5L561.7 78.6L561.4 79.5L560.4 81.5L559.7 83L559.5 83.5L558.4 85.5L557.7 86.8L557.3 87.5L556 89.5L555.7 89.9L554.5 91.5L553.7 92.6L552.9 93.6L551.7 95L551.1 95.6L549.6 97.1L549.2 97.6L547.6 99.1L547.1 99.6L545.6 100.9L544.7 101.6L543.6 102.5L542 103.6L541.6 104L539.6 105.3L538.9 105.6L537.6 106.4L535.6 107.3L534.5 107.7L533.5 108L531.5 108.5L529.5 108.8L527.5 108.8L525.5 108.6L523.5 108.1L522.1 107.7L521.5 107.4L519.4 106.5L518 105.6L517.4 105.3L515.4 103.8L515.2 103.6L513.4 102L513 101.6L511.4 99.9L511.1 99.6L509.6 97.6L509.4 97.3L508.3 95.6L507.4 94L507.1 93.6L506.2 91.5L505.4 89.5L505.3 89.4L504.8 87.5L504.3 85.5L503.9 83.5L503.6 81.5L503.3 79.9L503.3 79.5L502.9 77.5L502.6 75.4L502.3 73.4L502.1 71.4L501.9 69.4L501.7 67.4L501.5 65.4L501.3 63.9L501.3 63.4L501 61.3L500.8 59.3L500.5 57.3L500.2 55.3L499.9 53.3L499.6 51.3L499.4 49.3L499.3 48.8L499.1 47.2L498.9 45.2L498.7 43.2L498.5 41.2L498.4 39.2L498.2 37.2L498 35.2L497.9 33.1L497.8 31.1L497.7 29.1L497.7 27.1L497.6 25.1L497.6 23.1L497.6 21.1L497.6 19L497.7 17L497.7 15L497.7 13Z" fill="#a9ff19" stroke="#a9ff19" stroke-width="0.3" fill-rule="evenodd"/>
<path d="M501.3 13L503.3 13L505.3 13L507.4 13L509.4 13L511.4 13L513.4 13L515.4 13L517.4 13L519.4 13L521.5 13L523.5 13L525.5 13L527.5 13L529.5 13L531.5 13L533.5 13L535.6 13L537.6 13L539.6 13L541.6 13L543.6 13L545.6 13L547.6 13L549.6 13L551.7 13L553.7 13L555.7 13L557.7 13L559.7 13L561.7 13L563.7 13L565 13L565.2 15L565.5 17L565.7 19L565.8 19.1L566 21.1L566.3 23.1L566.5 25.1L566.7 27.1L566.9 29.1L567 31.1L567.2 33.1L567.3 35.2L567.3 37.2L567.3 39.2L567.3 41.2L567.3 43.2L567.3 45.2L567.2 47.2L567.2 49.3L567 51.3L566.8 53.3L566.6 55.3L566.2 57.3L565.9 59.3L565.8 60L565.5 61.3L565.1 63.4L564.7 65.4L564.2 67.4L563.7 69.3L563.7 69.4L563.2 71.4L562.5 73.4L561.8 75.4L561.7 75.6L561 77.5L560.1 79.5L559.7 80.2L559.1 81.5L558.1 83.5L557.7 84.4L557.1 85.5L555.9 87.5L555.7 87.9L554.6 89.5L553.7 90.8L553.1 91.5L551.7 93.3L551.4 93.6L549.6 95.5L549.5 95.6L547.6 97.5L547.5 97.6L545.6 99.3L545.2 99.6L543.6 100.9L542.6 101.6L541.6 102.3L539.6 103.6L539.5 103.6L537.6 104.7L535.6 105.6L535.3 105.6L533.5 106.3L531.5 106.7L529.5 107L527.5 107L525.5 106.7L523.5 106.3L521.7 105.6L521.5 105.6L519.4 104.6L517.9 103.6L517.4 103.4L515.4 101.9L515.2 101.6L513.4 100L513 99.6L511.4 97.7L511.3 97.6L509.8 95.6L509.4 94.9L508.6 93.6L507.6 91.5L507.4 91L506.8 89.5L506.1 87.5L505.6 85.5L505.3 84.3L505.2 83.5L504.9 81.5L504.5 79.5L504.1 77.5L503.8 75.4L503.5 73.4L503.3 71.6L503.3 71.4L503.1 69.4L502.9 67.4L502.7 65.4L502.5 63.4L502.3 61.3L502 59.3L501.8 57.3L501.5 55.3L501.3 54.2L501.2 53.3L500.9 51.3L500.7 49.3L500.5 47.2L500.3 45.2L500.2 43.2L500 41.2L499.9 39.2L499.7 37.2L499.6 35.2L499.5 33.1L499.5 31.1L499.4 29.1L499.4 27.1L499.4 25.1L499.4 23.1L499.5 21.1L499.6 19L499.7 17L499.8 15L499.8 13Z" fill="#c2ff1d" stroke="#c2ff1d" stroke-width="0.3" fill-rule="evenodd"/>
<path d="M503.3 13L505.3 13L507.4 13L509.4 13L511.4 13L513.4 13L515.4 13L517.4 13L519.4 13L521.5 13L523.5 13L525.5 13L527.5 13L529.5 13L531.5 13L533.5 13L535.6 13L537.6 13L539.6 13L541.6 13L543.6 13L545.6 13L547.6 13L549.6 13L551.7 13L553.7 13L555.7 13L557.7 13L559.7 13L561.7 13L563.2 13L563.4 15L563.7 17L563.7 17.3L564 19L564.3 21.1L564.6 23.1L564.9 25.1L565.1 27.1L565.3 29.1L565.5 31.1L565.7 33.1L565.8 34.9L565.8 35.2L565.8 37.2L565.8 39.2L565.8 41.2L565.8 43.2L565.8 45.2L565.8 47.2L565.8 47.8L565.7 49.3L565.6 51.3L565.4 53.3L565.2 55.3L564.9 57.3L564.6 59.3L564.2 61.3L563.8 63.4L563.7 63.8L563.4 65.4L562.9 67.4L562.4 69.4L561.9 71.4L561.7 72L561.3 73.4L560.5 75.4L559.7 77.4L559.7 77.5L558.8 79.5L557.8 81.5L557.7 81.7L556.8 83.5L555.8 85.5L555.7 85.6L554.5 87.5L553.7 88.8L553.2 89.5L551.7 91.5L551.6 91.5L549.8 93.6L549.6 93.8L547.9 95.6L547.6 95.8L545.7 97.6L545.6 97.7L543.6 99.3L543.2 99.6L541.6 100.7L540.2 101.6L539.6 102L537.6 103.1L536.2 103.6L535.6 103.9L533.5 104.6L531.5 105L529.5 105.2L527.5 105.2L525.5 105L523.5 104.5L521.5 103.8L521.2 103.6L519.4 102.8L517.6 101.6L517.4 101.5L515.4 99.9L515.1 99.6L513.4 97.9L513.1 97.6L511.5 95.6L511.4 95.5L510.2 93.6L509.4 92.2L509 91.5L508.1 89.5L507.4 87.5L507.4 87.3L506.9 85.5L506.5 83.5L506.1 81.5L505.7 79.5L505.4 77.5L505.3 77.3L505 75.4L504.8 73.4L504.5 71.4L504.4 69.4L504.2 67.4L504 65.4L503.8 63.4L503.5 61.3L503.3 59.7L503.3 59.3L503 57.3L502.8 55.3L502.5 53.3L502.3 51.3L502.1 49.3L501.9 47.2L501.7 45.2L501.6 43.2L501.5 41.2L501.4 39.2L501.3 37.9L501.3 37.2L501.2 35.2L501.2 33.1L501.1 31.1L501.2 29.1L501.2 27.1L501.3 25.1L501.3 23.1L501.3 22.8L501.4 21.1L501.5 19L501.7 17L501.9 15L501.9 13Z" fill="#d5fe23" stroke="#d5fe23" stroke-width="0.3" fill-rule="evenodd"/>
<path d="M505.3 13L507.4 13L509.4 13L511.4 13L513.4 13L515.4 13L517.4 13L519.4 13L521.5 13L523.5 13L525.5 13L527.5 13L529.5 13L531.5 13L533.5 13L535.6 13L537.6 13L539.6 13L541.6 13L543.6 13L545.6 13L547.6 13L549.6 13L551.7 13L553.7 13L555.7 13L557.7 13L559.7 13L561.3 13L561.6 15L561.7 16L561.9 17L562.3 19L562.6 21.1L562.9 23.1L563.2 25.1L563.5 27.1L563.7 29.1L563.7 29.1L564 31.1L564.1 33.1L564.3 35.2L564.3 37.2L564.4 39.2L564.4 41.2L564.4 43.2L564.4 45.2L564.4 47.2L564.3 49.3L564.2 51.3L564 53.3L563.8 55.3L563.7 55.9L563.5 57.3L563.2 59.3L562.9 61.3L562.5 63.4L562.1 65.4L561.7 67L561.6 67.4L561.1 69.4L560.6 71.4L560 73.4L559.7 74.1L559.2 75.4L558.4 77.5L557.7 78.9L557.5 79.5L556.5 81.5L555.7 83.1L555.5 83.5L554.4 85.5L553.7 86.7L553.1 87.5L551.7 89.5L551.7 89.6L550.1 91.5L549.6 92L548.2 93.6L547.6 94.2L546.1 95.6L545.6 96L543.7 97.6L543.6 97.7L541.6 99.1L540.9 99.6L539.6 100.4L537.6 101.5L537.2 101.6L535.6 102.3L533.5 103L531.5 103.4L529.5 103.6L527.5 103.5L525.5 103.3L523.5 102.8L521.5 102L520.7 101.6L519.4 101L517.4 99.6L517.4 99.6L515.4 97.9L515.1 97.6L513.4 95.8L513.2 95.6L511.8 93.6L511.4 93L510.6 91.5L509.6 89.5L509.4 89.1L508.8 87.5L508.2 85.5L507.8 83.5L507.4 81.5L507.4 81.4L507 79.5L506.6 77.5L506.3 75.4L506 73.4L505.8 71.4L505.6 69.4L505.4 67.4L505.3 66.7L505.2 65.4L505 63.4L504.8 61.3L504.6 59.3L504.3 57.3L504.1 55.3L503.8 53.3L503.6 51.3L503.5 49.3L503.3 47.6L503.3 47.2L503.2 45.2L503.1 43.2L503 41.2L502.9 39.2L502.9 37.2L502.8 35.2L502.8 33.1L502.8 31.1L502.9 29.1L503 27.1L503.1 25.1L503.2 23.1L503.3 21.3L503.4 21.1L503.6 19L503.8 17L504 15L504.1 13Z" fill="#e7fd29" stroke="#e7fd29" stroke-width="0.3" fill-rule="evenodd"/>
<path d="M507.4 13L509.4 13L511.4 13L513.4 13L515.4 13L517.4 13L519.4 13L521.5 13L523.5 13L525.5 13L527.5 13L529.5 13L531.5 13L533.5 13L535.6 13L537.6 13L539.6 13L541.6 13L543.6 13L545.6 13L547.6 13L549.6 13L551.7 13L553.7 13L555.7 13L557.7 13L559.3 13L559.6 15L559.7 15.3L560 17L560.5 19L560.9 21.1L561.2 23.1L561.5 25.1L561.7 26.4L561.8 27.1L562.1 29.1L562.4 31.1L562.6 33.1L562.7 35.2L562.8 37.2L562.9 39.2L562.9 41.2L563 43.2L563 45.2L563 47.2L562.9 49.3L562.8 51.3L562.7 53.3L562.5 55.3L562.2 57.3L561.9 59.3L561.7 60.4L561.6 61.3L561.2 63.4L560.8 65.4L560.3 67.4L559.8 69.4L559.7 69.9L559.3 71.4L558.7 73.4L557.9 75.4L557.7 75.9L557.1 77.5L556.1 79.5L555.7 80.4L555.1 81.5L554.1 83.5L553.7 84.3L553 85.5L551.7 87.5L551.7 87.6L550.2 89.5L549.6 90.2L548.5 91.5L547.6 92.4L546.5 93.6L545.6 94.4L544.2 95.6L543.6 96.1L541.6 97.6L541.6 97.6L539.6 98.8L538.1 99.6L537.6 99.9L535.6 100.7L533.5 101.4L532.3 101.6L531.5 101.8L529.5 102L527.5 101.9L525.6 101.6L525.5 101.6L523.5 101.1L521.5 100.3L520.2 99.6L519.4 99.2L517.4 97.7L517.3 97.6L515.4 95.9L515.1 95.6L513.4 93.6L513.4 93.5L512.1 91.5L511.4 90.2L511 89.5L510.2 87.5L509.6 85.5L509.4 84.7L509.1 83.5L508.7 81.5L508.3 79.5L507.9 77.5L507.5 75.4L507.4 74.3L507.2 73.4L507 71.4L506.8 69.4L506.7 67.4L506.5 65.4L506.3 63.4L506.1 61.3L505.9 59.3L505.6 57.3L505.4 55.3L505.3 54.9L505.2 53.3L505 51.3L504.8 49.3L504.7 47.2L504.6 45.2L504.6 43.2L504.5 41.2L504.5 39.2L504.5 37.2L504.4 35.2L504.5 33.1L504.6 31.1L504.7 29.1L504.8 27.1L505 25.1L505.2 23.1L505.3 21.3L505.4 21.1L505.6 19L506 17L506.2 15L506.4 13Z" fill="#fafc2f" stroke="#fafc2f" stroke-width="0.3" fill-rule="evenodd"/>
<path d="M509.4 13L511.4 13L513.4 13L515.4 13L517.4 13L519.4 13L521.5 13L523.5 13L525.5 13L527.5 13L529.5 13L531.5 13L533.5 13L535.6 13L537.6 13L539.6 13L541.6 13L543.6 13L545.6 13L547.6 13L549.6 13L551.7 13L553.7 13L555.7 13L557.3 13L557.7 15L557.7 15.2L558.1 17L558.6 19L559 21.1L559.4 23.1L559.7 24.7L559.8 25.1L560.1 27.1L560.5 29.1L560.8 31.1L561 33.1L561.2 35.2L561.3 37.2L561.4 39.2L561.5 41.2L561.5 43.2L561.6 45.2L561.6 47.2L561.5 49.3L561.5 51.3L561.3 53.3L561.1 55.3L560.9 57.3L560.6 59.3L560.2 61.3L559.9 63.4L559.7 64.1L559.5 65.4L559 67.4L558.5 69.4L558 71.4L557.7 72.3L557.3 73.4L556.6 75.4L555.7 77.5L555.7 77.5L554.8 79.5L553.7 81.5L553.7 81.6L552.7 83.5L551.7 85.3L551.5 85.5L550.2 87.5L549.6 88.2L548.6 89.5L547.6 90.7L546.8 91.5L545.6 92.7L544.7 93.6L543.6 94.5L542.1 95.6L541.6 96L539.6 97.3L538.9 97.6L537.6 98.3L535.6 99.2L534.1 99.6L533.5 99.8L531.5 100.2L529.5 100.4L527.5 100.3L525.5 100L524.3 99.6L523.5 99.4L521.5 98.5L519.9 97.6L519.4 97.3L517.4 95.8L517.2 95.6L515.4 93.7L515.3 93.6L513.8 91.5L513.4 91L512.6 89.5L511.7 87.5L511.4 86.8L511 85.5L510.5 83.5L510 81.5L509.6 79.5L509.4 78.6L509.2 77.5L508.8 75.4L508.5 73.4L508.3 71.4L508.1 69.4L507.9 67.4L507.8 65.4L507.6 63.4L507.4 61.3L507.4 61.2L507.2 59.3L507 57.3L506.7 55.3L506.5 53.3L506.4 51.3L506.3 49.3L506.2 47.2L506.1 45.2L506.1 43.2L506.1 41.2L506.1 39.2L506.1 37.2L506.1 35.2L506.2 33.1L506.3 31.1L506.5 29.1L506.7 27.1L506.9 25.1L507.2 23.1L507.4 21.7L507.5 21.1L507.8 19L508.2 17L508.6 15L508.8 13Z" fill="#fdec2d" stroke="#fdec2d" stroke-width="0.3" fill-rule="evenodd"/>
<path d="M511.4 13L513.4 13L515.4 13L517.4 13L519.4 13L521.5 13L523.5 13L525.5 13L527.5 13L529.5 13L531.5 13L533.5 13L535.6 13L537.6 13L539.6 13L541.6 13L543.6 13L545.6 13L547.6 13L549.6 13L551.7 13L553.7 13L555.1 13L555.5 15L555.7 15.6L556 17L556.6 19L557.1 21.1L557.6 23.1L557.7 23.7L558 25.1L558.4 27.1L558.8 29.1L559.1 31.1L559.4 33.1L559.6 35.2L559.7 36.9L559.7 37.2L559.8 39.2L559.9 41.2L560 43.2L560.1 45.2L560.1 47.2L560.1 49.3L560.1 51.3L559.9 53.3L559.7 55.3L559.7 55.5L559.5 57.3L559.2 59.3L558.9 61.3L558.5 63.4L558.1 65.4L557.7 67.2L557.7 67.4L557.2 69.4L556.6 71.4L556 73.4L555.7 74.2L555.2 75.4L554.3 77.5L553.7 78.8L553.4 79.5L552.3 81.5L551.7 82.7L551.2 83.5L550 85.5L549.6 86.1L548.6 87.5L547.6 88.8L547 89.5L545.6 90.9L545 91.5L543.6 92.8L542.6 93.6L541.6 94.3L539.7 95.6L539.6 95.7L537.6 96.7L535.6 97.6L535.6 97.6L533.5 98.2L531.5 98.6L529.5 98.7L527.5 98.6L525.5 98.3L523.5 97.7L523.3 97.6L521.5 96.7L519.6 95.6L519.4 95.4L517.4 93.7L517.3 93.6L515.5 91.5L515.4 91.4L514.2 89.5L513.4 88L513.2 87.5L512.4 85.5L511.9 83.5L511.4 81.6L511.4 81.5L510.9 79.5L510.5 77.5L510.1 75.4L509.8 73.4L509.5 71.4L509.4 69.4L509.4 69.4L509.2 67.4L509.1 65.4L508.9 63.4L508.7 61.3L508.5 59.3L508.3 57.3L508.1 55.3L507.9 53.3L507.8 51.3L507.7 49.3L507.6 47.2L507.6 45.2L507.6 43.2L507.6 41.2L507.7 39.2L507.7 37.2L507.8 35.2L508 33.1L508.1 31.1L508.4 29.1L508.7 27.1L509 25.1L509.3 23.1L509.4 22.6L509.6 21.1L510.1 19L510.6 17L511 15L511.4 13Z" fill="#fed92a" stroke="#fed92a" stroke-width="0.3" fill-rule="evenodd"/>
<path d="M515.4 13L517.4 13L519.4 13L521.5 13L523.5 13L525.5 13L527.5 13L529.5 13L531.5 13L533.5 13L535.6 13L537.6 13L539.6 13L541.6 13L543.6 13L545.6 13L547.6 13L549.6 13L551.7 13L552.7 13L553.2 15L553.7 16.4L553.9 17L554.5 19L555.1 21.1L555.6 23.1L555.7 23.4L556.1 25.1L556.5 27.1L557 29.1L557.4 31.1L557.7 33.1L557.7 33.2L557.9 35.2L558.1 37.2L558.2 39.2L558.4 41.2L558.5 43.2L558.6 45.2L558.6 47.2L558.7 49.3L558.6 51.3L558.5 53.3L558.3 55.3L558.1 57.3L557.8 59.3L557.7 59.9L557.5 61.3L557.1 63.4L556.7 65.4L556.3 67.4L555.8 69.4L555.7 69.8L555.3 71.4L554.6 73.4L553.8 75.4L553.7 75.8L552.9 77.5L551.9 79.5L551.7 80L550.8 81.5L549.7 83.5L549.6 83.6L548.4 85.5L547.6 86.6L547 87.5L545.6 89.1L545.2 89.5L543.6 91L543 91.5L541.6 92.7L540.3 93.6L539.6 94L537.6 95.1L536.5 95.6L535.6 96L533.5 96.6L531.5 97L529.5 97.1L527.5 97L525.5 96.6L523.5 95.9L522.8 95.6L521.5 94.9L519.6 93.6L519.4 93.4L517.5 91.5L517.4 91.5L516 89.5L515.4 88.6L514.8 87.5L514 85.5L513.4 83.7L513.3 83.5L512.8 81.5L512.3 79.5L511.8 77.5L511.4 75.4L511.4 75.3L511.1 73.4L510.9 71.4L510.7 69.4L510.6 67.4L510.4 65.4L510.2 63.4L510 61.3L509.9 59.3L509.7 57.3L509.5 55.3L509.4 54.1L509.3 53.3L509.2 51.3L509.1 49.3L509.1 47.2L509.1 45.2L509.2 43.2L509.3 41.2L509.3 39.2L509.4 38.6L509.4 37.2L509.6 35.2L509.8 33.1L510 31.1L510.4 29.1L510.7 27.1L511.1 25.1L511.4 23.6L511.5 23.1L512 21.1L512.5 19L513.1 17L513.4 16L513.7 15L514.2 13Z" fill="#ffc527" stroke="#ffc527" stroke-width="0.3" fill-rule="evenodd"/>
<path d="M517.4 13L519.4 13L521.5 13L523.5 13L525.5 13L527.5 13L529.5 13L531.5 13L533.5 13L535.6 13L537.6 13L539.6 13L541.6 13L543.6 13L545.6 13L547.6 13L549.6 13L550.1 13L550.7 15L551.5 17L551.7 17.5L552.2 19L552.9 21.1L553.5 23.1L553.7 23.6L554.1 25.1L554.6 27.1L555.1 29.1L555.6 31.1L555.7 31.8L555.9 33.1L556.2 35.2L556.4 37.2L556.6 39.2L556.8 41.2L556.9 43.2L557 45.2L557.1 47.2L557.2 49.3L557.1 51.3L557 53.3L556.9 55.3L556.6 57.3L556.3 59.3L556 61.3L555.7 63.4L555.7 63.4L555.3 65.4L554.8 67.4L554.4 69.4L553.9 71.4L553.7 72L553.2 73.4L552.4 75.4L551.7 77L551.4 77.5L550.4 79.5L549.6 80.8L549.3 81.5L548.1 83.5L547.6 84.2L546.8 85.5L545.6 87L545.2 87.5L543.6 89.2L543.2 89.5L541.6 90.9L540.7 91.5L539.6 92.3L537.6 93.5L537.4 93.6L535.6 94.4L533.5 95L531.5 95.4L529.5 95.5L527.5 95.3L525.5 94.8L523.5 94.1L522.5 93.6L521.5 92.9L519.7 91.5L519.4 91.3L517.9 89.5L517.4 88.9L516.6 87.5L515.6 85.5L515.4 85.1L514.9 83.5L514.3 81.5L513.7 79.5L513.4 78.2L513.2 77.5L512.8 75.4L512.5 73.4L512.2 71.4L512.1 69.4L511.9 67.4L511.8 65.4L511.6 63.4L511.4 61.3L511.4 61L511.2 59.3L511.1 57.3L510.9 55.3L510.8 53.3L510.7 51.3L510.7 49.3L510.7 47.2L510.7 45.2L510.8 43.2L510.9 41.2L511.1 39.2L511.2 37.2L511.4 35.4L511.4 35.2L511.7 33.1L512 31.1L512.4 29.1L512.9 27.1L513.3 25.1L513.4 24.9L513.9 23.1L514.5 21.1L515.1 19L515.4 18.3L515.9 17L516.7 15L517.3 13Z" fill="#ffb024" stroke="#ffb024" stroke-width="0.3" fill-rule="evenodd"/>
<path d="M521.5 13L523.5 13L525.5 13L527.5 13L529.5 13L531.5 13L533.5 13L535.6 13L537.6 13L539.6 13L541.6 13L543.6 13L545.6 13L547 13L547.6 14.5L547.8 15L548.7 17L549.6 19L549.7 19L550.5 21.1L551.2 23.1L551.7 24.3L551.9 25.1L552.5 27.1L553.1 29.1L553.6 31.1L553.7 31.3L554.1 33.1L554.4 35.2L554.7 37.2L554.9 39.2L555.1 41.2L555.3 43.2L555.4 45.2L555.5 47.2L555.6 49.3L555.6 51.3L555.5 53.3L555.4 55.3L555.1 57.3L554.9 59.3L554.6 61.3L554.2 63.4L553.8 65.4L553.7 66L553.4 67.4L552.9 69.4L552.4 71.4L551.7 73.4L551.7 73.5L550.9 75.4L549.9 77.5L549.6 77.9L548.8 79.5L547.6 81.5L547.6 81.5L546.3 83.5L545.6 84.6L544.9 85.5L543.6 87.1L543.2 87.5L541.6 89L540.9 89.5L539.6 90.5L537.9 91.5L537.6 91.7L535.6 92.6L533.5 93.3L532.1 93.6L531.5 93.7L529.5 93.7L527.7 93.6L527.5 93.5L525.5 93L523.5 92.1L522.6 91.5L521.5 90.8L520.1 89.5L519.4 88.8L518.5 87.5L517.4 85.7L517.3 85.5L516.6 83.5L515.9 81.5L515.4 80.1L515.2 79.5L514.7 77.5L514.3 75.4L513.9 73.4L513.6 71.4L513.5 69.4L513.4 68.6L513.3 67.4L513.2 65.4L513 63.4L512.9 61.3L512.7 59.3L512.5 57.3L512.4 55.3L512.3 53.3L512.2 51.3L512.2 49.3L512.3 47.2L512.4 45.2L512.5 43.2L512.7 41.2L512.9 39.2L513.1 37.2L513.3 35.2L513.4 34.8L513.7 33.1L514.1 31.1L514.6 29.1L515.2 27.1L515.4 26.3L515.8 25.1L516.5 23.1L517.2 21.1L517.4 20.5L518.1 19L519.1 17L519.4 16.2L520.1 15L520.9 13Z" fill="#ff9a21" stroke="#ff9a21" stroke-width="0.3" fill-rule="evenodd"/>
<path d="M525.5 13.3L525.7 13L527.5 13L529.5 13L531.5 13L533.5 13L535.6 13L537.6 13L539.6 13L541.6 13L542.9 13L543.6 14L544.1 15L545.4 17L545.6 17.3L546.7 19L547.6 20.8L547.8 21.1L548.6 23.1L549.5 25.1L549.6 25.5L550.2 27.1L550.9 29.1L551.5 31.1L551.7 31.5L552.1 33.1L552.5 35.2L552.8 37.2L553 39.2L553.3 41.2L553.6 43.2L553.7 44.4L553.7 45.2L553.9 47.2L554 49.3L554 51.3L553.9 53.3L553.8 55.3L553.7 56.5L553.6 57.3L553.3 59.3L553 61.3L552.7 63.4L552.3 65.4L551.8 67.4L551.7 68.2L551.4 69.4L550.8 71.4L550.1 73.4L549.6 74.6L549.3 75.4L548.3 77.5L547.6 78.6L547.1 79.5L545.9 81.5L545.6 81.8L544.4 83.5L543.6 84.6L542.9 85.5L541.6 86.9L540.9 87.5L539.6 88.6L538.1 89.5L537.6 89.9L535.6 90.8L533.5 91.5L533.3 91.5L531.5 91.9L529.5 91.9L527.5 91.7L527.1 91.5L525.5 91L523.5 90L522.8 89.5L521.5 88.3L520.7 87.5L519.4 85.8L519.3 85.5L518.4 83.5L517.6 81.5L517.4 81.1L516.9 79.5L516.3 77.5L515.8 75.4L515.4 73.7L515.4 73.4L515.1 71.4L514.9 69.4L514.8 67.4L514.7 65.4L514.5 63.4L514.4 61.3L514.2 59.3L514 57.3L513.9 55.3L513.8 53.3L513.8 51.3L513.9 49.3L514 47.2L514.1 45.2L514.3 43.2L514.6 41.2L514.8 39.2L515.1 37.2L515.4 35.2L515.4 35.1L515.9 33.1L516.4 31.1L517 29.1L517.4 27.9L517.7 27.1L518.5 25.1L519.4 23.1L519.4 22.9L520.3 21.1L521.5 19.1L521.5 19L522.9 17L523.5 16.2L524.4 15Z" fill="#ff831e" stroke="#ff831e" stroke-width="0.3" fill-rule="evenodd"/>
<path d="M533.5 14.7L535.6 14.6L537.1 15L537.6 15.1L539.6 16.2L540.5 17L541.6 17.8L542.7 19L543.6 20L544.3 21.1L545.6 23.1L545.6 23.1L546.6 25.1L547.6 27.1L547.6 27.1L548.5 29.1L549.2 31.1L549.6 32.4L549.9 33.1L550.4 35.2L550.7 37.2L551.1 39.2L551.4 41.2L551.7 42.8L551.7 43.2L551.9 45.2L552.1 47.2L552.3 49.3L552.3 51.3L552.3 53.3L552.1 55.3L551.9 57.3L551.7 59.3L551.7 59.5L551.4 61.3L551 63.4L550.6 65.4L550.2 67.4L549.7 69.4L549.6 69.7L549.2 71.4L548.5 73.4L547.6 75.3L547.6 75.4L546.5 77.5L545.6 78.9L545.3 79.5L543.9 81.5L543.6 81.9L542.3 83.5L541.6 84.4L540.5 85.5L539.6 86.3L538 87.5L537.6 87.8L535.6 88.9L533.7 89.5L533.5 89.6L531.5 89.9L529.5 89.9L527.5 89.6L527.3 89.5L525.5 88.8L523.5 87.5L523.4 87.5L521.6 85.5L521.5 85.3L520.4 83.5L519.4 81.5L519.4 81.5L518.6 79.5L518 77.5L517.4 75.7L517.4 75.4L517 73.4L516.7 71.4L516.5 69.4L516.4 67.4L516.2 65.4L516.1 63.4L515.9 61.3L515.8 59.3L515.6 57.3L515.5 55.3L515.5 53.3L515.5 51.3L515.6 49.3L515.7 47.2L516 45.2L516.2 43.2L516.5 41.2L516.9 39.2L517.2 37.2L517.4 36.2L517.7 35.2L518.2 33.1L518.9 31.1L519.4 29.7L519.7 29.1L520.6 27.1L521.5 25.5L521.7 25.1L522.9 23.1L523.5 22.1L524.3 21.1L525.5 19.6L526.1 19L527.5 17.8L528.6 17L529.5 16.3L531.5 15.3L532.6 15Z" fill="#ff6a1a" stroke="#ff6a1a" stroke-width="0.3" fill-rule="evenodd"/>
<path d="M531.5 20.7L533.5 20.1L535.6 20.1L537.6 20.5L538.6 21.1L539.6 21.6L541.3 23.1L541.6 23.4L543 25.1L543.6 25.9L544.4 27.1L545.6 29.1L545.6 29.1L546.5 31.1L547.4 33.1L547.6 33.9L548 35.2L548.5 37.2L548.9 39.2L549.3 41.2L549.6 42.9L549.7 43.2L550 45.2L550.2 47.2L550.4 49.3L550.5 51.3L550.5 53.3L550.4 55.3L550.2 57.3L549.9 59.3L549.7 61.3L549.6 61.4L549.3 63.4L548.9 65.4L548.4 67.4L548 69.4L547.6 70.7L547.4 71.4L546.7 73.4L545.7 75.4L545.6 75.6L544.5 77.5L543.6 78.9L543.2 79.5L541.6 81.5L541.6 81.5L539.8 83.5L539.6 83.7L537.6 85.4L537.5 85.5L535.6 86.6L533.5 87.4L532.9 87.5L531.5 87.8L529.5 87.7L528.5 87.5L527.5 87.3L525.5 86.2L524.6 85.5L523.5 84.3L522.9 83.5L521.6 81.5L521.5 81.2L520.6 79.5L519.8 77.5L519.4 76.4L519.2 75.4L518.7 73.4L518.4 71.4L518.2 69.4L518 67.4L517.9 65.4L517.7 63.4L517.6 61.3L517.5 59.3L517.4 58.9L517.3 57.3L517.2 55.3L517.2 53.3L517.3 51.3L517.4 49.3L517.4 49.1L517.6 47.2L517.9 45.2L518.3 43.2L518.7 41.2L519.2 39.2L519.4 37.9L519.6 37.2L520.2 35.2L520.9 33.1L521.5 31.8L521.8 31.1L522.9 29.1L523.5 28.1L524.2 27.1L525.5 25.4L525.8 25.1L527.5 23.3L527.7 23.1L529.5 21.7L530.7 21.1Z" fill="#ff5117" stroke="#ff5117" stroke-width="0.3" fill-rule="evenodd"/>
<path d="M531.5 26.1L533.5 25.5L535.6 25.4L537.6 25.9L539.6 27.1L539.6 27.1L541.6 29L541.7 29.1L543.2 31.1L543.6 31.7L544.3 33.1L545.2 35.2L545.6 36.2L545.9 37.2L546.4 39.2L547 41.2L547.5 43.2L547.6 44L547.9 45.2L548.2 47.2L548.4 49.3L548.5 51.3L548.6 53.3L548.5 55.3L548.3 57.3L548 59.3L547.8 61.3L547.6 62.1L547.4 63.4L547 65.4L546.5 67.4L546 69.4L545.6 71L545.5 71.4L544.6 73.4L543.6 75.4L543.6 75.5L542.3 77.5L541.6 78.4L540.7 79.5L539.6 80.7L538.7 81.5L537.6 82.5L536.1 83.5L535.6 83.8L533.5 84.7L531.5 85.1L529.5 85L527.5 84.2L526.5 83.5L525.5 82.7L524.4 81.5L523.5 80.3L523 79.5L522 77.5L521.5 76.3L521.2 75.4L520.6 73.4L520.2 71.4L520 69.4L519.9 67.4L519.7 65.4L519.6 63.4L519.4 61.8L519.4 61.3L519.3 59.3L519.2 57.3L519.1 55.3L519.1 53.3L519.2 51.3L519.4 49.3L519.4 49.2L519.8 47.2L520.2 45.2L520.6 43.2L521.1 41.2L521.5 40.1L521.8 39.2L522.4 37.2L523.2 35.2L523.5 34.5L524.2 33.1L525.4 31.1L525.5 31.1L527.2 29.1L527.5 28.8L529.5 27.1L529.6 27.1Z" fill="#ff3812" stroke="#ff3812" stroke-width="0.3" fill-rule="evenodd"/>
<path d="M533.5 30.7L535.6 30.7L537 31.1L537.6 31.3L539.6 32.7L540 33.1L541.6 35.2L541.6 35.2L542.5 37.2L543.4 39.2L543.6 39.6L544.2 41.2L544.8 43.2L545.4 45.2L545.6 46.3L545.8 47.2L546.1 49.3L546.3 51.3L546.4 53.3L546.3 55.3L546.2 57.3L545.9 59.3L545.6 61.3L545.6 61.5L545.3 63.4L544.8 65.4L544.4 67.4L543.9 69.4L543.6 70.3L543.2 71.4L542.3 73.4L541.6 74.7L541.1 75.4L539.6 77.4L539.5 77.5L537.6 79.3L537.4 79.5L535.6 80.7L533.7 81.5L533.5 81.5L531.5 81.9L529.5 81.6L529.3 81.5L527.5 80.6L526.2 79.5L525.5 78.7L524.6 77.5L523.5 75.4L523.5 75.3L522.8 73.4L522.4 71.4L522.1 69.4L521.9 67.4L521.8 65.4L521.6 63.4L521.5 61.3L521.5 61.3L521.3 59.3L521.3 57.3L521.2 55.3L521.3 53.3L521.4 51.3L521.5 51L521.7 49.3L522.2 47.2L522.7 45.2L523.3 43.2L523.5 42.8L524.1 41.2L525 39.2L525.5 38L525.9 37.2L527.1 35.2L527.5 34.6L528.9 33.1L529.5 32.6L531.5 31.4L532.2 31.1Z" fill="#ff2b10" stroke="#ff2b10" stroke-width="0.3" fill-rule="evenodd"/>
<line x1="483.2" y1="12.5" x2="483.2" y2="156.5" stroke="#000" stroke-width="1.1"/>
<line x1="482.7" y1="156" x2="663.9" y2="156" stroke="#000" stroke-width="1.1"/>
<line x1="483.2" y1="12.8" x2="663.9" y2="12.8" stroke="#000" stroke-width="0.9"/>
<rect x="662.4" y="12.6" width="6.5" height="143.8" fill="#383838"/>
<rect x="664" y="13.0" width="4.3" height="143" fill="url(#cbar)"/>
<line x1="491.47" y1="156" x2="491.47" y2="159" stroke="#000" stroke-width="0.9"/>
<line x1="505.26" y1="156" x2="505.26" y2="157.8" stroke="#000" stroke-width="0.9"/>
<line x1="519.04" y1="156" x2="519.04" y2="159" stroke="#000" stroke-width="0.9"/>
<line x1="532.82" y1="156" x2="532.82" y2="157.8" stroke="#000" stroke-width="0.9"/>
<line x1="546.61" y1="156" x2="546.61" y2="159" stroke="#000" stroke-width="0.9"/>
<line x1="560.39" y1="156" x2="560.39" y2="157.8" stroke="#000" stroke-width="0.9"/>
<line x1="574.18" y1="156" x2="574.18" y2="159" stroke="#000" stroke-width="0.9"/>
<line x1="587.96" y1="156" x2="587.96" y2="157.8" stroke="#000" stroke-width="0.9"/>
<line x1="601.75" y1="156" x2="601.75" y2="159" stroke="#000" stroke-width="0.9"/>
<line x1="615.53" y1="156" x2="615.53" y2="157.8" stroke="#000" stroke-width="0.9"/>
<line x1="629.32" y1="156" x2="629.32" y2="159" stroke="#000" stroke-width="0.9"/>
<line x1="643.1" y1="156" x2="643.1" y2="157.8" stroke="#000" stroke-width="0.9"/>
<line x1="656.89" y1="156" x2="656.89" y2="159" stroke="#000" stroke-width="0.9"/>
<text x="491.47" y="168.6" font-size="10.1" font-weight="bold" text-anchor="middle" fill="#000" stroke="#000" stroke-width="0.3">400</text>
<text x="519.04" y="168.6" font-size="10.1" font-weight="bold" text-anchor="middle" fill="#000" stroke="#000" stroke-width="0.3">450</text>
<text x="546.61" y="168.6" font-size="10.1" font-weight="bold" text-anchor="middle" fill="#000" stroke="#000" stroke-width="0.3">500</text>
<text x="574.18" y="168.6" font-size="10.1" font-weight="bold" text-anchor="middle" fill="#000" stroke="#000" stroke-width="0.3">550</text>
<text x="601.75" y="168.6" font-size="10.1" font-weight="bold" text-anchor="middle" fill="#000" stroke="#000" stroke-width="0.3">600</text>
<text x="629.32" y="168.6" font-size="10.1" font-weight="bold" text-anchor="middle" fill="#000" stroke="#000" stroke-width="0.3">650</text>
<text x="656.89" y="168.6" font-size="10.1" font-weight="bold" text-anchor="middle" fill="#000" stroke="#000" stroke-width="0.3">700</text>
<line x1="483.2" y1="156" x2="480.2" y2="156" stroke="#000" stroke-width="0.9"/>
<line x1="483.2" y1="144.08" x2="481.4" y2="144.08" stroke="#000" stroke-width="0.9"/>
<line x1="483.2" y1="132.17" x2="480.2" y2="132.17" stroke="#000" stroke-width="0.9"/>
<line x1="483.2" y1="120.25" x2="481.4" y2="120.25" stroke="#000" stroke-width="0.9"/>
<line x1="483.2" y1="108.33" x2="480.2" y2="108.33" stroke="#000" stroke-width="0.9"/>
<line x1="483.2" y1="96.42" x2="481.4" y2="96.42" stroke="#000" stroke-width="0.9"/>
<line x1="483.2" y1="84.5" x2="480.2" y2="84.5" stroke="#000" stroke-width="0.9"/>
<line x1="483.2" y1="72.58" x2="481.4" y2="72.58" stroke="#000" stroke-width="0.9"/>
<line x1="483.2" y1="60.67" x2="480.2" y2="60.67" stroke="#000" stroke-width="0.9"/>
<line x1="483.2" y1="48.75" x2="481.4" y2="48.75" stroke="#000" stroke-width="0.9"/>
<line x1="483.2" y1="36.83" x2="480.2" y2="36.83" stroke="#000" stroke-width="0.9"/>
<line x1="483.2" y1="24.92" x2="481.4" y2="24.92" stroke="#000" stroke-width="0.9"/>
<line x1="483.2" y1="13" x2="480.2" y2="13" stroke="#000" stroke-width="0.9"/>
<text x="478.6" y="159.5" font-size="10.1" font-weight="bold" text-anchor="end" fill="#000" stroke="#000" stroke-width="0.3">0</text>
<text x="478.6" y="135.67" font-size="10.1" font-weight="bold" text-anchor="end" fill="#000" stroke="#000" stroke-width="0.3">5</text>
<text x="478.6" y="111.83" font-size="10.1" font-weight="bold" text-anchor="end" fill="#000" stroke="#000" stroke-width="0.3">10</text>
<text x="478.6" y="88" font-size="10.1" font-weight="bold" text-anchor="end" fill="#000" stroke="#000" stroke-width="0.3">15</text>
<text x="478.6" y="64.17" font-size="10.1" font-weight="bold" text-anchor="end" fill="#000" stroke="#000" stroke-width="0.3">20</text>
<text x="478.6" y="40.33" font-size="10.1" font-weight="bold" text-anchor="end" fill="#000" stroke="#000" stroke-width="0.3">25</text>
<text x="478.6" y="16.5" font-size="10.1" font-weight="bold" text-anchor="end" fill="#000" stroke="#000" stroke-width="0.3">30</text>
<line x1="668.9" y1="156" x2="670.7" y2="156" stroke="#000" stroke-width="0.7"/>
<text x="671.7" y="158.4" font-size="6.4" font-weight="bold" text-anchor="start" fill="#000" stroke="#000" stroke-width="0.2">0</text>
<line x1="668.9" y1="138.12" x2="670.7" y2="138.12" stroke="#000" stroke-width="0.7"/>
<text x="671.7" y="140.53" font-size="6.4" font-weight="bold" text-anchor="start" fill="#000" stroke="#000" stroke-width="0.2">5k</text>
<line x1="668.9" y1="120.25" x2="670.7" y2="120.25" stroke="#000" stroke-width="0.7"/>
<text x="671.7" y="122.65" font-size="6.4" font-weight="bold" text-anchor="start" fill="#000" stroke="#000" stroke-width="0.2">10k</text>
<line x1="668.9" y1="102.38" x2="670.7" y2="102.38" stroke="#000" stroke-width="0.7"/>
<text x="671.7" y="104.78" font-size="6.4" font-weight="bold" text-anchor="start" fill="#000" stroke="#000" stroke-width="0.2">14k</text>
<line x1="668.9" y1="84.5" x2="670.7" y2="84.5" stroke="#000" stroke-width="0.7"/>
<text x="671.7" y="86.9" font-size="6.4" font-weight="bold" text-anchor="start" fill="#000" stroke="#000" stroke-width="0.2">19k</text>
<line x1="668.9" y1="66.62" x2="670.7" y2="66.62" stroke="#000" stroke-width="0.7"/>
<text x="671.7" y="69.03" font-size="6.4" font-weight="bold" text-anchor="start" fill="#000" stroke="#000" stroke-width="0.2">24k</text>
<line x1="668.9" y1="48.75" x2="670.7" y2="48.75" stroke="#000" stroke-width="0.7"/>
<text x="671.7" y="51.15" font-size="6.4" font-weight="bold" text-anchor="start" fill="#000" stroke="#000" stroke-width="0.2">29k</text>
<line x1="668.9" y1="30.88" x2="670.7" y2="30.88" stroke="#000" stroke-width="0.7"/>
<text x="671.7" y="33.27" font-size="6.4" font-weight="bold" text-anchor="start" fill="#000" stroke="#000" stroke-width="0.2">33k</text>
<line x1="668.9" y1="13" x2="670.7" y2="13" stroke="#000" stroke-width="0.7"/>
<text x="671.7" y="15.4" font-size="6.4" font-weight="bold" text-anchor="start" fill="#000" stroke="#000" stroke-width="0.2">38k</text>
<text x="513" y="187.2" font-size="15.6" font-weight="bold" text-anchor="start" fill="#000" stroke="#000" stroke-width="0.3" textLength="120.2" lengthAdjust="spacingAndGlyphs">Wavelength (nm)</text>
<text x="462" y="84.7" font-size="14.8" font-weight="bold" text-anchor="middle" fill="#000" stroke="#000" stroke-width="0.3" transform="rotate(-90 462 84.7)" textLength="58.6" lengthAdjust="spacingAndGlyphs">Time (s)</text>
<text x="638.8" y="8.5" font-size="8" font-weight="bold" text-anchor="start" fill="#000" stroke="#000" stroke-width="0.2" textLength="33.9" lengthAdjust="spacingAndGlyphs">Intensity</text>
<text x="455.4" y="19.1" font-size="12.6" font-weight="bold" text-anchor="start" fill="#000" stroke="#000" stroke-width="0.3">c</text>
</g>
<g id="panel_d">
<defs><linearGradient id="dgr" x1="0" y1="0" x2="1" y2="0"><stop offset="0" stop-color="#3a70e6"/><stop offset="0.07" stop-color="#3b80c8"/><stop offset="0.15" stop-color="#3f9c96"/><stop offset="0.24" stop-color="#3dc050"/><stop offset="0.36" stop-color="#4ccc52"/><stop offset="0.43" stop-color="#84d85a"/><stop offset="0.47" stop-color="#c0e868"/><stop offset="0.53" stop-color="#e0d43c"/><stop offset="0.62" stop-color="#f0c030"/><stop offset="0.72" stop-color="#f0a43c"/><stop offset="0.80" stop-color="#f08850"/><stop offset="0.87" stop-color="#f4603c"/><stop offset="0.94" stop-color="#ff3220"/><stop offset="1" stop-color="#ff1a10"/></linearGradient></defs>
<rect x="20.8" y="210.2" width="112.8" height="25.6" fill="url(#dgr)"/>
<path d="M20.6 303.96 L21.7 301.13 L22.8 298.29 L23.89 295.44 L24.99 292.6 L26.09 289.79 L27.19 287.01 L28.28 284.29 L29.38 281.63 L30.48 279.06 L31.58 276.59 L32.67 274.23 L33.77 271.99 L34.87 269.9 L35.97 267.96 L37.06 266.19 L38.16 264.6 L39.26 263.2 L40.36 261.99 L41.45 261 L42.55 260.21 L43.65 259.65 L44.75 259.31 L45.84 259.2 L48.51 260.35 L51.18 261.87 L53.85 263.7 L56.52 265.98 L59.19 268.78 L61.86 271.99 L64.52 275.55 L67.19 279.35 L69.86 283.32 L72.53 287.37 L75.2 291.54 L77.87 296.44 L80.53 301.84 L83.2 307.37 L85.87 312.64 L88.54 317.29 L91.21 320.96 L93.88 324.1 L96.55 327.1 L99.21 329.95 L101.88 332.65 L104.55 335.18 L107.22 337.53 L109.89 339.7 L112.56 341.67 L115.22 343.44 L117.89 345 L120.56 346.32 L123.23 347.46 L125.9 348.54 L128.57 349.56 L131.23 350.53 L133.9 351.42 L136.57 352.23 L139.24 352.94 L141.91 353.55 L144.58 354.03 L147.25 354.39 L149.91 354.61 L152.58 354.79 L155.25 354.96 L157.92 355.12 L160.59 355.27 L163.26 355.42 L165.92 355.56 L168.59 355.68 L171.26 355.8 L173.93 355.91 L176.6 356.01 L179.27 356.1 L181.93 356.19 L184.6 356.26 L187.27 356.32 L189.94 356.38 L192.61 356.42 L195.28 356.46 L197.95 356.48 L200.61 356.49 L203.28 356.5" fill="none" stroke="#f7bfe6" stroke-width="1.05" stroke-linejoin="round"/>
<path d="M20.6 329.26 L21.76 326.14 L22.91 322.83 L24.07 319.34 L25.23 315.68 L26.39 311.88 L27.54 307.96 L28.7 303.95 L29.86 299.88 L31.02 295.79 L32.17 291.71 L33.33 287.69 L34.49 283.78 L35.65 280.01 L36.8 276.43 L37.96 273.09 L39.12 270.02 L40.28 267.27 L41.43 264.88 L42.59 262.88 L43.75 261.28 L44.91 260.13 L46.06 259.43 L47.22 259.2 L49.87 260.3 L52.51 261.73 L55.16 263.46 L57.8 265.59 L60.45 268.21 L63.09 271.24 L65.74 274.6 L68.38 278.2 L71.03 281.96 L73.67 285.79 L76.32 289.62 L78.96 293.83 L81.61 298.56 L84.25 303.56 L86.9 308.56 L89.54 313.29 L92.19 317.48 L94.83 320.88 L97.48 323.86 L100.12 326.72 L102.77 329.46 L105.41 332.07 L108.06 334.53 L110.7 336.85 L113.35 339 L115.99 340.97 L118.64 342.76 L121.28 344.36 L123.93 345.76 L126.57 346.94 L129.22 348.02 L131.86 349.06 L134.51 350.04 L137.15 350.96 L139.8 351.8 L142.45 352.56 L145.09 353.21 L147.74 353.76 L150.38 354.2 L153.03 354.5 L155.67 354.7 L158.32 354.88 L160.96 355.06 L163.61 355.23 L166.25 355.38 L168.9 355.53 L171.54 355.67 L174.19 355.8 L176.83 355.92 L179.48 356.03 L182.12 356.12 L184.77 356.21 L187.41 356.29 L190.06 356.35 L192.7 356.4 L195.35 356.45 L197.99 356.48 L200.64 356.49 L203.28 356.5" fill="none" stroke="#f591d8" stroke-width="1.05" stroke-linejoin="round"/>
<path d="M30.06 297.15 L30.9 294.6 L31.75 292.06 L32.59 289.54 L33.44 287.06 L34.29 284.62 L35.13 282.23 L35.98 279.9 L36.82 277.65 L37.67 275.48 L38.52 273.41 L39.36 271.45 L40.21 269.6 L41.06 267.88 L41.9 266.29 L42.75 264.85 L43.59 263.55 L44.44 262.42 L45.29 261.45 L46.13 260.64 L46.98 260.01 L47.82 259.56 L48.67 259.29 L49.52 259.2 L52.12 260.28 L54.73 261.68 L57.34 263.38 L59.94 265.46 L62.55 268.04 L65.15 271.04 L67.76 274.36 L70.37 277.91 L72.97 281.6 L75.58 285.33 L78.19 289.02 L80.79 292.86 L83.4 297.12 L86 301.62 L88.61 306.19 L91.22 310.63 L93.82 314.77 L96.43 318.42 L99.03 321.44 L101.64 324.23 L104.25 326.93 L106.85 329.52 L109.46 332 L112.07 334.36 L114.67 336.59 L117.28 338.67 L119.88 340.6 L122.49 342.37 L125.1 343.96 L127.7 345.37 L130.31 346.58 L132.91 347.65 L135.52 348.68 L138.13 349.66 L140.73 350.59 L143.34 351.44 L145.95 352.22 L148.55 352.91 L151.16 353.51 L153.76 354 L156.37 354.36 L158.98 354.61 L161.58 354.81 L164.19 355 L166.8 355.18 L169.4 355.35 L172.01 355.51 L174.61 355.66 L177.22 355.8 L179.83 355.93 L182.43 356.05 L185.04 356.15 L187.64 356.24 L190.25 356.32 L192.86 356.38 L195.46 356.43 L198.07 356.47 L200.68 356.49 L203.28 356.5" fill="none" stroke="#ee62c6" stroke-width="1.05" stroke-linejoin="round"/>
<path d="M40.11 305.9 L41.26 303.01 L42.4 300.09 L43.55 297.16 L44.7 294.23 L45.84 291.31 L46.99 288.43 L48.14 285.59 L49.29 282.82 L50.44 280.14 L51.58 277.54 L52.73 275.07 L53.88 272.72 L55.02 270.51 L56.17 268.47 L57.32 266.6 L58.47 264.92 L59.62 263.44 L60.76 262.16 L61.91 261.11 L63.06 260.28 L64.2 259.68 L65.35 259.32 L66.5 259.2 L68.82 260.09 L71.14 261.23 L73.46 262.58 L75.77 264.14 L78.09 266.05 L80.41 268.31 L82.73 270.86 L85.05 273.65 L87.37 276.61 L89.68 279.71 L92 282.86 L94.32 286.03 L96.64 289.16 L98.96 292.39 L101.28 295.94 L103.59 299.68 L105.91 303.53 L108.23 307.36 L110.55 311.09 L112.87 314.6 L115.19 317.79 L117.5 320.56 L119.82 323.06 L122.14 325.5 L124.46 327.86 L126.78 330.15 L129.1 332.35 L131.41 334.46 L133.73 336.47 L136.05 338.38 L138.37 340.17 L140.69 341.84 L143.01 343.38 L145.32 344.78 L147.64 346.04 L149.96 347.16 L152.28 348.24 L154.6 349.27 L156.92 350.26 L159.23 351.19 L161.55 352.04 L163.87 352.8 L166.19 353.46 L168.51 353.99 L170.83 354.4 L173.14 354.67 L175.46 354.91 L177.78 355.14 L180.1 355.36 L182.42 355.56 L184.74 355.74 L187.05 355.91 L189.37 356.06 L191.69 356.19 L194.01 356.3 L196.33 356.38 L198.65 356.45 L200.96 356.49 L203.28 356.5" fill="none" stroke="#9a1a6c" stroke-width="1.25" stroke-linejoin="round"/>
<path d="M49.52 313.69 L50.77 310.59 L52.03 307.42 L53.29 304.2 L54.55 300.94 L55.8 297.65 L57.06 294.37 L58.32 291.1 L59.58 287.88 L60.83 284.72 L62.09 281.65 L63.35 278.69 L64.6 275.86 L65.86 273.19 L67.12 270.69 L68.38 268.4 L69.63 266.32 L70.89 264.49 L72.15 262.9 L73.4 261.59 L74.66 260.55 L75.92 259.8 L77.18 259.35 L78.43 259.2 L80.55 259.99 L82.67 260.98 L84.78 262.15 L86.9 263.48 L89.01 265.02 L91.13 266.83 L93.25 268.89 L95.36 271.16 L97.48 273.62 L99.59 276.24 L101.71 278.99 L103.83 281.84 L105.94 284.78 L108.06 287.76 L110.18 290.83 L112.29 294.37 L114.41 298.3 L116.52 302.46 L118.64 306.69 L120.76 310.83 L122.87 314.72 L124.99 318.19 L127.1 321.11 L129.22 323.78 L131.34 326.39 L133.45 328.91 L135.57 331.34 L137.68 333.67 L139.8 335.88 L141.92 337.97 L144.03 339.92 L146.15 341.72 L148.26 343.36 L150.38 344.83 L152.5 346.12 L154.61 347.23 L156.73 348.27 L158.84 349.27 L160.96 350.21 L163.08 351.1 L165.19 351.91 L167.31 352.63 L169.42 353.27 L171.54 353.81 L173.66 354.24 L175.77 354.56 L177.89 354.81 L180.01 355.05 L182.12 355.27 L184.24 355.49 L186.35 355.68 L188.47 355.86 L190.59 356.02 L192.7 356.16 L194.82 356.28 L196.93 356.37 L199.05 356.44 L201.17 356.49 L203.28 356.5" fill="none" stroke="#f4a8a6" stroke-width="1.05" stroke-linejoin="round"/>
<path d="M58.51 309.31 L59.74 306.31 L60.96 303.27 L62.19 300.2 L63.41 297.12 L64.64 294.03 L65.87 290.97 L67.09 287.95 L68.32 284.98 L69.54 282.08 L70.77 279.28 L71.99 276.6 L73.22 274.04 L74.44 271.64 L75.67 269.4 L76.89 267.36 L78.12 265.51 L79.34 263.88 L80.57 262.47 L81.79 261.31 L83.02 260.39 L84.25 259.73 L85.47 259.33 L86.7 259.2 L88.67 259.97 L90.65 260.93 L92.62 262.07 L94.6 263.36 L96.58 264.84 L98.55 266.59 L100.53 268.58 L102.5 270.79 L104.48 273.18 L106.46 275.72 L108.43 278.39 L110.41 281.16 L112.38 283.99 L114.36 286.87 L116.34 289.75 L118.31 292.91 L120.29 296.43 L122.26 300.19 L124.24 304.07 L126.22 307.96 L128.19 311.75 L130.17 315.31 L132.14 318.53 L134.12 321.32 L136.1 323.96 L138.07 326.56 L140.05 329.1 L142.02 331.57 L144 333.94 L145.98 336.2 L147.95 338.33 L149.93 340.32 L151.91 342.15 L153.88 343.8 L155.86 345.26 L157.83 346.51 L159.81 347.59 L161.79 348.61 L163.76 349.59 L165.74 350.51 L167.71 351.36 L169.69 352.14 L171.67 352.83 L173.64 353.44 L175.62 353.94 L177.59 354.34 L179.57 354.64 L181.55 354.89 L183.52 355.14 L185.5 355.37 L187.47 355.59 L189.45 355.78 L191.43 355.96 L193.4 356.12 L195.38 356.25 L197.35 356.36 L199.33 356.43 L201.31 356.48 L203.28 356.5" fill="none" stroke="#ea7c7a" stroke-width="1.05" stroke-linejoin="round"/>
<path d="M67.88 308.34 L69.13 305.37 L70.39 302.36 L71.65 299.33 L72.91 296.28 L74.16 293.25 L75.42 290.24 L76.68 287.27 L77.94 284.35 L79.19 281.52 L80.45 278.78 L81.71 276.15 L82.96 273.66 L84.22 271.31 L85.48 269.13 L86.74 267.14 L87.99 265.34 L89.25 263.75 L90.51 262.38 L91.76 261.25 L93.02 260.36 L94.28 259.72 L95.54 259.33 L96.79 259.2 L98.6 259.98 L100.4 260.95 L102.21 262.09 L104.01 263.4 L105.82 264.92 L107.62 266.76 L109.43 268.86 L111.23 271.19 L113.04 273.7 L114.84 276.34 L116.65 279.07 L118.45 281.85 L120.26 284.63 L122.06 287.37 L123.87 290.02 L125.67 292.74 L127.48 295.56 L129.28 298.46 L131.09 301.41 L132.89 304.39 L134.7 307.36 L136.5 310.31 L138.31 313.2 L140.11 316.02 L141.92 318.72 L143.72 321.3 L145.53 323.92 L147.33 326.6 L149.14 329.29 L150.94 331.95 L152.75 334.56 L154.55 337.06 L156.36 339.41 L158.16 341.59 L159.96 343.54 L161.77 345.23 L163.57 346.61 L165.38 347.78 L167.18 348.88 L168.99 349.93 L170.79 350.9 L172.6 351.79 L174.4 352.58 L176.21 353.27 L178.01 353.84 L179.82 354.29 L181.62 354.61 L183.43 354.88 L185.23 355.13 L187.04 355.36 L188.84 355.58 L190.65 355.78 L192.45 355.96 L194.26 356.12 L196.06 356.25 L197.87 356.36 L199.67 356.44 L201.48 356.48 L203.28 356.5" fill="none" stroke="#c63a3a" stroke-width="1.25" stroke-linejoin="round"/>
<path d="M77.52 304.93 L78.79 302.07 L80.07 299.19 L81.35 296.3 L82.62 293.41 L83.9 290.55 L85.18 287.72 L86.46 284.94 L87.73 282.23 L89.01 279.6 L90.29 277.06 L91.57 274.64 L92.84 272.35 L94.12 270.2 L95.4 268.21 L96.67 266.39 L97.95 264.76 L99.23 263.31 L100.51 262.08 L101.78 261.05 L103.06 260.25 L104.34 259.67 L105.61 259.32 L106.89 259.2 L108.53 259.99 L110.16 260.97 L111.79 262.13 L113.43 263.45 L115.06 264.99 L116.69 266.81 L118.33 268.9 L119.96 271.19 L121.6 273.68 L123.23 276.31 L124.86 279.06 L126.5 281.88 L128.13 284.75 L129.76 287.62 L131.4 290.5 L133.03 293.64 L134.67 297.03 L136.3 300.59 L137.93 304.24 L139.57 307.89 L141.2 311.46 L142.83 314.85 L144.47 318 L146.1 320.82 L147.74 323.49 L149.37 326.15 L151 328.79 L152.64 331.36 L154.27 333.85 L155.9 336.24 L157.54 338.49 L159.17 340.57 L160.81 342.48 L162.44 344.17 L164.07 345.62 L165.71 346.81 L167.34 347.85 L168.97 348.83 L170.61 349.76 L172.24 350.62 L173.87 351.42 L175.51 352.15 L177.14 352.81 L178.78 353.38 L180.41 353.87 L182.04 354.27 L183.68 354.58 L185.31 354.84 L186.94 355.09 L188.58 355.32 L190.21 355.54 L191.85 355.75 L193.48 355.93 L195.11 356.1 L196.75 356.24 L198.38 356.35 L200.01 356.43 L201.65 356.48 L203.28 356.5" fill="none" stroke="#d9bcff" stroke-width="1.05" stroke-linejoin="round"/>
<path d="M85.78 300.07 L86.88 297.39 L87.97 294.71 L89.07 292.05 L90.17 289.41 L91.27 286.8 L92.36 284.24 L93.46 281.75 L94.56 279.32 L95.66 276.98 L96.75 274.74 L97.85 272.61 L98.95 270.6 L100.05 268.72 L101.14 266.99 L102.24 265.41 L103.34 263.99 L104.44 262.74 L105.53 261.67 L106.63 260.79 L107.73 260.1 L108.83 259.6 L109.93 259.3 L111.02 259.2 L111.68 259.72 L112.33 259.59 L112.99 262.04 L113.65 259.49 L114.3 259.33 L114.96 261.05 L115.61 259.2 L117.1 260.1 L118.58 261.25 L120.07 262.61 L121.56 264.19 L123.04 266.12 L124.53 268.4 L126.01 270.97 L127.5 273.78 L128.99 276.77 L130.47 279.89 L131.96 283.07 L133.44 286.28 L134.93 289.45 L136.42 292.79 L137.9 296.46 L139.39 300.34 L140.87 304.31 L142.36 308.26 L143.85 312.06 L145.33 315.6 L146.82 318.77 L148.3 321.48 L149.79 324.05 L151.27 326.55 L152.76 329 L154.25 331.35 L155.73 333.62 L157.22 335.78 L158.7 337.82 L160.19 339.73 L161.68 341.49 L163.16 343.1 L164.65 344.54 L166.13 345.8 L167.62 346.86 L169.11 347.82 L170.59 348.74 L172.08 349.6 L173.56 350.42 L175.05 351.18 L176.54 351.88 L178.02 352.52 L179.51 353.09 L180.99 353.59 L182.48 354.02 L183.97 354.37 L185.45 354.64 L186.94 354.89 L188.42 355.13 L189.91 355.36 L191.39 355.58 L192.88 355.77 L194.37 355.95 L195.85 356.11 L197.34 356.24 L198.82 356.35 L200.31 356.43 L201.8 356.48 L203.28 356.5" fill="none" stroke="#bb8cff" stroke-width="1.05" stroke-linejoin="round"/>
<path d="M95.88 288.39 L96.71 286.29 L97.55 284.23 L98.39 282.2 L99.23 280.22 L100.07 278.29 L100.91 276.43 L101.74 274.63 L102.58 272.9 L103.42 271.24 L104.26 269.68 L105.1 268.2 L105.93 266.82 L106.77 265.54 L107.61 264.37 L108.45 263.31 L109.29 262.36 L110.12 261.53 L110.96 260.83 L111.8 260.24 L112.64 259.79 L113.48 259.46 L114.32 259.27 L115.15 259.2 L116.33 260.26 L117.51 259.89 L118.69 259.42 L119.88 259.59 L121.06 260.59 L122.24 259.44 L123.42 259.2 L124.77 260.35 L126.12 261.86 L127.48 263.69 L128.83 266.04 L130.18 268.98 L131.54 272.38 L132.89 276.07 L134.25 279.93 L135.6 283.81 L136.95 287.55 L138.31 291.09 L139.66 294.78 L141.01 298.61 L142.37 302.5 L143.72 306.36 L145.07 310.09 L146.43 313.61 L147.78 316.83 L149.14 319.67 L150.49 322.13 L151.84 324.52 L153.2 326.83 L154.55 329.08 L155.9 331.24 L157.26 333.32 L158.61 335.3 L159.96 337.18 L161.32 338.94 L162.67 340.6 L164.03 342.12 L165.38 343.52 L166.73 344.78 L168.09 345.89 L169.44 346.85 L170.79 347.73 L172.15 348.56 L173.5 349.36 L174.86 350.11 L176.21 350.82 L177.56 351.48 L178.92 352.09 L180.27 352.65 L181.62 353.16 L182.98 353.61 L184.33 354 L185.68 354.33 L187.04 354.61 L188.39 354.85 L189.75 355.09 L191.1 355.32 L192.45 355.54 L193.81 355.74 L195.16 355.93 L196.51 356.09 L197.87 356.23 L199.22 356.34 L200.57 356.43 L201.93 356.48 L203.28 356.5" fill="none" stroke="#9a50ff" stroke-width="1.05" stroke-linejoin="round"/>
<path d="M104.6 270.88 L104.88 269.94 L105.16 269.04 L105.44 268.16 L105.71 267.33 L105.99 266.53 L106.27 265.76 L106.55 265.04 L106.83 264.35 L107.11 263.7 L107.39 263.09 L107.67 262.53 L107.95 262 L108.23 261.52 L108.51 261.09 L108.79 260.69 L109.07 260.35 L109.35 260.04 L109.63 259.79 L109.91 259.58 L110.18 259.41 L110.46 259.29 L110.74 259.22 L111.02 259.2 L113.38 259.62 L115.74 259.9 L118.1 261.14 L120.47 260.02 L122.83 260.54 L125.19 261.37 L127.55 259.2 L128.83 260.24 L130.11 261.59 L131.4 263.22 L132.68 265.17 L133.97 267.6 L135.25 270.43 L136.53 273.57 L137.82 276.96 L139.1 280.5 L140.38 284.13 L141.67 287.77 L142.95 291.46 L144.23 295.66 L145.52 300.23 L146.8 304.94 L148.09 309.56 L149.37 313.87 L150.65 317.63 L151.94 320.62 L153.22 323.14 L154.5 325.56 L155.79 327.87 L157.07 330.07 L158.35 332.16 L159.64 334.14 L160.92 336.01 L162.21 337.77 L163.49 339.41 L164.77 340.94 L166.06 342.35 L167.34 343.64 L168.62 344.82 L169.91 345.87 L171.19 346.8 L172.47 347.65 L173.76 348.46 L175.04 349.24 L176.33 349.98 L177.61 350.67 L178.89 351.32 L180.18 351.93 L181.46 352.48 L182.74 352.99 L184.03 353.45 L185.31 353.86 L186.59 354.21 L187.88 354.5 L189.16 354.76 L190.45 355.01 L191.73 355.25 L193.01 355.47 L194.3 355.69 L195.58 355.88 L196.86 356.06 L198.15 356.21 L199.43 356.33 L200.71 356.42 L202 356.48 L203.28 356.5" fill="none" stroke="#4f1cb2" stroke-width="1.25" stroke-linejoin="round"/>
<rect x="20.6" y="209.9" width="183.6" height="146.6" fill="none" stroke="#000" stroke-width="1.1"/>
<line x1="20.6" y1="356.5" x2="20.6" y2="359.7" stroke="#000" stroke-width="0.9"/>
<line x1="43.55" y1="356.5" x2="43.55" y2="358.4" stroke="#000" stroke-width="0.9"/>
<line x1="66.5" y1="356.5" x2="66.5" y2="359.7" stroke="#000" stroke-width="0.9"/>
<line x1="89.45" y1="356.5" x2="89.45" y2="358.4" stroke="#000" stroke-width="0.9"/>
<line x1="112.4" y1="356.5" x2="112.4" y2="359.7" stroke="#000" stroke-width="0.9"/>
<line x1="135.35" y1="356.5" x2="135.35" y2="358.4" stroke="#000" stroke-width="0.9"/>
<line x1="158.3" y1="356.5" x2="158.3" y2="359.7" stroke="#000" stroke-width="0.9"/>
<line x1="181.25" y1="356.5" x2="181.25" y2="358.4" stroke="#000" stroke-width="0.9"/>
<line x1="204.2" y1="356.5" x2="204.2" y2="359.7" stroke="#000" stroke-width="0.9"/>
<text x="20.6" y="369.4" font-size="10.1" font-weight="bold" text-anchor="middle" fill="#000" stroke="#000" stroke-width="0.3">400</text>
<text x="66.5" y="369.4" font-size="10.1" font-weight="bold" text-anchor="middle" fill="#000" stroke="#000" stroke-width="0.3">500</text>
<text x="112.4" y="369.4" font-size="10.1" font-weight="bold" text-anchor="middle" fill="#000" stroke="#000" stroke-width="0.3">600</text>
<text x="158.3" y="369.4" font-size="10.1" font-weight="bold" text-anchor="middle" fill="#000" stroke="#000" stroke-width="0.3">700</text>
<text x="204.2" y="369.4" font-size="10.1" font-weight="bold" text-anchor="middle" fill="#000" stroke="#000" stroke-width="0.3">800</text>
<text x="50.4" y="386" font-size="16.2" font-weight="bold" text-anchor="start" fill="#000" stroke="#000" stroke-width="0.3" textLength="123.2" lengthAdjust="spacingAndGlyphs">Wavelength (nm)</text>
<text x="12.7" y="280.1" font-size="15" font-weight="bold" text-anchor="middle" fill="#000" stroke="#000" stroke-width="0.3" transform="rotate(-90 12.7 280.1)" textLength="144" lengthAdjust="spacingAndGlyphs">Normalized Intensity</text>
<line x1="158" y1="217.1" x2="174.8" y2="217.1" stroke="#f7bfe6" stroke-width="1.1"/>
<text x="177.2" y="219.5" font-size="6.7" font-weight="bold" text-anchor="start" fill="#000" stroke="#000" stroke-width="0.2" textLength="25" lengthAdjust="spacingAndGlyphs">360 nm</text>
<line x1="158" y1="226.22" x2="174.8" y2="226.22" stroke="#f591d8" stroke-width="1.1"/>
<text x="177.2" y="228.62" font-size="6.7" font-weight="bold" text-anchor="start" fill="#000" stroke="#000" stroke-width="0.2" textLength="25" lengthAdjust="spacingAndGlyphs">380 nm</text>
<line x1="158" y1="235.34" x2="174.8" y2="235.34" stroke="#ee62c6" stroke-width="1.1"/>
<text x="177.2" y="237.74" font-size="6.7" font-weight="bold" text-anchor="start" fill="#000" stroke="#000" stroke-width="0.2" textLength="25" lengthAdjust="spacingAndGlyphs">400 nm</text>
<line x1="158" y1="244.46" x2="174.8" y2="244.46" stroke="#9a1a6c" stroke-width="1.3"/>
<text x="177.2" y="246.86" font-size="6.7" font-weight="bold" text-anchor="start" fill="#000" stroke="#000" stroke-width="0.2" textLength="25" lengthAdjust="spacingAndGlyphs">420 nm</text>
<line x1="158" y1="253.58" x2="174.8" y2="253.58" stroke="#f4a8a6" stroke-width="1.1"/>
<text x="177.2" y="255.98" font-size="6.7" font-weight="bold" text-anchor="start" fill="#000" stroke="#000" stroke-width="0.2" textLength="25" lengthAdjust="spacingAndGlyphs">440 nm</text>
<line x1="158" y1="262.7" x2="174.8" y2="262.7" stroke="#ea7c7a" stroke-width="1.1"/>
<text x="177.2" y="265.1" font-size="6.7" font-weight="bold" text-anchor="start" fill="#000" stroke="#000" stroke-width="0.2" textLength="25" lengthAdjust="spacingAndGlyphs">460 nm</text>
<line x1="158" y1="271.82" x2="174.8" y2="271.82" stroke="#c63a3a" stroke-width="1.3"/>
<text x="177.2" y="274.22" font-size="6.7" font-weight="bold" text-anchor="start" fill="#000" stroke="#000" stroke-width="0.2" textLength="25" lengthAdjust="spacingAndGlyphs">480 nm</text>
<line x1="158" y1="280.94" x2="174.8" y2="280.94" stroke="#d9bcff" stroke-width="1.1"/>
<text x="177.2" y="283.34" font-size="6.7" font-weight="bold" text-anchor="start" fill="#000" stroke="#000" stroke-width="0.2" textLength="25" lengthAdjust="spacingAndGlyphs">500 nm</text>
<line x1="158" y1="290.06" x2="174.8" y2="290.06" stroke="#bb8cff" stroke-width="1.1"/>
<text x="177.2" y="292.46" font-size="6.7" font-weight="bold" text-anchor="start" fill="#000" stroke="#000" stroke-width="0.2" textLength="25" lengthAdjust="spacingAndGlyphs">520 nm</text>
<line x1="158" y1="299.18" x2="174.8" y2="299.18" stroke="#9a50ff" stroke-width="1.1"/>
<text x="177.2" y="301.58" font-size="6.7" font-weight="bold" text-anchor="start" fill="#000" stroke="#000" stroke-width="0.2" textLength="25" lengthAdjust="spacingAndGlyphs">540 nm</text>
<line x1="158" y1="308.3" x2="174.8" y2="308.3" stroke="#4f1cb2" stroke-width="1.3"/>
<text x="177.2" y="310.7" font-size="6.7" font-weight="bold" text-anchor="start" fill="#000" stroke="#000" stroke-width="0.2" textLength="25" lengthAdjust="spacingAndGlyphs">560 nm</text>
<text x="47.4" y="246" font-size="6.9" font-weight="bold" text-anchor="start" fill="#f28dd2" stroke="#f28dd2" stroke-width="0.2" textLength="23.9" lengthAdjust="spacingAndGlyphs">454 nm</text>
<text x="102.6" y="246" font-size="6.9" font-weight="bold" text-anchor="start" fill="#5a28a8" stroke="#5a28a8" stroke-width="0.2" textLength="24.5" lengthAdjust="spacingAndGlyphs">632 nm</text>
<line x1="75.2" y1="243.5" x2="96" y2="243.5" stroke="#f0707c" stroke-width="0.8"/>
<path d="M94.5 241.7L100 243.5L94.5 245.3Z" fill="#f0606c"/>
<text x="5.2" y="204" font-size="12.6" font-weight="bold" text-anchor="start" fill="#000" stroke="#000" stroke-width="0.3">d</text>
</g>
<g id="panel_e">
<defs><linearGradient id="arr" x1="0" y1="0" x2="1" y2="0"><stop offset="0" stop-color="#ffffff"/><stop offset="0.08" stop-color="#f4f8ff"/><stop offset="0.22" stop-color="#cfe0fc"/><stop offset="0.36" stop-color="#9cbcf6"/><stop offset="0.5" stop-color="#6e98f0"/><stop offset="0.62" stop-color="#4c76e8"/><stop offset="0.72" stop-color="#8e9c96"/><stop offset="0.8" stop-color="#d8e04e"/><stop offset="1" stop-color="#e8ee3e"/></linearGradient><radialGradient id="b1" cx="0.45" cy="0.6" r="0.7"><stop offset="0" stop-color="#5b7a94"/><stop offset="0.8" stop-color="#4a6781"/><stop offset="1" stop-color="#6a8ca6"/></radialGradient><radialGradient id="b2" cx="0.45" cy="0.6" r="0.7"><stop offset="0" stop-color="#5096dc"/><stop offset="0.8" stop-color="#448ad4"/><stop offset="1" stop-color="#64b4ea"/></radialGradient><radialGradient id="b3" cx="0.45" cy="0.6" r="0.7"><stop offset="0" stop-color="#56b0f0"/><stop offset="0.8" stop-color="#48a4ea"/><stop offset="1" stop-color="#74d2f6"/></radialGradient><radialGradient id="b4" cx="0.45" cy="0.6" r="0.7"><stop offset="0" stop-color="#58a4ee"/><stop offset="0.8" stop-color="#4a96e8"/><stop offset="1" stop-color="#5aa4ee"/></radialGradient><radialGradient id="b5" cx="0.45" cy="0.6" r="0.7"><stop offset="0" stop-color="#70aeec"/><stop offset="0.8" stop-color="#62a0e6"/><stop offset="1" stop-color="#5c92dc"/></radialGradient><radialGradient id="b6" cx="0.45" cy="0.6" r="0.7"><stop offset="0" stop-color="#98c2cc"/><stop offset="0.8" stop-color="#8ab6c6"/><stop offset="1" stop-color="#80aabe"/></radialGradient><filter id="bl" x="-5%" y="-5%" width="110%" height="110%"><feGaussianBlur stdDeviation="0.45"/></filter><filter id="bl2" x="-5%" y="-5%" width="110%" height="110%"><feGaussianBlur stdDeviation="0.7"/></filter><filter id="bl3" x="-50%" y="-50%" width="200%" height="200%"><feGaussianBlur stdDeviation="1.2"/></filter></defs>
<rect x="220.9" y="211" width="235.8" height="70" fill="#000"/>
<rect x="220.9" y="285.3" width="235.8" height="67.9" fill="#000"/>
<path d="M228.4 244.98C228.14 243.82 229.11 242.55 229.56 241.09C230.02 239.63 230.34 237.62 231.12 236.22C231.9 234.83 233.07 233.27 234.24 232.72C235.4 232.17 236.83 232.43 238.13 232.91C239.43 233.4 240.5 234.76 242.02 235.64C243.55 236.52 245.59 237.42 247.28 238.17C248.96 238.92 251.07 240.6 252.14 240.12C253.21 239.63 253.18 237.2 253.7 235.25C254.22 233.3 254.54 230.77 255.26 228.44C255.97 226.1 256.88 223.28 257.98 221.24C259.09 219.19 260.51 217.28 261.88 216.18C263.24 215.07 264.73 214.52 266.16 214.62C267.59 214.72 269.27 215.53 270.44 216.76C271.61 217.99 272.42 220.07 273.17 222.01C273.91 223.96 274.46 226.39 274.92 228.44C275.37 230.48 275.73 232.49 275.89 234.28C276.05 236.06 275.73 237.42 275.89 239.14C276.05 240.86 276.34 243.1 276.86 244.59C277.38 246.09 278.1 247.42 279 248.1C279.91 248.78 281.02 248.88 282.31 248.68C283.61 248.49 285.4 247.38 286.79 246.93C288.19 246.48 289.45 245.96 290.68 245.96C291.92 245.96 293.28 246.22 294.19 246.93C295.1 247.64 295.94 249.07 296.13 250.24C296.33 251.41 295.94 253 295.36 253.94C294.77 254.88 293.73 255.4 292.63 255.88C291.53 256.37 289.97 256.37 288.74 256.86C287.5 257.34 286.27 257.93 285.23 258.8C284.2 259.68 283.48 260.81 282.51 262.11C281.54 263.41 280.56 265.23 279.39 266.59C278.23 267.95 276.96 269.22 275.5 270.29C274.04 271.36 272.42 272.36 270.64 273.01C268.85 273.66 266.74 274.05 264.8 274.18C262.85 274.31 260.9 274.18 258.96 273.79C257.01 273.4 254.9 272.75 253.12 271.84C251.33 270.94 249.81 269.7 248.25 268.34C246.69 266.98 245.04 265.26 243.77 263.67C242.51 262.08 241.47 260.42 240.66 258.8C239.85 257.18 239.39 255.4 238.91 253.94C238.42 252.48 238.45 250.82 237.74 250.04C237.03 249.27 235.73 249.59 234.63 249.27C233.52 248.94 232.16 248.81 231.12 248.1C230.08 247.38 228.66 246.15 228.4 244.98Z" fill="url(#b1)" stroke="#9ab6c8" stroke-width="0.5" filter="url(#bl)"/>
<path d="M228.4 244.98C228.14 243.82 229.11 242.55 229.56 241.09C230.02 239.63 230.34 237.62 231.12 236.22C231.9 234.83 233.07 233.27 234.24 232.72C235.4 232.17 236.83 232.43 238.13 232.91C239.43 233.4 240.5 234.76 242.02 235.64C243.55 236.52 245.59 237.42 247.28 238.17C248.96 238.92 251.07 240.6 252.14 240.12C253.21 239.63 253.18 237.2 253.7 235.25C254.22 233.3 254.54 230.77 255.26 228.44C255.97 226.1 256.88 223.28 257.98 221.24C259.09 219.19 260.51 217.28 261.88 216.18C263.24 215.07 264.73 214.52 266.16 214.62C267.59 214.72 269.27 215.53 270.44 216.76C271.61 217.99 272.42 220.07 273.17 222.01C273.91 223.96 274.46 226.39 274.92 228.44C275.37 230.48 275.73 232.49 275.89 234.28C276.05 236.06 275.73 237.42 275.89 239.14C276.05 240.86 276.34 243.1 276.86 244.59C277.38 246.09 278.1 247.42 279 248.1C279.91 248.78 281.02 248.88 282.31 248.68C283.61 248.49 285.4 247.38 286.79 246.93C288.19 246.48 289.45 245.96 290.68 245.96C291.92 245.96 293.28 246.22 294.19 246.93C295.1 247.64 295.94 249.07 296.13 250.24C296.33 251.41 295.94 253 295.36 253.94C294.77 254.88 293.73 255.4 292.63 255.88C291.53 256.37 289.97 256.37 288.74 256.86C287.5 257.34 286.27 257.93 285.23 258.8C284.2 259.68 283.48 260.81 282.51 262.11C281.54 263.41 280.56 265.23 279.39 266.59C278.23 267.95 276.96 269.22 275.5 270.29C274.04 271.36 272.42 272.36 270.64 273.01C268.85 273.66 266.74 274.05 264.8 274.18C262.85 274.31 260.9 274.18 258.96 273.79C257.01 273.4 254.9 272.75 253.12 271.84C251.33 270.94 249.81 269.7 248.25 268.34C246.69 266.98 245.04 265.26 243.77 263.67C242.51 262.08 241.47 260.42 240.66 258.8C239.85 257.18 239.39 255.4 238.91 253.94C238.42 252.48 238.45 250.82 237.74 250.04C237.03 249.27 235.73 249.59 234.63 249.27C233.52 248.94 232.16 248.81 231.12 248.1C230.08 247.38 228.66 246.15 228.4 244.98Z" fill="none" stroke="#a8c4d2" stroke-width="0.55" opacity="0.75"/>
<ellipse cx="237.44" cy="238.72" rx="3.6" ry="2.8" fill="#4a86e0" opacity="0.6" filter="url(#bl3)"/>
<g fill="#b8d0dc" opacity="0.6"><circle cx="265.16" cy="251.35" r="0.44"/><circle cx="263.25" cy="242.42" r="0.45"/><circle cx="274.95" cy="251.22" r="0.58"/><circle cx="272.77" cy="240.79" r="0.33"/><circle cx="276.69" cy="242.16" r="0.35"/><circle cx="263.95" cy="249.76" r="0.34"/><circle cx="262.81" cy="254.26" r="0.53"/><circle cx="268.05" cy="244.02" r="0.4"/><circle cx="266.99" cy="252.2" r="0.51"/><circle cx="262.87" cy="249.33" r="0.44"/><circle cx="252.35" cy="258.23" r="0.52"/><circle cx="255.71" cy="244.57" r="0.58"/><circle cx="272.63" cy="249.9" r="0.37"/><circle cx="265.41" cy="248.4" r="0.41"/><circle cx="271.62" cy="253.36" r="0.32"/><circle cx="261.09" cy="262.8" r="0.57"/><circle cx="267.7" cy="240.83" r="0.48"/><circle cx="261.55" cy="253.79" r="0.43"/><circle cx="264.44" cy="248.34" r="0.31"/><circle cx="265.64" cy="244.09" r="0.51"/><circle cx="263.14" cy="236.27" r="0.42"/><circle cx="255.49" cy="260.51" r="0.53"/><circle cx="256.27" cy="239.89" r="0.49"/><circle cx="272.31" cy="248.65" r="0.52"/><circle cx="272.21" cy="248.33" r="0.48"/><circle cx="258.13" cy="257.01" r="0.32"/></g>
<path d="M306.5 243.98C306.24 242.82 307.21 241.55 307.66 240.09C308.12 238.63 308.44 236.62 309.22 235.22C310 233.83 311.17 232.27 312.34 231.72C313.5 231.17 314.93 231.43 316.23 231.91C317.53 232.4 318.6 233.76 320.12 234.64C321.65 235.52 323.69 236.42 325.38 237.17C327.06 237.92 329.17 239.6 330.24 239.12C331.31 238.63 331.28 236.2 331.8 234.25C332.32 232.3 332.64 229.77 333.36 227.44C334.07 225.1 334.98 222.28 336.08 220.24C337.19 218.19 338.61 216.28 339.98 215.18C341.34 214.07 342.83 213.52 344.26 213.62C345.69 213.72 347.37 214.53 348.54 215.76C349.71 216.99 350.52 219.07 351.27 221.01C352.01 222.96 352.56 225.39 353.02 227.44C353.47 229.48 353.83 231.49 353.99 233.28C354.15 235.06 353.83 236.42 353.99 238.14C354.15 239.86 354.44 242.1 354.96 243.59C355.48 245.09 356.2 246.42 357.1 247.1C358.01 247.78 359.12 247.88 360.41 247.68C361.71 247.49 363.5 246.38 364.89 245.93C366.29 245.48 367.55 244.96 368.78 244.96C370.02 244.96 371.38 245.22 372.29 245.93C373.2 246.64 374.04 248.07 374.23 249.24C374.43 250.41 374.04 252 373.46 252.94C372.87 253.88 371.83 254.4 370.73 254.88C369.63 255.37 368.07 255.37 366.84 255.86C365.6 256.34 364.37 256.93 363.33 257.8C362.3 258.68 361.58 259.81 360.61 261.11C359.64 262.41 358.66 264.23 357.49 265.59C356.33 266.95 355.06 268.22 353.6 269.29C352.14 270.36 350.52 271.36 348.74 272.01C346.95 272.66 344.84 273.05 342.9 273.18C340.95 273.31 339 273.18 337.06 272.79C335.11 272.4 333 271.75 331.22 270.84C329.43 269.94 327.91 268.7 326.35 267.34C324.79 265.98 323.14 264.26 321.87 262.67C320.61 261.08 319.57 259.42 318.76 257.8C317.95 256.18 317.49 254.4 317.01 252.94C316.52 251.48 316.55 249.82 315.84 249.04C315.13 248.27 313.83 248.59 312.73 248.27C311.62 247.94 310.26 247.81 309.22 247.1C308.18 246.38 306.76 245.15 306.5 243.98Z" fill="url(#b2)" stroke="#7cc8ee" stroke-width="0.5" filter="url(#bl)"/>
<path d="M306.5 243.98C306.24 242.82 307.21 241.55 307.66 240.09C308.12 238.63 308.44 236.62 309.22 235.22C310 233.83 311.17 232.27 312.34 231.72C313.5 231.17 314.93 231.43 316.23 231.91C317.53 232.4 318.6 233.76 320.12 234.64C321.65 235.52 323.69 236.42 325.38 237.17C327.06 237.92 329.17 239.6 330.24 239.12C331.31 238.63 331.28 236.2 331.8 234.25C332.32 232.3 332.64 229.77 333.36 227.44C334.07 225.1 334.98 222.28 336.08 220.24C337.19 218.19 338.61 216.28 339.98 215.18C341.34 214.07 342.83 213.52 344.26 213.62C345.69 213.72 347.37 214.53 348.54 215.76C349.71 216.99 350.52 219.07 351.27 221.01C352.01 222.96 352.56 225.39 353.02 227.44C353.47 229.48 353.83 231.49 353.99 233.28C354.15 235.06 353.83 236.42 353.99 238.14C354.15 239.86 354.44 242.1 354.96 243.59C355.48 245.09 356.2 246.42 357.1 247.1C358.01 247.78 359.12 247.88 360.41 247.68C361.71 247.49 363.5 246.38 364.89 245.93C366.29 245.48 367.55 244.96 368.78 244.96C370.02 244.96 371.38 245.22 372.29 245.93C373.2 246.64 374.04 248.07 374.23 249.24C374.43 250.41 374.04 252 373.46 252.94C372.87 253.88 371.83 254.4 370.73 254.88C369.63 255.37 368.07 255.37 366.84 255.86C365.6 256.34 364.37 256.93 363.33 257.8C362.3 258.68 361.58 259.81 360.61 261.11C359.64 262.41 358.66 264.23 357.49 265.59C356.33 266.95 355.06 268.22 353.6 269.29C352.14 270.36 350.52 271.36 348.74 272.01C346.95 272.66 344.84 273.05 342.9 273.18C340.95 273.31 339 273.18 337.06 272.79C335.11 272.4 333 271.75 331.22 270.84C329.43 269.94 327.91 268.7 326.35 267.34C324.79 265.98 323.14 264.26 321.87 262.67C320.61 261.08 319.57 259.42 318.76 257.8C317.95 256.18 317.49 254.4 317.01 252.94C316.52 251.48 316.55 249.82 315.84 249.04C315.13 248.27 313.83 248.59 312.73 248.27C311.62 247.94 310.26 247.81 309.22 247.1C308.18 246.38 306.76 245.15 306.5 243.98Z" fill="none" stroke="#8ed4f2" stroke-width="0.55" opacity="0.75"/>
<ellipse cx="315.54" cy="237.72" rx="3.6" ry="2.8" fill="#58b4f4" opacity="0.6" filter="url(#bl3)"/>
<g fill="#9fd8f6" opacity="0.6"><circle cx="356.72" cy="250.99" r="0.44"/><circle cx="332.93" cy="241.02" r="0.43"/><circle cx="339.5" cy="252.68" r="0.54"/><circle cx="349.62" cy="239.02" r="0.56"/><circle cx="334.92" cy="240.16" r="0.36"/><circle cx="343.67" cy="242.57" r="0.43"/><circle cx="338" cy="258.66" r="0.5"/><circle cx="336.02" cy="246.41" r="0.37"/><circle cx="346.93" cy="244.12" r="0.43"/><circle cx="348.96" cy="253.01" r="0.33"/><circle cx="335.38" cy="259.3" r="0.59"/><circle cx="338.01" cy="245.25" r="0.5"/><circle cx="332.42" cy="240.1" r="0.46"/><circle cx="350.6" cy="245.19" r="0.39"/><circle cx="326.85" cy="247.8" r="0.52"/><circle cx="332.38" cy="249.84" r="0.49"/><circle cx="332.2" cy="252.67" r="0.59"/><circle cx="356.52" cy="244.02" r="0.34"/><circle cx="334.91" cy="246.91" r="0.57"/><circle cx="336.5" cy="262.63" r="0.37"/><circle cx="328.3" cy="256.48" r="0.48"/><circle cx="352.84" cy="245.47" r="0.37"/><circle cx="340.31" cy="240.24" r="0.45"/><circle cx="345.68" cy="252.42" r="0.58"/><circle cx="358.76" cy="245.5" r="0.41"/><circle cx="353.58" cy="252.31" r="0.52"/></g>
<path d="M383 243.98C382.74 242.82 383.71 241.55 384.16 240.09C384.62 238.63 384.94 236.62 385.72 235.22C386.5 233.83 387.67 232.27 388.84 231.72C390 231.17 391.43 231.43 392.73 231.91C394.03 232.4 395.1 233.76 396.62 234.64C398.15 235.52 400.19 236.42 401.88 237.17C403.56 237.92 405.67 239.6 406.74 239.12C407.81 238.63 407.78 236.2 408.3 234.25C408.82 232.3 409.14 229.77 409.86 227.44C410.57 225.1 411.48 222.28 412.58 220.24C413.69 218.19 415.11 216.28 416.48 215.18C417.84 214.07 419.33 213.52 420.76 213.62C422.19 213.72 423.87 214.53 425.04 215.76C426.21 216.99 427.02 219.07 427.77 221.01C428.51 222.96 429.06 225.39 429.52 227.44C429.97 229.48 430.33 231.49 430.49 233.28C430.65 235.06 430.33 236.42 430.49 238.14C430.65 239.86 430.94 242.1 431.46 243.59C431.98 245.09 432.7 246.42 433.6 247.1C434.51 247.78 435.62 247.88 436.91 247.68C438.21 247.49 440 246.38 441.39 245.93C442.79 245.48 444.05 244.96 445.28 244.96C446.52 244.96 447.88 245.22 448.79 245.93C449.7 246.64 450.54 248.07 450.73 249.24C450.93 250.41 450.54 252 449.96 252.94C449.37 253.88 448.33 254.4 447.23 254.88C446.13 255.37 444.57 255.37 443.34 255.86C442.1 256.34 440.87 256.93 439.83 257.8C438.8 258.68 438.08 259.81 437.11 261.11C436.14 262.41 435.16 264.23 433.99 265.59C432.83 266.95 431.56 268.22 430.1 269.29C428.64 270.36 427.02 271.36 425.24 272.01C423.45 272.66 421.34 273.05 419.4 273.18C417.45 273.31 415.5 273.18 413.56 272.79C411.61 272.4 409.5 271.75 407.72 270.84C405.93 269.94 404.41 268.7 402.85 267.34C401.29 265.98 399.64 264.26 398.37 262.67C397.11 261.08 396.07 259.42 395.26 257.8C394.45 256.18 393.99 254.4 393.51 252.94C393.02 251.48 393.05 249.82 392.34 249.04C391.63 248.27 390.33 248.59 389.23 248.27C388.12 247.94 386.76 247.81 385.72 247.1C384.68 246.38 383.26 245.15 383 243.98Z" fill="url(#b3)" stroke="#8adcf8" stroke-width="0.6" filter="url(#bl)"/>
<path d="M383 243.98C382.74 242.82 383.71 241.55 384.16 240.09C384.62 238.63 384.94 236.62 385.72 235.22C386.5 233.83 387.67 232.27 388.84 231.72C390 231.17 391.43 231.43 392.73 231.91C394.03 232.4 395.1 233.76 396.62 234.64C398.15 235.52 400.19 236.42 401.88 237.17C403.56 237.92 405.67 239.6 406.74 239.12C407.81 238.63 407.78 236.2 408.3 234.25C408.82 232.3 409.14 229.77 409.86 227.44C410.57 225.1 411.48 222.28 412.58 220.24C413.69 218.19 415.11 216.28 416.48 215.18C417.84 214.07 419.33 213.52 420.76 213.62C422.19 213.72 423.87 214.53 425.04 215.76C426.21 216.99 427.02 219.07 427.77 221.01C428.51 222.96 429.06 225.39 429.52 227.44C429.97 229.48 430.33 231.49 430.49 233.28C430.65 235.06 430.33 236.42 430.49 238.14C430.65 239.86 430.94 242.1 431.46 243.59C431.98 245.09 432.7 246.42 433.6 247.1C434.51 247.78 435.62 247.88 436.91 247.68C438.21 247.49 440 246.38 441.39 245.93C442.79 245.48 444.05 244.96 445.28 244.96C446.52 244.96 447.88 245.22 448.79 245.93C449.7 246.64 450.54 248.07 450.73 249.24C450.93 250.41 450.54 252 449.96 252.94C449.37 253.88 448.33 254.4 447.23 254.88C446.13 255.37 444.57 255.37 443.34 255.86C442.1 256.34 440.87 256.93 439.83 257.8C438.8 258.68 438.08 259.81 437.11 261.11C436.14 262.41 435.16 264.23 433.99 265.59C432.83 266.95 431.56 268.22 430.1 269.29C428.64 270.36 427.02 271.36 425.24 272.01C423.45 272.66 421.34 273.05 419.4 273.18C417.45 273.31 415.5 273.18 413.56 272.79C411.61 272.4 409.5 271.75 407.72 270.84C405.93 269.94 404.41 268.7 402.85 267.34C401.29 265.98 399.64 264.26 398.37 262.67C397.11 261.08 396.07 259.42 395.26 257.8C394.45 256.18 393.99 254.4 393.51 252.94C393.02 251.48 393.05 249.82 392.34 249.04C391.63 248.27 390.33 248.59 389.23 248.27C388.12 247.94 386.76 247.81 385.72 247.1C384.68 246.38 383.26 245.15 383 243.98Z" fill="none" stroke="#9ce6fa" stroke-width="0.55" opacity="0.75"/>
<ellipse cx="392.04" cy="237.72" rx="3.6" ry="2.8" fill="#6cc8fa" opacity="0.6" filter="url(#bl3)"/>
<g fill="#a8e8fc" opacity="0.6"><circle cx="418" cy="247.95" r="0.37"/><circle cx="418.69" cy="247.59" r="0.55"/><circle cx="425.69" cy="249.1" r="0.32"/><circle cx="433.31" cy="247.9" r="0.44"/><circle cx="403.47" cy="251.41" r="0.41"/><circle cx="430.71" cy="252.99" r="0.39"/><circle cx="412.47" cy="236.36" r="0.41"/><circle cx="419.34" cy="251.41" r="0.55"/><circle cx="433.77" cy="256.34" r="0.51"/><circle cx="431.81" cy="242.63" r="0.36"/><circle cx="426.72" cy="262.53" r="0.39"/><circle cx="420.55" cy="245.28" r="0.39"/><circle cx="416.33" cy="244.47" r="0.53"/><circle cx="424.86" cy="244.84" r="0.39"/><circle cx="428.46" cy="250.91" r="0.32"/><circle cx="407.63" cy="244.27" r="0.47"/><circle cx="409.85" cy="243.13" r="0.57"/><circle cx="404.28" cy="246.87" r="0.41"/><circle cx="423.06" cy="253.53" r="0.54"/><circle cx="421.11" cy="261.91" r="0.57"/><circle cx="415.11" cy="248.43" r="0.49"/><circle cx="407.75" cy="259.12" r="0.37"/><circle cx="420.31" cy="258.45" r="0.45"/><circle cx="422.56" cy="256.46" r="0.5"/><circle cx="416.98" cy="249.87" r="0.42"/><circle cx="410.94" cy="253.8" r="0.31"/></g>
<path d="M229.77 321.3C229.44 320.2 230.12 318.54 230.35 317.02C230.58 315.49 230.55 313.67 231.13 312.14C231.71 310.62 232.82 308.64 233.86 307.86C234.9 307.08 236.13 307.24 237.36 307.47C238.6 307.7 239.61 308.61 241.26 309.22C242.92 309.84 245.35 310.65 247.3 311.17C249.25 311.69 251.81 313.15 252.95 312.34C254.09 311.53 253.66 308.61 254.12 306.3C254.57 304 255 300.94 255.68 298.51C256.36 296.07 257.17 293.54 258.21 291.69C259.25 289.84 260.45 287.79 261.91 287.4C263.37 287.01 265.42 287.86 266.98 289.35C268.54 290.84 270.06 293.9 271.26 296.36C272.46 298.83 273.5 301.69 274.19 304.16C274.87 306.63 274.83 309.09 275.35 311.17C275.87 313.25 276.3 315.39 277.3 316.63C278.31 317.86 279.74 318.64 281.39 318.57C283.05 318.51 285.48 317.05 287.24 316.24C288.99 315.42 290.45 313.9 291.91 313.7C293.37 313.51 294.9 314.03 296 315.07C297.11 316.11 298.34 318.38 298.54 319.94C298.73 321.5 298.21 323.57 297.17 324.42C296.13 325.26 293.89 324.74 292.3 325C290.71 325.26 288.8 325.33 287.63 325.98C286.46 326.63 286 327.6 285.29 328.9C284.58 330.2 284.32 332.02 283.34 333.77C282.37 335.52 281.07 337.73 279.45 339.42C277.82 341.11 275.87 342.83 273.6 343.9C271.33 344.97 268.41 345.62 265.81 345.85C263.21 346.08 260.61 345.91 258.02 345.26C255.42 344.61 252.5 343.25 250.22 341.95C247.95 340.65 246 339.19 244.38 337.47C242.75 335.75 241.46 333.48 240.48 331.63C239.51 329.78 239.25 327.7 238.53 326.37C237.82 325.04 237.23 324.09 236.2 323.64C235.16 323.18 233.37 324.03 232.3 323.64C231.23 323.25 230.09 322.41 229.77 321.3Z" fill="url(#b4)" stroke="#6cb4f4" stroke-width="0.4" filter="url(#bl)"/>
<path d="M229.77 321.3C229.44 320.2 230.12 318.54 230.35 317.02C230.58 315.49 230.55 313.67 231.13 312.14C231.71 310.62 232.82 308.64 233.86 307.86C234.9 307.08 236.13 307.24 237.36 307.47C238.6 307.7 239.61 308.61 241.26 309.22C242.92 309.84 245.35 310.65 247.3 311.17C249.25 311.69 251.81 313.15 252.95 312.34C254.09 311.53 253.66 308.61 254.12 306.3C254.57 304 255 300.94 255.68 298.51C256.36 296.07 257.17 293.54 258.21 291.69C259.25 289.84 260.45 287.79 261.91 287.4C263.37 287.01 265.42 287.86 266.98 289.35C268.54 290.84 270.06 293.9 271.26 296.36C272.46 298.83 273.5 301.69 274.19 304.16C274.87 306.63 274.83 309.09 275.35 311.17C275.87 313.25 276.3 315.39 277.3 316.63C278.31 317.86 279.74 318.64 281.39 318.57C283.05 318.51 285.48 317.05 287.24 316.24C288.99 315.42 290.45 313.9 291.91 313.7C293.37 313.51 294.9 314.03 296 315.07C297.11 316.11 298.34 318.38 298.54 319.94C298.73 321.5 298.21 323.57 297.17 324.42C296.13 325.26 293.89 324.74 292.3 325C290.71 325.26 288.8 325.33 287.63 325.98C286.46 326.63 286 327.6 285.29 328.9C284.58 330.2 284.32 332.02 283.34 333.77C282.37 335.52 281.07 337.73 279.45 339.42C277.82 341.11 275.87 342.83 273.6 343.9C271.33 344.97 268.41 345.62 265.81 345.85C263.21 346.08 260.61 345.91 258.02 345.26C255.42 344.61 252.5 343.25 250.22 341.95C247.95 340.65 246 339.19 244.38 337.47C242.75 335.75 241.46 333.48 240.48 331.63C239.51 329.78 239.25 327.7 238.53 326.37C237.82 325.04 237.23 324.09 236.2 323.64C235.16 323.18 233.37 324.03 232.3 323.64C231.23 323.25 230.09 322.41 229.77 321.3Z" fill="none" stroke="#7cc0f6" stroke-width="0.55" opacity="0.75"/>
<g fill="#90ccf8" opacity="0.6"><circle cx="262.21" cy="336.71" r="0.56"/><circle cx="277.72" cy="317.9" r="0.43"/><circle cx="271.44" cy="319.93" r="0.48"/><circle cx="256.5" cy="317.99" r="0.38"/><circle cx="258.63" cy="332.03" r="0.39"/><circle cx="260" cy="328.37" r="0.4"/><circle cx="269.94" cy="313.75" r="0.31"/><circle cx="264.11" cy="313.15" r="0.53"/><circle cx="257.17" cy="322.63" r="0.55"/><circle cx="267.89" cy="327.83" r="0.45"/><circle cx="267.06" cy="319.85" r="0.4"/><circle cx="251.98" cy="320.1" r="0.33"/><circle cx="265.04" cy="312.45" r="0.46"/><circle cx="259.13" cy="326.94" r="0.57"/><circle cx="269.69" cy="322.23" r="0.36"/><circle cx="257.65" cy="311.62" r="0.55"/><circle cx="262.83" cy="327.15" r="0.32"/><circle cx="256.57" cy="329.43" r="0.56"/><circle cx="267.74" cy="322.97" r="0.5"/><circle cx="262.8" cy="319.34" r="0.33"/><circle cx="277.03" cy="324.34" r="0.38"/><circle cx="265.39" cy="333.65" r="0.34"/><circle cx="261.58" cy="321.77" r="0.32"/><circle cx="257.6" cy="311.3" r="0.44"/><circle cx="253.83" cy="329.15" r="0.32"/><circle cx="261.87" cy="336.17" r="0.58"/></g>
<path d="M305.58 331.57C305.15 330.25 305.35 328.14 305.58 326.43C305.82 324.72 306.17 322.65 306.99 321.29C307.8 319.93 309.24 318.64 310.49 318.25C311.74 317.86 313.02 318.6 314.46 318.95C315.9 319.3 317.46 320.43 319.13 320.35C320.81 320.28 323.5 319.81 324.51 318.49C325.52 317.16 324.94 314.98 325.21 312.41C325.48 309.84 325.68 305.99 326.14 303.06C326.61 300.14 327.12 296.91 328.01 294.89C328.91 292.86 330.08 291.3 331.52 290.91C332.96 290.53 334.94 291.11 336.66 292.55C338.37 293.99 340.32 297.03 341.8 299.56C343.28 302.09 344.6 305.21 345.54 307.74C346.47 310.27 346.82 312.99 347.41 314.75C347.99 316.5 347.99 317.67 349.04 318.25C350.09 318.84 352.16 318.8 353.71 318.25C355.27 317.71 356.83 316.11 358.39 314.98C359.94 313.85 361.5 312.29 363.06 311.48C364.62 310.66 366.37 309.8 367.73 310.07C369.1 310.35 370.42 311.83 371.24 313.11C372.06 314.4 372.95 316.34 372.64 317.78C372.33 319.22 370.89 320.86 369.37 321.76C367.85 322.65 365.12 322.38 363.53 323.16C361.93 323.94 360.65 324.72 359.79 326.43C358.93 328.14 359.2 331.1 358.39 333.44C357.57 335.77 356.44 338.42 354.88 340.45C353.32 342.47 351.38 344.3 349.04 345.59C346.7 346.87 343.59 347.73 340.86 348.16C338.14 348.59 335.41 348.66 332.69 348.16C329.96 347.65 326.84 346.41 324.51 345.12C322.17 343.84 320.26 342.12 318.67 340.45C317.07 338.77 316.1 336.16 314.93 335.07C313.76 333.98 312.79 334.02 311.66 333.91C310.53 333.79 309.17 334.76 308.15 334.37C307.14 333.98 306.01 332.89 305.58 331.57Z" fill="url(#b5)" stroke="#6aa6ea" stroke-width="0.3" filter="url(#bl2)"/>
<path d="M387.38 331.87C386.95 330.55 387.15 328.44 387.38 326.73C387.62 325.02 387.97 322.95 388.79 321.59C389.6 320.23 391.04 318.94 392.29 318.55C393.54 318.16 394.82 318.9 396.26 319.25C397.7 319.6 399.26 320.73 400.93 320.65C402.61 320.58 405.3 320.11 406.31 318.79C407.32 317.46 406.74 315.28 407.01 312.71C407.28 310.14 407.48 306.29 407.94 303.36C408.41 300.44 408.92 297.21 409.81 295.19C410.71 293.16 411.88 291.6 413.32 291.21C414.76 290.83 416.74 291.41 418.46 292.85C420.17 294.29 422.12 297.33 423.6 299.86C425.08 302.39 426.4 305.51 427.34 308.04C428.27 310.57 428.62 313.29 429.21 315.05C429.79 316.8 429.79 317.97 430.84 318.55C431.89 319.14 433.96 319.1 435.51 318.55C437.07 318.01 438.63 316.41 440.19 315.28C441.74 314.15 443.3 312.59 444.86 311.78C446.42 310.96 448.17 310.1 449.53 310.37C450.9 310.65 452.22 312.13 453.04 313.41C453.86 314.7 454.75 316.64 454.44 318.08C454.13 319.52 452.69 321.16 451.17 322.06C449.65 322.95 446.92 322.68 445.33 323.46C443.73 324.24 442.45 325.02 441.59 326.73C440.73 328.44 441 331.4 440.19 333.74C439.37 336.07 438.24 338.72 436.68 340.75C435.12 342.77 433.18 344.6 430.84 345.89C428.5 347.17 425.39 348.03 422.66 348.46C419.94 348.89 417.21 348.96 414.49 348.46C411.76 347.95 408.64 346.71 406.31 345.42C403.97 344.14 402.06 342.42 400.47 340.75C398.87 339.07 397.9 336.46 396.73 335.37C395.56 334.28 394.59 334.32 393.46 334.21C392.33 334.09 390.97 335.06 389.95 334.67C388.94 334.28 387.81 333.19 387.38 331.87Z" fill="url(#b6)" stroke="#8ab4c8" stroke-width="0.3" filter="url(#bl2)"/>
<rect x="221.6" y="280.9" width="233" height="4.6" fill="url(#arr)"/>
<path d="M453.6 279.6L458 283.2L453.6 286.8Z" fill="#e6ee3e"/>
<text x="223.7" y="278.3" font-size="11.2" font-weight="bold" text-anchor="start" fill="#5a78d6" stroke="#5a78d6" stroke-width="0.3" textLength="32.8" lengthAdjust="spacingAndGlyphs">UV on</text>
<text x="302.3" y="278.8" font-size="11.2" font-weight="bold" text-anchor="start" fill="#5a78d6" stroke="#5a78d6" stroke-width="0.3" textLength="15.4" lengthAdjust="spacingAndGlyphs">5 s</text>
<text x="380.6" y="278.8" font-size="11.2" font-weight="bold" text-anchor="start" fill="#5a78d6" stroke="#5a78d6" stroke-width="0.3" textLength="21.2" lengthAdjust="spacingAndGlyphs">15 s</text>
<text x="223" y="351.6" font-size="11.2" font-weight="bold" text-anchor="start" fill="#5a78d6" stroke="#5a78d6" stroke-width="0.3" textLength="22.4" lengthAdjust="spacingAndGlyphs">20 s</text>
<text x="298" y="351.6" font-size="11.2" font-weight="bold" text-anchor="start" fill="#5a78d6" stroke="#5a78d6" stroke-width="0.3" textLength="22.4" lengthAdjust="spacingAndGlyphs">25 s</text>
<text x="382.2" y="351.6" font-size="11.2" font-weight="bold" text-anchor="start" fill="#5a78d6" stroke="#5a78d6" stroke-width="0.3" textLength="22" lengthAdjust="spacingAndGlyphs">30 s</text>
<text x="223.4" y="204.3" font-size="12.6" font-weight="bold" text-anchor="start" fill="#000" stroke="#000" stroke-width="0.3">e</text>
</g>
<g id="panel_f">
<path d="M483.7 248.3 L486.33 259.01 L488.97 270.14 L491.6 282.18 L494.24 294.87 L496.87 305.29 L499.51 313.95 L502.14 321.35 L504.78 326.83 L507.41 330.95 L510.05 334.45 L512.68 337.06 L515.32 338.56 L517.95 339.53 L520.59 340.29 L523.22 340.9 L525.86 341.37 L528.49 341.77 L531.13 342.11 L533.76 342.4 L536.4 342.66 L539.03 342.88 L541.67 343.08 L544.3 343.27 L546.93 343.45 L549.57 343.63 L552.2 343.8 L554.84 343.96 L557.47 344.11 L560.11 344.26 L562.74 344.4 L565.38 344.53 L568.01 344.65 L570.65 344.76 L573.28 344.86 L575.92 344.94 L578.55 345.01 L581.19 345.08 L583.82 345.14 L586.46 345.19 L589.09 345.24 L591.73 345.29 L594.36 345.33 L597 345.37 L599.63 345.41 L602.27 345.45 L604.9 345.48 L607.53 345.52 L610.17 345.56 L612.8 345.6 L615.44 345.63 L618.07 345.67 L620.71 345.71 L623.34 345.74 L625.98 345.78 L628.61 345.81 L631.25 345.85 L633.88 345.88 L636.52 345.91 L639.15 345.94 L641.79 345.97 L644.42 346 L647.06 346.03 L649.69 346.06 L652.33 346.08 L654.96 346.11 L657.6 346.13 L660.23 346.16 L662.87 346.18 L665.5 346.2" fill="none" stroke="#f6c8c8" stroke-width="1.05" stroke-linejoin="round"/>
<path d="M483.7 248.3 L486.33 254.68 L488.97 261.66 L491.6 269.15 L494.24 277.32 L496.87 286.96 L499.51 296.41 L502.14 303.83 L504.78 310.2 L507.41 315.78 L510.05 320.16 L512.68 323.13 L515.32 325.55 L517.95 327.47 L520.59 328.77 L523.22 329.5 L525.86 330.04 L528.49 330.46 L531.13 330.82 L533.76 331.17 L536.4 331.53 L539.03 331.86 L541.67 332.16 L544.3 332.47 L546.93 332.83 L549.57 333.28 L552.2 333.84 L554.84 334.47 L557.47 335.12 L560.11 335.74 L562.74 336.3 L565.38 336.84 L568.01 337.37 L570.65 337.88 L573.28 338.39 L575.92 338.9 L578.55 339.41 L581.19 339.95 L583.82 340.49 L586.46 340.97 L589.09 341.34 L591.73 341.67 L594.36 341.98 L597 342.25 L599.63 342.5 L602.27 342.72 L604.9 342.92 L607.53 343.1 L610.17 343.28 L612.8 343.46 L615.44 343.64 L618.07 343.81 L620.71 343.98 L623.34 344.15 L625.98 344.31 L628.61 344.47 L631.25 344.62 L633.88 344.76 L636.52 344.9 L639.15 345.03 L641.79 345.15 L644.42 345.27 L647.06 345.37 L649.69 345.47 L652.33 345.55 L654.96 345.63 L657.6 345.69 L660.23 345.74 L662.87 345.78 L665.5 345.8" fill="none" stroke="#f29494" stroke-width="1.05" stroke-linejoin="round"/>
<path d="M483.7 247.3 L486.33 252.12 L488.97 257.37 L491.6 262.98 L494.24 268.93 L496.87 275.59 L499.51 283.15 L502.14 290.59 L504.78 296.86 L507.41 302.1 L510.05 306.87 L512.68 310.89 L515.32 313.92 L517.95 316.37 L520.59 318.43 L523.22 320.03 L525.86 321.13 L528.49 321.95 L531.13 322.62 L533.76 323.2 L536.4 323.8 L539.03 324.47 L541.67 325.15 L544.3 325.84 L546.93 326.58 L549.57 327.41 L552.2 328.35 L554.84 329.35 L557.47 330.35 L560.11 331.3 L562.74 332.16 L565.38 332.97 L568.01 333.76 L570.65 334.51 L573.28 335.24 L575.92 335.95 L578.55 336.64 L581.19 337.34 L583.82 338.01 L586.46 338.61 L589.09 339.08 L591.73 339.5 L594.36 339.87 L597 340.22 L599.63 340.53 L602.27 340.82 L604.9 341.09 L607.53 341.34 L610.17 341.58 L612.8 341.79 L615.44 341.99 L618.07 342.19 L620.71 342.37 L623.34 342.56 L625.98 342.75 L628.61 342.94 L631.25 343.12 L633.88 343.3 L636.52 343.49 L639.15 343.67 L641.79 343.84 L644.42 344.02 L647.06 344.19 L649.69 344.36 L652.33 344.52 L654.96 344.68 L657.6 344.84 L660.23 345 L662.87 345.15 L665.5 345.3" fill="none" stroke="#ea6262" stroke-width="1.05" stroke-linejoin="round"/>
<path d="M483.7 246.7 L486.33 249.23 L488.97 252.54 L491.6 256.61 L494.24 261.81 L496.87 267.55 L499.51 273.41 L502.14 279.9 L504.78 286.41 L507.41 292.19 L510.05 296.98 L512.68 301.42 L515.32 305.27 L517.95 308.26 L520.59 310.48 L523.22 312.32 L525.86 313.88 L528.49 315.24 L531.13 316.41 L533.76 317.43 L536.4 318.4 L539.03 319.39 L541.67 320.34 L544.3 321.28 L546.93 322.27 L549.57 323.38 L552.2 324.64 L554.84 325.98 L557.47 327.29 L560.11 328.51 L562.74 329.56 L565.38 330.54 L568.01 331.47 L570.65 332.35 L573.28 333.19 L575.92 333.99 L578.55 334.76 L581.19 335.52 L583.82 336.24 L586.46 336.88 L589.09 337.41 L591.73 337.88 L594.36 338.32 L597 338.72 L599.63 339.09 L602.27 339.44 L604.9 339.77 L607.53 340.08 L610.17 340.38 L612.8 340.66 L615.44 340.93 L618.07 341.18 L620.71 341.42 L623.34 341.65 L625.98 341.87 L628.61 342.07 L631.25 342.26 L633.88 342.44 L636.52 342.62 L639.15 342.81 L641.79 343 L644.42 343.2 L647.06 343.4 L649.69 343.61 L652.33 343.82 L654.96 344.03 L657.6 344.24 L660.23 344.46 L662.87 344.68 L665.5 344.9" fill="none" stroke="#c82222" stroke-width="1.25" stroke-linejoin="round"/>
<path d="M483.7 244 L486.33 246.58 L488.97 249.91 L491.6 253.78 L494.24 258.64 L496.87 264.26 L499.51 270.11 L502.14 276.59 L504.78 283.11 L507.41 288.89 L510.05 293.68 L512.68 298.12 L515.32 301.97 L517.95 304.96 L520.59 307.18 L523.22 309.02 L525.86 310.58 L528.49 311.94 L531.13 313.11 L533.76 314.14 L536.4 315.1 L539.03 316.08 L541.67 317 L544.3 317.9 L546.93 318.87 L549.57 320 L552.2 321.32 L554.84 322.74 L557.47 324.16 L560.11 325.47 L562.74 326.6 L565.38 327.64 L568.01 328.63 L570.65 329.57 L573.28 330.47 L575.92 331.33 L578.55 332.18 L581.19 333.01 L583.82 333.81 L586.46 334.53 L589.09 335.14 L591.73 335.69 L594.36 336.21 L597 336.68 L599.63 337.12 L602.27 337.54 L604.9 337.94 L607.53 338.32 L610.17 338.69 L612.8 339.04 L615.44 339.37 L618.07 339.68 L620.71 339.98 L623.34 340.25 L625.98 340.49 L628.61 340.7 L631.25 340.9 L633.88 341.09 L636.52 341.28 L639.15 341.48 L641.79 341.7 L644.42 341.94 L647.06 342.19 L649.69 342.45 L652.33 342.72 L654.96 343 L657.6 343.28 L660.23 343.58 L662.87 343.89 L665.5 344.2" fill="none" stroke="#8c1424" stroke-width="1.25" stroke-linejoin="round"/>
<path d="M483.7 242.7 L486.33 242.96 L488.97 243.67 L491.6 245.91 L494.24 249.39 L496.87 253.35 L499.51 257.36 L502.14 262.19 L504.78 267.39 L507.41 272.31 L510.05 276.71 L512.68 281.01 L515.32 284.96 L517.95 288.25 L520.59 290.86 L523.22 293.1 L525.86 295.12 L528.49 297.06 L531.13 298.9 L533.76 300.63 L536.4 302.29 L539.03 303.94 L541.67 305.51 L544.3 307.05 L546.93 308.63 L549.57 310.33 L552.2 312.15 L554.84 314.02 L557.47 315.86 L560.11 317.58 L562.74 319.13 L565.38 320.59 L568.01 321.99 L570.65 323.33 L573.28 324.6 L575.92 325.8 L578.55 326.93 L581.19 328 L583.82 329 L586.46 329.91 L589.09 330.73 L591.73 331.48 L594.36 332.19 L597 332.86 L599.63 333.5 L602.27 334.1 L604.9 334.67 L607.53 335.22 L610.17 335.74 L612.8 336.25 L615.44 336.73 L618.07 337.18 L620.71 337.61 L623.34 338.02 L625.98 338.39 L628.61 338.73 L631.25 339.04 L633.88 339.34 L636.52 339.64 L639.15 339.96 L641.79 340.3 L644.42 340.67 L647.06 341.08 L649.69 341.5 L652.33 341.93 L654.96 342.34 L657.6 342.72 L660.23 343.05 L662.87 343.34 L665.5 343.6" fill="none" stroke="#f072d4" stroke-width="1.25" stroke-linejoin="round"/>
<line x1="518" y1="338.3" x2="548" y2="316.2" stroke="#b4b4b4" stroke-width="0.7"/>
<path d="M550.4 314.5L546.3 315.4L548.3 318.1Z" fill="#a8a8a8"/>
<rect x="483.6" y="208.6" width="182.2" height="145.8" fill="none" stroke="#000" stroke-width="1.1"/>
<line x1="483.6" y1="354.4" x2="483.6" y2="357.6" stroke="#000" stroke-width="0.9"/>
<line x1="498.78" y1="354.4" x2="498.78" y2="356.3" stroke="#000" stroke-width="0.9"/>
<line x1="513.97" y1="354.4" x2="513.97" y2="357.6" stroke="#000" stroke-width="0.9"/>
<line x1="529.15" y1="354.4" x2="529.15" y2="356.3" stroke="#000" stroke-width="0.9"/>
<line x1="544.33" y1="354.4" x2="544.33" y2="357.6" stroke="#000" stroke-width="0.9"/>
<line x1="559.52" y1="354.4" x2="559.52" y2="356.3" stroke="#000" stroke-width="0.9"/>
<line x1="574.7" y1="354.4" x2="574.7" y2="357.6" stroke="#000" stroke-width="0.9"/>
<line x1="589.88" y1="354.4" x2="589.88" y2="356.3" stroke="#000" stroke-width="0.9"/>
<line x1="605.07" y1="354.4" x2="605.07" y2="357.6" stroke="#000" stroke-width="0.9"/>
<line x1="620.25" y1="354.4" x2="620.25" y2="356.3" stroke="#000" stroke-width="0.9"/>
<line x1="635.43" y1="354.4" x2="635.43" y2="357.6" stroke="#000" stroke-width="0.9"/>
<line x1="650.62" y1="354.4" x2="650.62" y2="356.3" stroke="#000" stroke-width="0.9"/>
<line x1="665.8" y1="354.4" x2="665.8" y2="357.6" stroke="#000" stroke-width="0.9"/>
<text x="483.6" y="367.8" font-size="10.1" font-weight="bold" text-anchor="middle" fill="#000" stroke="#000" stroke-width="0.3">335</text>
<text x="513.97" y="367.8" font-size="10.1" font-weight="bold" text-anchor="middle" fill="#000" stroke="#000" stroke-width="0.3">385</text>
<text x="544.33" y="367.8" font-size="10.1" font-weight="bold" text-anchor="middle" fill="#000" stroke="#000" stroke-width="0.3">435</text>
<text x="574.7" y="367.8" font-size="10.1" font-weight="bold" text-anchor="middle" fill="#000" stroke="#000" stroke-width="0.3">485</text>
<text x="605.07" y="367.8" font-size="10.1" font-weight="bold" text-anchor="middle" fill="#000" stroke="#000" stroke-width="0.3">535</text>
<text x="635.43" y="367.8" font-size="10.1" font-weight="bold" text-anchor="middle" fill="#000" stroke="#000" stroke-width="0.3">585</text>
<text x="665.8" y="367.8" font-size="10.1" font-weight="bold" text-anchor="middle" fill="#000" stroke="#000" stroke-width="0.3">635</text>
<text x="574.8" y="384.2" font-size="16.6" font-weight="bold" text-anchor="middle" fill="#000" stroke="#000" stroke-width="0.3" textLength="121" lengthAdjust="spacingAndGlyphs">Wavelength (nm)</text>
<text x="475.4" y="281.7" font-size="15.2" font-weight="bold" text-anchor="middle" fill="#000" stroke="#000" stroke-width="0.3" transform="rotate(-90 475.4 281.7)" textLength="33" lengthAdjust="spacingAndGlyphs">Abs.</text>
<line x1="627.3" y1="212.4" x2="644" y2="212.4" stroke="#f6c8c8" stroke-width="1.1"/>
<text x="646.2" y="214.7" font-size="6.4" font-weight="bold" text-anchor="start" fill="#000" stroke="#000" stroke-width="0.2">0 s</text>
<line x1="627.3" y1="221.5" x2="644" y2="221.5" stroke="#f29494" stroke-width="1.1"/>
<text x="646.2" y="223.8" font-size="6.4" font-weight="bold" text-anchor="start" fill="#000" stroke="#000" stroke-width="0.2">30 s</text>
<line x1="627.3" y1="230.6" x2="644" y2="230.6" stroke="#ea6262" stroke-width="1.1"/>
<text x="646.2" y="232.9" font-size="6.4" font-weight="bold" text-anchor="start" fill="#000" stroke="#000" stroke-width="0.2">60 s</text>
<line x1="627.3" y1="239.7" x2="644" y2="239.7" stroke="#c82222" stroke-width="1.3"/>
<text x="646.2" y="242" font-size="6.4" font-weight="bold" text-anchor="start" fill="#000" stroke="#000" stroke-width="0.2">90 s</text>
<line x1="627.3" y1="248.8" x2="644" y2="248.8" stroke="#8c1424" stroke-width="1.3"/>
<text x="646.2" y="251.1" font-size="6.4" font-weight="bold" text-anchor="start" fill="#000" stroke="#000" stroke-width="0.2">120 s</text>
<line x1="627.3" y1="257.9" x2="644" y2="257.9" stroke="#f072d4" stroke-width="1.3"/>
<text x="646.2" y="260.2" font-size="6.4" font-weight="bold" text-anchor="start" fill="#000" stroke="#000" stroke-width="0.2">300 s</text>
<text x="458" y="203.7" font-size="12.6" font-weight="bold" text-anchor="start" fill="#000" stroke="#000" stroke-width="0.3">f</text>
</g>
</svg>
</body></html>
